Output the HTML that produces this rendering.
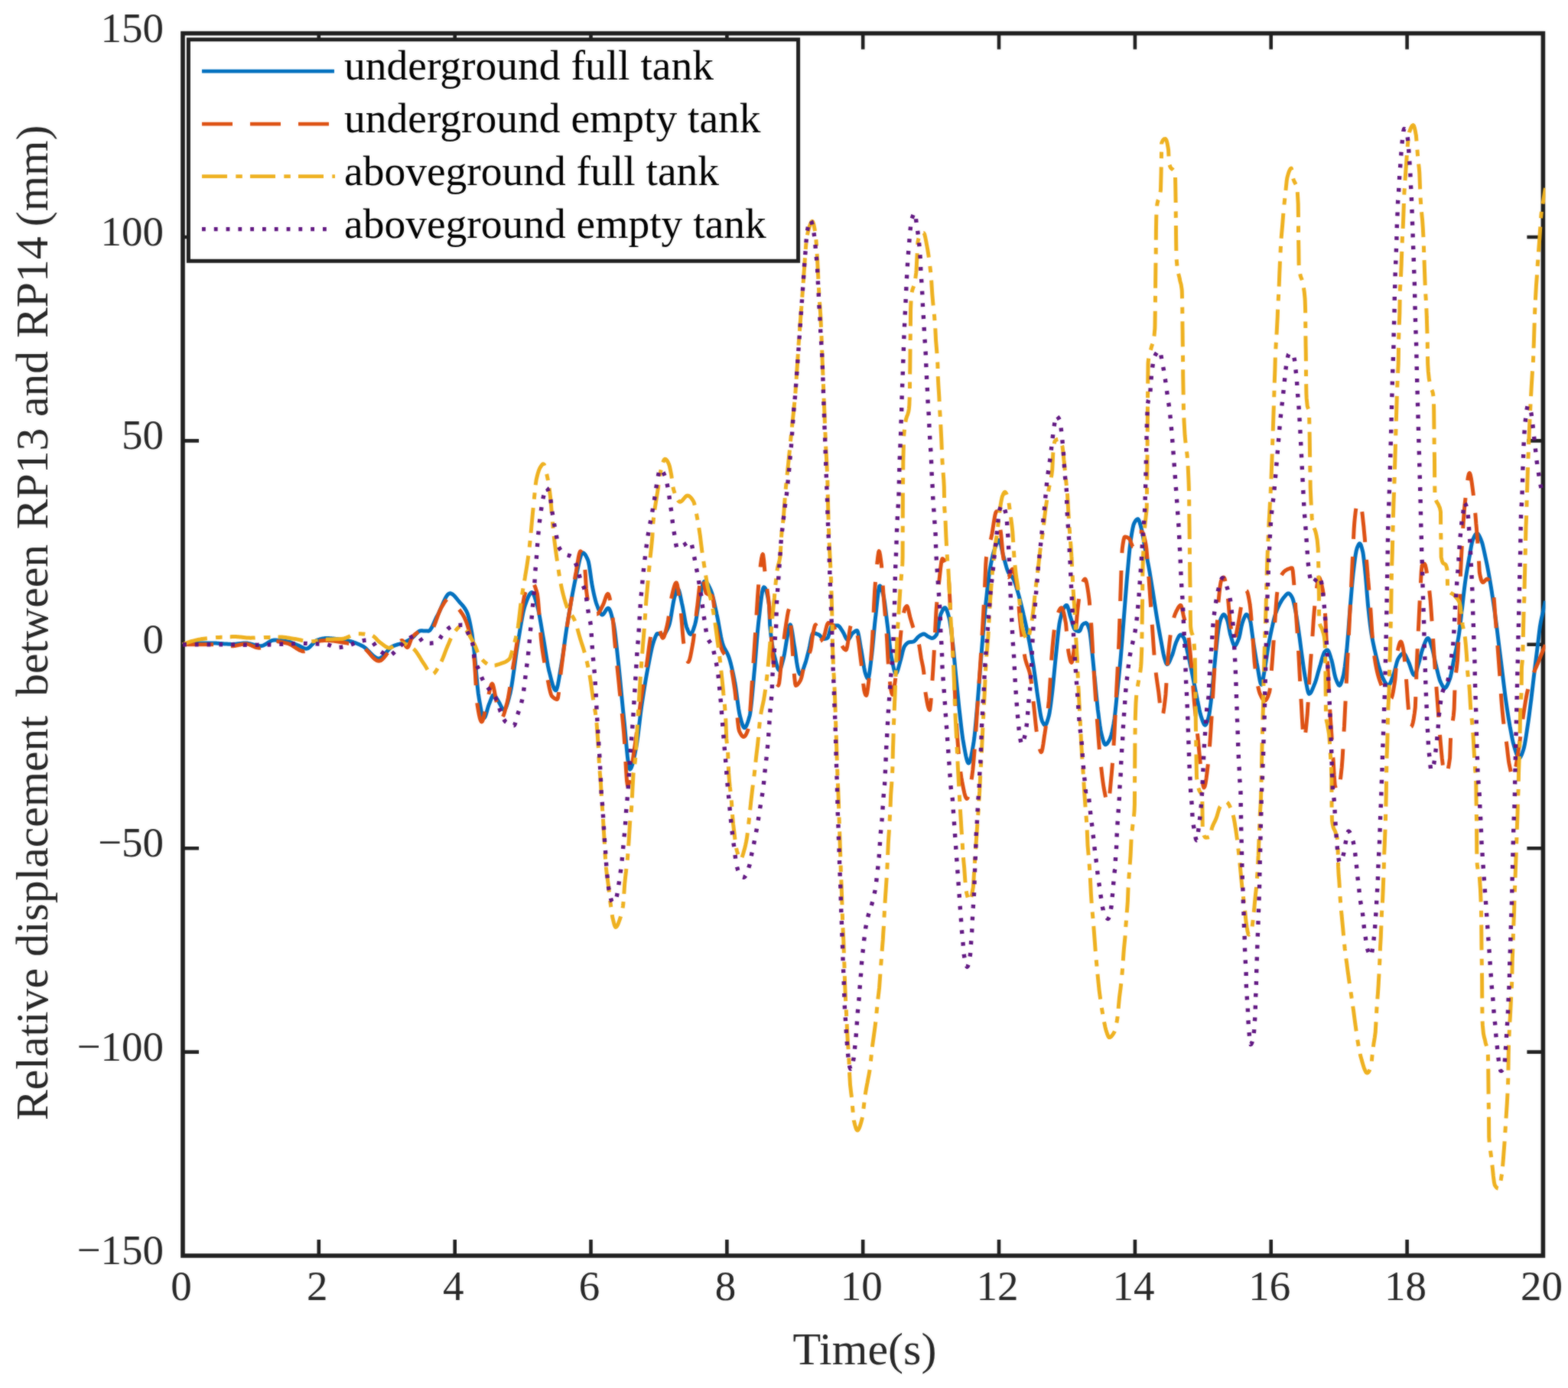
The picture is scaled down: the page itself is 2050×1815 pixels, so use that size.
<!DOCTYPE html>
<html lang="en"><head><meta charset="utf-8"><title>Relative displacement between RP13 and RP14</title>
<style>html,body{margin:0;padding:0;background:#fff}body{width:2050px;height:1815px;overflow:hidden}svg{display:block}text{font-family:"Liberation Serif","DejaVu Serif",serif;fill:#262626}.lg text{fill:#000}</style>
</head><body>
<svg width="2050" height="1815" viewBox="0 0 2050 1815">
<defs><filter id="soft" x="0" y="0" width="2050" height="1815" filterUnits="userSpaceOnUse" color-interpolation-filters="sRGB"><feGaussianBlur in="SourceGraphic" stdDeviation="1" result="b"/><feComposite in="SourceGraphic" in2="b" operator="arithmetic" k1="0" k2="0.5" k3="0.5" k4="0"/></filter></defs>
<rect width="2050" height="1815" fill="#fff"/>
<g filter="url(#soft)">
<rect width="2050" height="1815" fill="#fff"/>
<g stroke="#1f1f1f" stroke-width="5.6" fill="none">
<rect x="239.0" y="43.6" width="1778.4" height="1598.4"/>
<path d="M416.8,1642.0 v-21 M416.8,43.6 v21 M594.7,1642.0 v-21 M594.7,43.6 v21 M772.5,1642.0 v-21 M772.5,43.6 v21 M950.4,1642.0 v-21 M950.4,43.6 v21 M1128.2,1642.0 v-21 M1128.2,43.6 v21 M1306.0,1642.0 v-21 M1306.0,43.6 v21 M1483.9,1642.0 v-21 M1483.9,43.6 v21 M1661.7,1642.0 v-21 M1661.7,43.6 v21 M1839.6,1642.0 v-21 M1839.6,43.6 v21 M239.0,1375.6 h21 M2017.4,1375.6 h-21 M239.0,1109.2 h21 M2017.4,1109.2 h-21 M239.0,842.8 h21 M2017.4,842.8 h-21 M239.0,576.4 h21 M2017.4,576.4 h-21 M239.0,310.0 h21 M2017.4,310.0 h-21" stroke-width="4.6"/>
</g>
<clipPath id="c"><rect x="236.0" y="40.6" width="1784.4" height="1604.4"/></clipPath>
<g clip-path="url(#c)" fill="none" stroke-width="5.0" stroke-linejoin="round">
<path d="M239.0,842.8 L240.0,842.6 L241.0,842.4 L242.0,842.3 L243.0,842.1 L244.0,842.0 L245.0,841.8 L246.0,841.7 L247.0,841.6 L248.0,841.4 L249.0,841.3 L250.0,841.2 L251.0,841.1 L252.0,841.1 L253.0,841.0 L254.0,841.0 L254.7,841.0 L255.0,841.0 L256.0,841.0 L257.0,841.0 L258.0,841.0 L259.0,841.0 L260.0,841.0 L261.0,841.0 L262.0,841.0 L263.0,841.0 L264.0,841.0 L265.0,841.0 L266.0,841.0 L267.0,841.0 L268.0,841.0 L269.0,841.0 L270.0,841.0 L271.0,841.0 L272.0,841.0 L273.0,841.0 L274.0,841.0 L275.0,841.0 L276.0,841.0 L277.0,841.0 L278.0,841.0 L278.1,841.0 L279.0,841.0 L280.0,841.0 L281.0,841.1 L282.0,841.1 L283.0,841.1 L284.0,841.2 L285.0,841.3 L286.0,841.3 L287.0,841.4 L288.0,841.5 L289.0,841.5 L290.0,841.6 L291.0,841.7 L292.0,841.8 L293.0,841.9 L294.0,841.9 L295.0,842.0 L296.0,842.1 L297.0,842.1 L298.0,842.2 L299.0,842.3 L300.0,842.3 L301.1,842.3 L302.1,842.4 L303.1,842.4 L303.6,842.4 L304.1,842.4 L305.1,842.3 L306.1,842.3 L307.1,842.2 L308.1,842.2 L309.1,842.1 L310.1,842.0 L311.1,841.8 L312.1,841.7 L313.1,841.6 L314.1,841.5 L315.1,841.4 L316.1,841.3 L317.1,841.2 L318.1,841.1 L319.1,841.1 L320.1,841.0 L321.1,841.0 L321.2,841.0 L322.1,841.0 L323.1,841.1 L324.1,841.2 L325.1,841.4 L326.1,841.6 L327.1,841.8 L328.1,842.1 L329.1,842.3 L330.1,842.6 L331.1,842.9 L332.1,843.2 L333.1,843.5 L334.1,843.7 L335.1,844.0 L336.1,844.2 L337.1,844.4 L338.1,844.5 L339.1,844.6 L340.1,844.7 L340.8,844.7 L341.1,844.7 L342.1,844.6 L343.1,844.4 L344.1,844.0 L345.1,843.6 L346.1,843.1 L347.1,842.5 L348.1,841.9 L349.1,841.2 L350.1,840.6 L351.1,839.9 L352.1,839.3 L353.1,838.7 L354.1,838.2 L355.1,837.8 L356.1,837.4 L357.1,837.2 L358.1,837.1 L358.4,837.1 L359.1,837.1 L360.1,837.1 L361.1,837.1 L362.1,837.2 L363.1,837.3 L364.1,837.3 L365.1,837.4 L366.1,837.5 L367.1,837.6 L368.1,837.7 L369.1,837.8 L370.1,838.0 L371.1,838.1 L372.1,838.3 L373.1,838.4 L374.1,838.6 L375.1,838.7 L376.0,838.9 L376.1,838.9 L377.1,839.1 L378.1,839.3 L379.1,839.6 L380.1,839.9 L381.1,840.3 L382.1,840.7 L383.1,841.1 L384.1,841.6 L385.1,842.0 L386.1,842.4 L387.1,842.9 L388.1,843.3 L389.1,843.7 L389.7,843.9 L390.1,844.1 L391.1,844.6 L392.1,845.1 L393.1,845.6 L394.1,846.1 L395.1,846.6 L396.1,847.1 L397.1,847.5 L398.1,847.9 L399.1,848.1 L400.1,848.2 L400.4,848.2 L401.1,848.2 L402.1,847.9 L403.1,847.4 L404.1,846.7 L405.1,845.8 L406.1,844.9 L407.1,843.8 L408.1,842.8 L409.1,841.7 L410.1,840.6 L411.1,839.6 L412.1,838.7 L413.1,837.9 L414.1,837.3 L415.1,836.9 L415.1,836.9 L416.1,836.6 L417.1,836.3 L418.1,836.0 L419.1,835.7 L420.1,835.5 L421.1,835.2 L422.1,835.0 L423.1,834.9 L424.1,834.7 L425.2,834.6 L426.2,834.6 L426.9,834.5 L427.2,834.5 L428.2,834.6 L429.2,834.6 L430.2,834.6 L431.2,834.7 L432.2,834.7 L433.2,834.8 L434.2,834.9 L435.2,835.0 L436.2,835.1 L437.2,835.2 L438.2,835.3 L439.2,835.4 L440.2,835.5 L441.2,835.6 L442.2,835.7 L442.5,835.7 L443.2,835.8 L444.2,835.9 L445.2,836.0 L446.2,836.2 L447.2,836.3 L448.2,836.5 L449.2,836.6 L450.2,836.8 L451.2,837.0 L452.2,837.2 L453.2,837.4 L454.2,837.6 L455.2,837.8 L456.2,838.1 L456.2,838.1 L457.2,838.3 L458.2,838.6 L459.2,838.8 L460.2,839.1 L461.2,839.4 L462.2,839.8 L463.2,840.1 L464.2,840.5 L465.2,840.9 L466.2,841.3 L467.2,841.7 L468.2,842.1 L469.2,842.5 L470.2,843.0 L471.2,843.4 L472.2,843.9 L473.2,844.4 L473.8,844.7 L474.2,844.9 L475.2,845.5 L476.2,846.2 L477.2,847.0 L478.2,847.8 L479.2,848.7 L480.2,849.7 L481.2,850.7 L482.2,851.7 L483.2,852.8 L484.2,853.8 L485.2,854.8 L486.2,855.8 L487.2,856.7 L488.2,857.6 L489.2,858.4 L490.2,859.1 L491.2,859.7 L492.2,860.2 L493.2,860.6 L494.2,860.9 L495.2,861.0 L495.4,861.0 L496.2,860.9 L497.2,860.6 L498.2,860.1 L499.2,859.4 L500.2,858.5 L501.2,857.6 L502.2,856.5 L503.2,855.3 L504.2,854.1 L505.2,852.9 L506.2,851.7 L507.2,850.5 L508.2,849.3 L509.2,848.3 L510.2,847.3 L511.2,846.4 L512.2,845.7 L513.0,845.3 L513.2,845.2 L514.2,844.7 L515.2,844.3 L516.2,844.0 L517.2,843.6 L518.2,843.3 L519.2,843.0 L520.2,842.7 L521.2,842.4 L522.2,842.2 L523.2,841.9 L524.2,841.6 L525.2,841.3 L526.2,840.9 L527.2,840.6 L528.2,840.2 L528.6,840.0 L529.2,839.8 L530.2,839.3 L531.2,838.8 L532.2,838.3 L533.2,837.7 L534.2,837.2 L535.2,836.6 L536.2,836.0 L537.2,835.3 L538.2,834.7 L538.4,834.5 L539.2,833.9 L540.2,833.0 L541.2,832.0 L542.2,830.9 L543.2,829.8 L544.2,828.7 L545.2,827.7 L546.2,826.7 L547.2,825.9 L548.3,825.3 L549.3,824.9 L550.2,824.8 L550.3,824.8 L551.3,824.8 L552.3,824.8 L553.3,824.9 L554.3,824.9 L555.3,825.0 L556.3,825.0 L557.3,825.1 L558.3,825.1 L559.3,825.1 L559.9,825.2 L560.3,825.1 L561.3,824.7 L562.3,823.8 L563.3,822.4 L564.3,820.8 L565.3,818.8 L566.3,816.7 L567.3,814.5 L568.3,812.2 L569.3,810.0 L570.3,807.9 L571.3,805.9 L571.7,805.2 L572.3,804.1 L573.3,802.2 L574.3,800.1 L575.3,797.9 L576.3,795.6 L577.3,793.2 L578.3,790.9 L579.3,788.5 L580.3,786.3 L581.3,784.2 L582.3,782.2 L583.3,780.4 L584.3,778.9 L585.3,777.6 L586.3,776.7 L587.3,776.1 L588.3,775.8 L588.3,775.8 L589.3,776.0 L590.3,776.3 L591.3,776.9 L592.3,777.6 L593.3,778.5 L594.3,779.5 L595.3,780.6 L596.3,781.8 L597.3,783.0 L598.3,784.3 L599.3,785.5 L600.3,786.7 L601.0,787.6 L601.3,787.9 L602.3,789.0 L603.3,790.0 L604.3,791.2 L605.3,792.3 L606.3,793.6 L607.3,795.0 L608.3,796.5 L609.3,798.2 L610.3,800.2 L610.8,801.3 L611.3,802.5 L612.3,805.6 L613.3,809.5 L614.3,814.0 L615.3,819.1 L616.3,824.5 L616.7,826.7 L617.3,830.5 L618.3,837.8 L619.3,846.0 L620.0,851.9 L620.3,854.7 L621.3,864.8 L622.3,876.0 L623.3,887.4 L624.3,898.0 L625.3,906.8 L625.9,910.6 L626.3,913.3 L627.3,919.2 L628.3,924.9 L629.3,930.0 L630.3,934.2 L631.3,937.3 L632.3,938.8 L632.7,939.0 L633.3,938.7 L634.3,937.1 L635.3,934.4 L636.3,931.0 L637.3,927.4 L638.3,923.9 L639.3,921.0 L639.6,920.4 L640.3,918.6 L641.3,915.9 L642.3,913.3 L643.3,911.0 L644.3,909.4 L645.3,908.7 L645.4,908.7 L646.3,909.0 L647.3,910.0 L648.3,911.5 L649.3,913.2 L650.3,915.0 L651.3,916.5 L651.3,916.5 L652.3,918.1 L653.3,920.0 L654.3,922.0 L655.3,923.9 L656.3,925.7 L657.3,927.1 L658.3,928.0 L659.1,928.2 L659.3,928.2 L660.3,927.5 L661.3,925.8 L662.3,923.3 L663.3,920.3 L664.3,916.8 L665.3,913.0 L666.3,909.1 L667.0,906.7 L667.3,905.2 L668.3,900.3 L669.3,894.4 L670.3,887.8 L671.3,880.6 L672.4,873.1 L673.4,865.6 L674.4,858.1 L675.4,851.0 L676.4,844.5 L676.8,842.1 L677.4,838.6 L678.4,832.6 L679.4,826.5 L680.4,820.4 L681.4,814.6 L682.4,809.0 L683.4,803.8 L684.4,799.1 L685.4,795.0 L686.4,791.7 L686.5,791.2 L687.4,789.0 L688.4,786.2 L689.4,783.6 L690.4,781.2 L691.4,779.0 L692.4,777.2 L693.4,775.8 L694.4,774.9 L695.3,774.6 L695.4,774.6 L696.4,775.2 L697.4,776.7 L698.4,779.0 L699.4,781.9 L700.4,785.1 L701.4,788.5 L702.2,791.2 L702.4,791.9 L703.4,795.8 L704.4,800.4 L705.4,805.6 L706.4,811.2 L707.4,817.0 L708.4,823.0 L709.4,828.8 L710.0,832.3 L710.4,834.4 L711.4,840.3 L712.4,846.6 L713.4,852.9 L714.4,859.2 L715.4,865.2 L716.4,870.7 L717.4,875.5 L717.8,877.4 L718.4,879.5 L719.4,883.5 L720.4,887.5 L721.4,891.3 L722.4,894.8 L723.4,897.9 L724.4,900.3 L725.4,902.0 L726.4,902.8 L726.7,902.8 L727.4,902.2 L728.4,899.5 L729.4,895.3 L730.4,890.0 L731.4,884.0 L732.4,877.9 L733.4,872.0 L733.5,871.5 L734.4,866.3 L735.4,859.9 L736.4,853.0 L737.4,845.8 L738.4,838.6 L739.4,831.4 L740.4,824.5 L741.3,818.6 L741.4,818.2 L742.4,812.1 L743.4,806.0 L744.4,800.0 L745.4,794.0 L746.4,788.2 L747.4,782.5 L748.4,776.9 L749.4,771.6 L750.4,766.5 L751.4,761.6 L752.4,756.9 L753.1,754.1 L753.4,752.6 L754.4,748.0 L755.4,743.2 L756.4,738.4 L757.4,733.9 L758.4,729.9 L759.4,726.6 L760.4,724.2 L761.4,722.9 L761.9,722.8 L762.4,722.8 L763.4,723.4 L764.4,724.4 L765.4,725.8 L766.4,727.6 L767.4,729.6 L768.4,731.8 L768.7,732.5 L769.4,734.8 L770.4,740.0 L771.4,746.7 L772.4,753.9 L773.4,761.0 L774.4,766.9 L774.6,767.8 L775.4,771.7 L776.4,776.4 L777.4,780.7 L778.4,784.7 L779.4,788.2 L780.4,791.2 L780.5,791.2 L781.4,793.8 L782.4,796.4 L783.4,798.8 L784.4,800.9 L785.4,802.6 L786.4,803.6 L787.3,804.0 L787.4,804.0 L788.4,803.5 L789.4,802.4 L790.4,800.9 L791.4,799.2 L792.4,797.6 L793.4,796.2 L794.4,795.4 L795.1,795.2 L795.5,795.2 L796.5,796.2 L797.5,798.1 L798.5,800.9 L799.5,804.4 L800.5,808.3 L801.5,812.4 L802.0,814.7 L802.5,816.9 L803.5,823.1 L804.5,830.8 L805.5,839.5 L806.5,848.8 L807.5,858.0 L807.9,861.7 L808.5,867.1 L809.5,876.7 L810.5,886.8 L811.5,897.2 L812.5,907.7 L813.5,918.1 L814.5,928.2 L815.5,937.9 L815.7,940.0 L816.5,947.5 L817.5,958.3 L818.5,969.6 L819.5,980.5 L820.5,990.4 L821.5,998.4 L822.5,1003.9 L823.5,1006.0 L823.5,1006.0 L824.5,1005.4 L825.5,1003.5 L826.5,1000.7 L827.5,997.0 L828.5,992.7 L829.5,988.1 L830.5,983.3 L831.4,979.1 L831.5,978.5 L832.5,972.8 L833.5,965.9 L834.5,958.1 L835.5,949.8 L836.5,941.3 L837.5,933.0 L838.5,925.3 L839.2,920.4 L839.5,918.4 L840.5,911.8 L841.5,905.4 L842.5,899.1 L843.5,893.0 L844.5,887.2 L845.5,881.5 L846.5,876.1 L847.0,873.4 L847.5,870.9 L848.5,865.7 L849.5,860.5 L850.5,855.5 L851.5,850.7 L852.5,846.3 L853.5,842.4 L854.5,839.2 L854.8,838.2 L855.5,836.4 L856.5,833.6 L857.5,831.2 L858.5,829.3 L859.5,828.5 L859.7,828.4 L860.5,828.5 L861.5,828.8 L862.5,829.1 L863.5,829.6 L864.5,830.0 L865.5,830.3 L866.5,830.4 L866.6,830.4 L867.5,830.1 L868.5,829.4 L869.5,828.3 L870.5,826.7 L871.5,824.9 L872.5,822.9 L873.5,820.7 L874.4,818.6 L874.5,818.4 L875.5,815.0 L876.5,810.4 L877.5,804.8 L878.5,798.7 L879.5,792.7 L880.5,787.0 L881.5,782.2 L882.2,779.5 L882.5,778.6 L883.5,775.1 L884.5,772.1 L885.5,770.1 L886.1,769.7 L886.5,769.9 L887.5,771.7 L888.5,775.0 L889.5,779.4 L890.5,784.3 L891.5,789.1 L892.0,791.2 L892.5,793.6 L893.5,798.9 L894.5,804.7 L895.5,810.4 L896.5,815.6 L897.5,819.6 L897.9,820.6 L898.5,822.3 L899.5,824.8 L900.5,827.0 L901.5,828.6 L902.5,829.4 L902.8,829.4 L903.5,829.1 L904.5,827.8 L905.5,825.7 L906.5,823.1 L907.5,820.1 L908.5,817.0 L908.6,816.7 L909.5,813.2 L910.5,807.8 L911.5,801.4 L912.5,794.6 L913.5,787.9 L914.5,782.0 L915.5,777.5 L915.5,777.4 L916.5,773.3 L917.5,769.2 L918.6,765.5 L919.6,762.4 L920.6,760.5 L921.4,759.9 L921.6,759.9 L922.6,760.3 L923.6,761.2 L924.6,762.5 L925.6,764.1 L926.6,766.0 L927.6,768.1 L928.6,770.3 L929.2,771.7 L929.6,772.5 L930.6,775.3 L931.6,778.8 L932.6,782.8 L933.6,787.1 L934.6,791.7 L935.6,796.3 L936.6,800.9 L937.0,803.0 L937.6,805.5 L938.6,810.6 L939.6,816.2 L940.6,821.9 L941.6,827.5 L942.6,832.8 L943.6,837.4 L944.6,841.2 L944.9,842.1 L945.6,844.1 L946.6,846.5 L947.6,848.5 L948.6,850.3 L949.6,852.0 L950.6,853.9 L951.6,856.0 L952.6,858.5 L952.7,858.8 L953.6,861.4 L954.6,864.8 L955.6,868.5 L956.6,872.6 L957.6,877.0 L958.6,881.6 L959.6,886.4 L960.5,891.0 L960.6,891.4 L961.6,897.4 L962.6,904.4 L963.6,912.0 L964.6,919.6 L965.6,926.7 L966.6,932.6 L967.4,936.1 L967.6,936.9 L968.6,940.7 L969.6,944.3 L970.6,947.5 L971.6,950.0 L972.6,951.4 L973.2,951.7 L973.6,951.7 L974.6,950.9 L975.6,949.4 L976.6,947.2 L977.6,944.5 L978.6,941.3 L979.6,937.8 L980.1,936.1 L980.6,933.7 L981.6,926.8 L982.6,917.7 L983.6,907.2 L984.6,896.0 L985.6,884.9 L985.9,881.3 L986.6,874.1 L987.6,862.0 L988.6,849.2 L989.6,836.5 L990.6,824.7 L991.6,814.6 L991.8,812.8 L992.6,805.9 L993.6,796.9 L994.6,788.1 L995.6,780.3 L996.6,773.8 L997.6,769.5 L998.6,767.8 L998.7,767.8 L999.6,768.2 L1000.6,769.5 L1001.6,771.8 L1002.6,775.2 L1003.6,779.6 L1004.6,785.2 L1005.5,791.2 L1005.6,792.4 L1006.6,816.7 L1006.6,816.8 L1007.6,827.5 L1008.6,836.3 L1009.6,843.5 L1010.6,849.4 L1011.6,854.3 L1012.6,858.5 L1013.3,861.0 L1013.6,862.4 L1014.6,866.4 L1015.6,870.1 L1016.6,873.2 L1017.6,875.5 L1018.6,876.4 L1018.8,876.5 L1019.6,875.9 L1020.6,874.0 L1021.6,871.0 L1022.6,867.4 L1023.6,863.6 L1024.3,861.0 L1024.6,859.7 L1025.6,854.7 L1026.6,848.8 L1027.6,842.5 L1028.6,836.4 L1029.6,831.0 L1029.8,830.1 L1030.6,826.0 L1031.6,820.8 L1032.6,817.3 L1033.1,816.8 L1033.6,817.2 L1034.6,820.3 L1035.6,825.6 L1036.6,832.2 L1037.6,839.1 L1038.6,845.4 L1038.7,845.5 L1039.6,851.6 L1040.6,858.7 L1041.6,865.9 L1042.7,872.3 L1043.7,877.1 L1044.2,878.7 L1044.7,879.7 L1045.7,881.5 L1046.4,882.0 L1046.7,881.9 L1047.7,881.0 L1048.7,879.1 L1049.7,876.5 L1050.7,873.5 L1051.7,870.6 L1051.9,869.8 L1052.7,867.7 L1053.7,864.4 L1054.7,860.8 L1055.7,856.9 L1056.7,853.0 L1057.5,849.9 L1057.7,849.1 L1058.7,844.5 L1059.7,839.2 L1060.7,834.1 L1061.7,830.1 L1062.7,828.0 L1063.0,827.8 L1063.7,827.9 L1064.7,828.0 L1065.7,828.2 L1066.7,828.5 L1067.7,828.8 L1068.7,829.2 L1069.7,829.6 L1070.7,830.0 L1070.7,830.1 L1071.7,830.8 L1072.7,832.0 L1073.7,833.4 L1074.7,834.6 L1075.7,835.4 L1076.2,835.6 L1076.7,835.6 L1077.7,835.5 L1078.7,835.3 L1079.7,835.1 L1080.7,834.8 L1081.7,834.5 L1081.8,834.5 L1082.7,833.1 L1083.7,830.0 L1084.7,826.1 L1085.7,822.3 L1086.7,819.6 L1087.3,819.0 L1087.7,818.9 L1088.7,818.6 L1089.7,818.4 L1090.7,818.2 L1091.7,818.1 L1092.7,818.0 L1093.7,817.9 L1094.7,817.9 L1095.0,817.9 L1095.7,818.0 L1096.7,818.7 L1097.7,819.8 L1098.7,821.1 L1099.7,822.7 L1100.7,824.2 L1101.7,825.6 L1101.7,825.7 L1102.7,827.4 L1103.7,829.5 L1104.7,831.7 L1105.7,833.8 L1106.7,835.5 L1107.7,836.5 L1108.3,836.7 L1108.7,836.6 L1109.7,835.8 L1110.7,834.5 L1111.7,832.8 L1112.7,830.9 L1113.7,829.3 L1114.7,828.0 L1114.9,827.8 L1115.7,827.2 L1116.7,826.4 L1117.7,825.6 L1118.7,825.0 L1119.7,824.6 L1120.4,824.5 L1120.7,824.6 L1121.7,826.8 L1122.7,831.1 L1123.7,836.7 L1124.7,842.9 L1125.7,848.6 L1126.0,849.9 L1126.7,854.1 L1127.7,860.4 L1128.7,866.9 L1129.7,873.0 L1130.7,878.1 L1131.5,880.9 L1131.7,881.5 L1132.7,884.3 L1133.7,886.5 L1134.7,887.5 L1134.8,887.5 L1135.7,885.7 L1136.7,880.4 L1137.7,872.9 L1138.7,864.8 L1139.2,861.0 L1139.7,857.0 L1140.7,847.5 L1141.7,836.9 L1142.7,825.8 L1143.7,815.2 L1144.7,805.9 L1144.8,805.7 L1145.7,796.9 L1146.7,787.2 L1147.7,778.2 L1148.7,770.9 L1149.7,766.6 L1150.3,766.0 L1150.7,766.1 L1151.7,767.6 L1152.7,770.2 L1153.7,773.5 L1154.7,777.0 L1154.7,777.2 L1155.7,782.0 L1156.7,788.7 L1157.7,796.5 L1158.7,804.8 L1159.7,813.1 L1160.2,816.8 L1160.7,821.0 L1161.7,829.6 L1162.7,838.6 L1163.7,847.3 L1164.7,855.0 L1165.7,861.0 L1165.8,861.0 L1166.8,866.1 L1167.8,871.0 L1168.8,875.4 L1169.8,878.7 L1170.8,880.6 L1171.3,880.9 L1171.8,880.7 L1172.8,879.1 L1173.8,876.2 L1174.8,872.7 L1175.8,869.0 L1176.8,865.5 L1176.8,865.4 L1177.8,862.0 L1178.8,857.8 L1179.8,853.5 L1180.8,849.6 L1181.8,846.6 L1182.3,845.5 L1182.8,844.8 L1183.8,843.4 L1184.8,842.2 L1185.8,841.2 L1186.8,840.5 L1187.8,840.0 L1187.8,840.0 L1188.8,839.8 L1189.8,839.6 L1190.8,839.5 L1191.8,839.4 L1192.8,839.3 L1193.8,839.1 L1194.5,838.9 L1194.8,838.8 L1195.8,838.1 L1196.8,837.1 L1197.8,835.9 L1198.8,834.6 L1199.8,833.5 L1200.8,832.5 L1201.1,832.3 L1201.8,831.8 L1202.8,831.1 L1203.8,830.4 L1204.8,829.9 L1205.8,829.4 L1206.8,829.1 L1207.7,829.0 L1207.8,829.0 L1208.8,829.2 L1209.8,829.8 L1210.8,830.5 L1211.8,831.3 L1212.8,832.0 L1213.3,832.3 L1213.8,832.5 L1214.8,833.1 L1215.8,833.6 L1216.8,834.0 L1217.8,834.4 L1218.8,834.5 L1218.8,834.5 L1219.8,834.3 L1220.8,833.8 L1221.8,833.0 L1222.8,832.0 L1223.8,830.7 L1224.3,830.1 L1224.8,829.0 L1225.8,824.9 L1226.8,819.2 L1227.8,813.0 L1228.8,807.4 L1229.8,803.6 L1229.8,803.5 L1230.8,801.2 L1231.8,799.0 L1232.8,797.1 L1233.8,795.6 L1234.8,794.8 L1235.4,794.7 L1235.8,794.8 L1236.8,795.9 L1237.8,798.0 L1238.8,800.8 L1239.8,804.1 L1240.8,807.7 L1240.9,808.0 L1241.8,812.3 L1242.8,818.8 L1243.8,826.5 L1244.8,834.8 L1245.3,838.9 L1245.8,843.3 L1246.8,852.9 L1247.8,863.2 L1248.8,873.8 L1249.7,883.1 L1249.8,884.0 L1250.8,894.3 L1251.8,904.6 L1252.8,914.8 L1253.8,924.4 L1254.1,927.3 L1254.8,933.4 L1255.8,942.4 L1256.8,951.1 L1257.8,959.3 L1258.8,966.4 L1259.7,971.5 L1259.8,972.3 L1260.8,977.9 L1261.8,983.4 L1262.8,988.5 L1263.8,992.8 L1264.8,996.0 L1265.8,997.8 L1266.3,998.0 L1266.8,997.8 L1267.8,996.0 L1268.8,992.9 L1269.8,988.6 L1270.8,983.5 L1271.8,977.9 L1272.8,972.0 L1272.9,971.5 L1273.8,964.9 L1274.8,955.4 L1275.8,944.5 L1276.8,933.0 L1277.3,927.3 L1277.8,921.7 L1278.8,909.4 L1279.8,896.6 L1280.8,883.7 L1281.8,872.0 L1281.8,871.1 L1282.8,858.7 L1283.8,846.1 L1284.8,833.7 L1285.8,821.7 L1286.8,810.4 L1287.3,805.7 L1287.8,800.0 L1288.8,789.6 L1289.9,779.5 L1290.9,769.9 L1291.9,761.0 L1292.9,753.1 L1293.9,746.5 L1293.9,746.1 L1294.9,740.8 L1295.9,735.6 L1296.9,730.8 L1297.9,726.5 L1298.9,722.7 L1299.9,719.4 L1300.6,717.3 L1300.9,716.5 L1301.9,713.7 L1302.9,711.1 L1303.9,708.8 L1304.9,707.1 L1305.9,706.3 L1306.1,706.3 L1306.9,707.1 L1307.9,709.8 L1308.9,714.0 L1309.9,718.7 L1310.9,723.3 L1311.6,726.2 L1311.9,727.1 L1312.9,730.8 L1313.9,734.6 L1314.9,738.4 L1315.9,741.9 L1316.9,745.0 L1317.9,747.6 L1318.2,748.3 L1318.9,749.4 L1319.9,750.9 L1320.9,752.0 L1321.9,753.1 L1322.9,754.2 L1323.9,755.5 L1324.9,757.1 L1324.9,757.2 L1325.9,759.3 L1326.9,761.9 L1327.9,764.8 L1328.9,768.1 L1329.9,771.5 L1330.9,774.9 L1331.5,777.0 L1331.9,778.4 L1332.9,782.0 L1333.9,785.9 L1334.9,789.9 L1335.9,794.0 L1336.9,798.2 L1337.9,802.5 L1338.1,803.5 L1338.9,806.9 L1339.9,811.3 L1340.9,815.8 L1341.9,820.5 L1342.9,825.2 L1343.9,830.1 L1344.8,834.5 L1344.9,835.2 L1345.9,840.4 L1346.9,845.8 L1347.9,851.3 L1348.9,857.0 L1349.9,862.9 L1350.9,869.0 L1351.4,872.0 L1351.9,875.5 L1352.9,882.6 L1353.9,890.1 L1354.9,897.7 L1355.9,905.1 L1356.9,911.8 L1356.9,911.8 L1357.9,918.4 L1358.9,925.2 L1359.9,931.6 L1360.9,937.2 L1361.9,941.3 L1362.4,942.8 L1362.9,943.8 L1363.9,945.7 L1364.9,947.3 L1365.9,948.2 L1366.4,948.3 L1366.9,948.1 L1367.9,946.7 L1368.9,944.3 L1369.9,941.1 L1370.9,937.4 L1371.3,936.1 L1371.9,933.3 L1372.9,927.2 L1373.9,919.8 L1374.9,911.6 L1375.7,905.2 L1375.9,903.3 L1376.9,893.9 L1377.9,883.5 L1378.9,872.9 L1379.9,862.8 L1380.1,861.0 L1380.9,853.1 L1381.9,842.9 L1382.9,832.9 L1383.9,823.9 L1384.9,816.3 L1385.6,812.4 L1385.9,811.0 L1386.9,806.7 L1387.9,802.9 L1388.9,799.6 L1389.9,797.0 L1390.9,795.0 L1391.2,794.7 L1391.9,793.6 L1392.9,792.3 L1393.9,791.5 L1394.5,791.4 L1394.9,791.6 L1395.9,793.5 L1396.9,796.8 L1397.9,800.7 L1398.9,804.7 L1399.9,808.0 L1399.9,808.1 L1400.9,811.3 L1401.9,814.8 L1402.9,818.2 L1403.9,821.0 L1404.9,822.9 L1405.4,823.4 L1405.9,823.8 L1406.9,824.4 L1407.9,824.9 L1408.9,825.3 L1409.9,825.5 L1410.9,825.6 L1410.9,825.6 L1411.9,824.6 L1413.0,822.2 L1414.0,819.4 L1415.0,817.3 L1415.4,816.8 L1416.0,816.3 L1417.0,815.6 L1418.0,815.1 L1419.0,814.7 L1419.8,814.6 L1420.0,814.6 L1421.0,815.4 L1422.0,817.1 L1423.0,819.6 L1424.0,822.6 L1424.2,823.4 L1425.0,827.3 L1426.0,835.3 L1427.0,844.8 L1427.5,849.9 L1428.0,854.1 L1429.0,863.9 L1430.0,874.3 L1430.8,883.1 L1431.0,884.5 L1432.0,894.8 L1433.0,905.4 L1434.0,915.6 L1435.0,924.9 L1435.2,927.3 L1436.0,933.2 L1437.0,941.3 L1438.0,948.7 L1439.0,954.9 L1439.7,958.2 L1440.0,959.5 L1441.0,963.5 L1442.0,967.2 L1443.0,970.4 L1444.0,972.6 L1445.0,973.7 L1445.2,973.7 L1446.0,973.5 L1447.0,972.8 L1448.0,971.6 L1449.0,970.1 L1450.0,968.4 L1450.7,967.1 L1451.0,966.6 L1452.0,964.0 L1453.0,960.6 L1454.0,956.5 L1455.0,951.7 L1456.0,946.4 L1456.2,945.0 L1457.0,940.1 L1458.0,931.6 L1459.0,921.9 L1460.0,911.8 L1460.7,905.2 L1461.0,902.1 L1462.0,892.6 L1463.0,882.8 L1464.0,872.7 L1465.0,862.0 L1465.1,861.0 L1466.0,850.4 L1467.0,838.0 L1468.0,825.1 L1469.0,812.2 L1469.5,805.7 L1470.0,799.5 L1471.0,786.6 L1472.0,773.7 L1473.0,761.2 L1473.9,750.5 L1474.0,749.6 L1475.0,738.4 L1476.0,727.3 L1477.0,717.2 L1478.0,708.7 L1478.3,706.3 L1479.0,701.9 L1480.0,695.7 L1481.0,690.3 L1482.0,686.2 L1482.8,684.2 L1483.0,683.7 L1484.0,682.0 L1485.0,680.5 L1486.0,679.4 L1487.0,678.8 L1487.6,678.7 L1488.0,678.8 L1489.0,680.3 L1490.0,683.0 L1491.0,686.5 L1492.0,690.4 L1492.7,693.0 L1493.0,694.3 L1494.0,699.2 L1495.0,705.0 L1496.0,711.0 L1497.0,716.8 L1497.1,717.3 L1498.0,721.9 L1499.0,726.8 L1500.0,731.6 L1501.0,736.7 L1501.5,739.4 L1502.0,742.1 L1503.0,747.8 L1504.0,753.8 L1505.0,759.9 L1506.0,766.1 L1507.0,772.3 L1507.1,772.6 L1508.0,778.6 L1509.0,785.1 L1510.0,791.7 L1511.0,798.2 L1512.0,804.5 L1512.6,808.0 L1513.0,810.5 L1514.0,816.4 L1515.0,822.1 L1516.0,827.7 L1517.0,833.1 L1518.0,838.4 L1518.1,838.9 L1519.0,843.9 L1520.0,849.5 L1521.0,854.8 L1522.0,859.2 L1522.5,861.0 L1523.0,862.6 L1524.0,865.7 L1525.0,868.0 L1525.9,868.7 L1526.0,868.7 L1527.0,868.1 L1528.0,866.8 L1529.0,864.9 L1530.0,862.6 L1531.0,860.1 L1532.0,857.6 L1532.5,856.6 L1533.0,855.1 L1534.0,851.9 L1535.0,848.3 L1536.0,844.7 L1537.1,841.4 L1538.0,838.9 L1538.1,838.8 L1539.1,836.6 L1540.1,834.4 L1541.1,832.5 L1542.1,831.0 L1543.1,830.2 L1543.5,830.1 L1544.1,830.1 L1545.1,830.7 L1546.1,831.7 L1547.1,833.1 L1548.0,834.5 L1548.1,834.7 L1549.1,837.4 L1550.1,841.4 L1551.1,846.1 L1552.1,850.8 L1552.4,852.2 L1553.1,855.1 L1554.1,859.5 L1555.1,864.0 L1556.1,868.6 L1556.8,872.0 L1557.1,873.3 L1558.1,878.2 L1559.1,883.3 L1560.1,888.4 L1561.1,893.4 L1561.2,894.1 L1562.1,898.5 L1563.1,903.5 L1564.1,908.6 L1565.1,913.5 L1565.6,916.2 L1566.1,918.4 L1567.1,923.4 L1568.1,928.3 L1569.1,932.7 L1570.1,936.1 L1570.1,936.2 L1571.1,939.3 L1572.1,942.3 L1573.1,944.9 L1574.1,947.0 L1575.1,948.1 L1575.6,948.3 L1576.1,948.1 L1577.1,946.8 L1578.1,944.4 L1579.1,941.4 L1580.0,938.3 L1580.1,938.0 L1581.1,933.0 L1582.1,926.0 L1583.1,918.1 L1583.3,916.2 L1584.1,909.4 L1585.1,899.3 L1586.1,888.6 L1586.6,883.1 L1587.1,878.4 L1588.1,868.2 L1589.1,858.1 L1589.9,849.9 L1590.1,848.5 L1591.1,838.8 L1592.1,829.6 L1593.1,822.2 L1593.3,821.2 L1594.1,816.9 L1595.1,812.4 L1596.1,809.1 L1596.6,808.0 L1597.1,806.9 L1598.1,805.1 L1599.1,803.9 L1599.9,803.5 L1600.1,803.6 L1601.1,804.2 L1602.1,805.6 L1603.1,807.5 L1604.1,809.7 L1604.3,810.2 L1605.1,812.7 L1606.1,817.3 L1607.1,822.7 L1608.1,827.6 L1608.7,830.1 L1609.1,831.3 L1610.1,834.9 L1611.1,838.3 L1612.1,841.3 L1613.1,843.5 L1614.1,844.4 L1614.3,844.4 L1615.1,844.1 L1616.1,842.9 L1617.1,841.0 L1618.1,838.8 L1619.1,836.2 L1619.8,834.5 L1620.1,833.5 L1621.1,829.2 L1622.1,823.9 L1623.1,818.8 L1624.1,814.8 L1624.2,814.6 L1625.1,812.0 L1626.1,809.2 L1627.1,806.8 L1628.1,804.9 L1629.1,803.7 L1629.7,803.5 L1630.1,803.6 L1631.1,804.4 L1632.1,805.8 L1633.1,807.8 L1634.1,810.1 L1634.1,810.2 L1635.1,814.2 L1636.1,820.8 L1637.1,828.5 L1638.1,836.0 L1638.6,838.9 L1639.1,842.5 L1640.1,848.8 L1641.1,855.0 L1642.1,861.1 L1643.1,866.9 L1644.1,872.0 L1644.1,872.3 L1645.1,878.0 L1646.1,884.1 L1647.1,889.6 L1648.1,893.6 L1649.1,895.2 L1649.2,895.2 L1650.1,893.7 L1651.1,889.5 L1652.1,883.7 L1653.1,877.4 L1654.0,872.0 L1654.1,871.4 L1655.1,865.2 L1656.1,858.4 L1657.1,851.5 L1658.1,845.1 L1658.5,843.3 L1659.1,839.5 L1660.2,834.2 L1661.2,829.2 L1662.2,824.5 L1662.9,821.2 L1663.2,820.0 L1664.2,815.5 L1665.2,811.3 L1666.2,807.4 L1667.2,804.0 L1667.3,803.5 L1668.2,801.0 L1669.2,798.3 L1670.2,795.9 L1671.2,793.6 L1672.2,791.6 L1672.8,790.3 L1673.2,789.6 L1674.2,787.8 L1675.2,786.0 L1676.2,784.4 L1677.2,782.9 L1678.2,781.6 L1678.3,781.4 L1679.2,780.5 L1680.2,779.2 L1681.2,778.1 L1682.2,777.1 L1683.2,776.3 L1684.2,775.9 L1684.5,775.9 L1685.2,776.0 L1686.2,776.7 L1687.2,777.9 L1688.2,779.3 L1689.2,781.0 L1689.4,781.4 L1690.2,783.3 L1691.2,786.8 L1692.2,791.1 L1693.2,796.0 L1693.8,799.1 L1694.2,801.0 L1695.2,806.9 L1696.2,813.4 L1697.2,820.4 L1698.2,827.5 L1698.2,827.8 L1699.2,834.7 L1700.2,842.4 L1701.2,850.2 L1702.2,857.7 L1702.7,861.0 L1703.2,864.7 L1704.2,871.8 L1705.2,878.6 L1706.2,884.9 L1707.1,889.7 L1707.2,890.3 L1708.2,895.6 L1709.2,900.9 L1710.2,905.0 L1711.2,907.3 L1711.5,907.4 L1712.2,907.2 L1713.2,906.3 L1714.2,904.8 L1715.2,902.8 L1716.2,900.5 L1717.2,898.1 L1718.2,895.6 L1718.8,894.1 L1719.2,893.1 L1720.2,890.2 L1721.2,886.9 L1722.2,883.4 L1723.2,879.7 L1724.2,876.1 L1725.2,872.7 L1725.4,872.0 L1726.2,869.4 L1727.2,865.8 L1728.2,862.2 L1729.2,858.7 L1730.2,855.7 L1731.2,853.4 L1732.0,852.2 L1732.2,852.0 L1733.2,851.0 L1734.2,850.3 L1735.2,850.0 L1735.4,849.9 L1736.2,850.4 L1737.2,852.1 L1738.2,854.7 L1739.2,857.8 L1740.2,861.1 L1740.9,863.2 L1741.2,864.3 L1742.2,868.5 L1743.2,873.5 L1744.2,878.7 L1745.2,883.4 L1746.2,887.0 L1746.4,887.5 L1747.2,889.6 L1748.2,892.1 L1749.2,894.2 L1750.2,895.8 L1751.2,896.4 L1751.3,896.4 L1752.2,895.7 L1753.2,893.8 L1754.2,890.9 L1755.2,887.4 L1756.2,883.6 L1756.4,883.1 L1757.2,878.8 L1758.2,872.1 L1759.2,864.0 L1760.2,855.0 L1760.8,849.9 L1761.2,845.3 L1762.2,833.5 L1763.2,820.2 L1764.2,806.7 L1765.2,794.7 L1765.2,794.2 L1766.2,782.3 L1767.2,770.4 L1768.2,759.2 L1769.2,749.3 L1769.6,746.1 L1770.2,740.9 L1771.2,733.0 L1772.2,725.9 L1773.2,720.3 L1774.0,717.3 L1774.2,716.8 L1775.2,714.2 L1776.2,712.1 L1777.2,710.9 L1777.8,710.7 L1778.2,710.9 L1779.2,712.6 L1780.2,715.7 L1781.2,719.6 L1781.8,721.8 L1782.2,724.3 L1783.2,732.1 L1784.3,741.9 L1785.1,750.5 L1785.3,752.2 L1786.3,764.1 L1787.3,777.0 L1788.3,788.8 L1788.4,790.3 L1789.3,798.7 L1790.3,808.0 L1791.3,816.6 L1792.3,824.1 L1792.8,827.8 L1793.3,830.5 L1794.3,836.1 L1795.3,841.0 L1796.3,845.6 L1797.2,849.9 L1797.3,850.1 L1798.3,854.5 L1799.3,858.8 L1800.3,862.9 L1801.3,866.8 L1802.3,870.4 L1802.8,872.0 L1803.3,873.7 L1804.3,876.9 L1805.3,880.0 L1806.3,882.9 L1807.3,885.4 L1808.3,887.5 L1808.3,887.5 L1809.3,889.3 L1810.3,891.2 L1811.3,892.9 L1812.3,894.4 L1813.3,895.6 L1814.3,896.2 L1814.9,896.4 L1815.3,896.3 L1816.3,895.5 L1817.3,893.9 L1818.3,891.7 L1819.3,889.1 L1820.3,886.4 L1821.3,883.8 L1821.5,883.1 L1822.3,881.0 L1823.3,877.5 L1824.3,873.6 L1825.3,869.6 L1826.3,865.9 L1827.3,862.9 L1828.2,861.0 L1828.3,860.8 L1829.3,859.3 L1830.3,857.9 L1831.3,856.6 L1832.3,855.6 L1833.3,854.8 L1834.3,854.4 L1834.8,854.4 L1835.3,854.5 L1836.3,855.3 L1837.3,856.7 L1838.3,858.7 L1839.3,860.8 L1840.3,863.0 L1841.3,865.1 L1841.4,865.4 L1842.3,867.3 L1843.3,870.1 L1844.3,873.1 L1845.3,876.1 L1846.3,878.9 L1847.3,881.2 L1848.3,882.6 L1849.2,883.1 L1849.3,883.1 L1850.3,882.0 L1851.3,879.5 L1852.3,876.2 L1853.3,872.5 L1854.3,868.9 L1854.7,867.6 L1855.3,865.6 L1856.3,861.8 L1857.3,857.9 L1858.3,854.0 L1859.3,850.4 L1860.2,847.7 L1860.3,847.5 L1861.3,844.8 L1862.3,842.1 L1863.3,839.5 L1864.3,837.3 L1865.3,835.6 L1866.3,834.6 L1866.9,834.5 L1867.3,834.6 L1868.3,835.9 L1869.3,838.2 L1870.3,841.1 L1871.3,844.3 L1872.3,847.6 L1872.4,847.7 L1873.3,851.1 L1874.3,855.4 L1875.3,860.2 L1876.3,865.1 L1877.3,869.7 L1877.9,872.0 L1878.3,873.8 L1879.3,877.9 L1880.3,882.0 L1881.3,885.8 L1882.3,889.2 L1883.3,891.7 L1883.4,891.9 L1884.3,893.8 L1885.3,895.7 L1886.3,897.4 L1887.3,898.7 L1888.3,899.5 L1889.0,899.7 L1889.3,899.6 L1890.3,898.9 L1891.3,897.6 L1892.3,895.7 L1893.3,893.4 L1894.3,890.8 L1895.3,888.2 L1895.6,887.5 L1896.3,885.1 L1897.3,880.8 L1898.3,875.7 L1899.3,870.3 L1900.3,864.8 L1901.1,861.0 L1901.3,859.9 L1902.3,855.3 L1903.3,850.9 L1904.3,846.4 L1905.3,841.6 L1906.3,836.1 L1906.6,834.5 L1907.4,829.7 L1908.4,822.1 L1909.4,813.6 L1910.4,805.0 L1911.0,799.1 L1911.4,796.6 L1912.4,787.8 L1913.4,778.8 L1914.4,770.2 L1915.4,762.4 L1915.5,761.5 L1916.4,755.5 L1917.4,749.1 L1918.4,743.1 L1919.4,737.4 L1920.4,731.8 L1921.0,728.4 L1921.4,726.4 L1922.4,720.5 L1923.4,714.8 L1924.4,709.9 L1925.4,706.4 L1925.4,706.3 L1926.4,704.0 L1927.4,701.7 L1928.4,699.8 L1929.4,698.4 L1930.4,697.6 L1930.9,697.5 L1931.4,697.5 L1932.4,698.3 L1933.4,699.7 L1934.4,701.6 L1935.4,703.8 L1936.4,706.1 L1936.5,706.3 L1937.4,708.8 L1938.4,712.3 L1939.4,716.5 L1940.4,721.0 L1941.4,725.6 L1942.0,728.4 L1942.4,730.2 L1943.4,734.9 L1944.4,739.8 L1945.4,745.0 L1946.4,750.4 L1946.4,750.5 L1947.4,755.9 L1948.4,761.8 L1949.4,767.9 L1950.4,774.2 L1950.8,777.0 L1951.4,780.7 L1952.4,787.4 L1953.4,794.4 L1954.4,801.6 L1955.2,808.0 L1955.4,809.0 L1956.4,816.8 L1957.4,824.8 L1958.4,833.0 L1959.4,841.1 L1959.7,843.3 L1960.4,849.1 L1961.4,857.1 L1962.4,865.1 L1963.4,873.1 L1964.1,878.7 L1964.4,881.2 L1965.4,889.4 L1966.4,897.6 L1967.4,905.7 L1968.4,913.3 L1968.5,914.0 L1969.4,920.3 L1970.4,927.1 L1971.4,933.7 L1972.4,940.0 L1973.4,945.9 L1974.0,949.4 L1974.4,951.4 L1975.4,956.9 L1976.4,962.3 L1977.4,967.2 L1978.4,971.7 L1979.4,975.4 L1979.6,975.9 L1980.4,978.7 L1981.4,981.9 L1982.4,985.0 L1983.4,987.7 L1984.4,989.8 L1985.4,991.1 L1986.2,991.4 L1986.4,991.4 L1987.4,990.6 L1988.4,989.0 L1989.4,986.8 L1990.4,984.1 L1991.4,981.2 L1991.7,980.3 L1992.4,977.9 L1993.4,973.2 L1994.4,967.6 L1995.4,961.3 L1996.4,954.7 L1997.2,949.4 L1997.4,948.2 L1998.4,941.3 L1999.4,933.8 L2000.4,926.0 L2001.4,918.1 L2001.7,916.2 L2002.4,909.9 L2003.4,901.4 L2004.4,892.7 L2005.4,884.1 L2006.1,878.7 L2006.4,875.8 L2007.4,867.7 L2008.4,859.7 L2009.4,851.8 L2010.4,843.8 L2010.5,843.3 L2011.4,835.4 L2012.4,826.8 L2013.4,819.2 L2013.8,816.8 L2014.4,813.3 L2015.4,808.5 L2016.4,804.1 L2017.4,799.7 L2017.6,799.1 L2018.4,795.1 L2019.4,790.4 L2020.4,785.9" stroke="#006fbe"/>
<path d="M239.0,842.8 L240.0,842.8 L241.0,842.8 L242.0,842.8 L243.0,842.8 L244.0,842.8 L245.0,842.8 L246.0,842.8 L247.0,842.8 L248.0,842.8 L249.0,842.8 L250.0,842.8 L251.0,842.8 L252.0,842.8 L253.0,842.8 L254.0,842.8 L255.0,842.8 L256.0,842.8 L257.0,842.8 L258.0,842.8 L258.6,842.8 L259.0,842.8 L260.0,842.8 L261.0,842.8 L262.0,842.8 L263.0,842.8 L264.0,842.8 L265.0,842.8 L266.0,842.8 L267.0,842.8 L268.0,842.8 L269.0,842.8 L270.0,842.8 L271.0,842.8 L272.0,842.8 L273.0,842.8 L274.0,842.8 L275.0,842.8 L276.0,842.8 L277.0,842.8 L278.0,842.8 L278.1,842.8 L279.0,842.8 L280.0,842.8 L281.0,842.8 L282.0,842.9 L283.0,843.0 L284.0,843.0 L285.0,843.1 L286.0,843.2 L287.0,843.3 L288.0,843.4 L289.0,843.5 L290.0,843.6 L291.0,843.8 L292.0,843.9 L293.0,844.0 L294.0,844.1 L295.0,844.2 L296.0,844.3 L297.0,844.4 L298.0,844.5 L299.0,844.6 L300.0,844.6 L301.1,844.7 L302.1,844.7 L303.1,844.7 L303.6,844.7 L304.1,844.7 L305.1,844.7 L306.1,844.6 L307.1,844.4 L308.1,844.3 L309.1,844.1 L310.1,843.9 L311.1,843.7 L312.1,843.4 L313.1,843.2 L314.1,843.0 L315.1,842.7 L316.1,842.5 L317.1,842.4 L318.1,842.2 L319.1,842.1 L320.1,842.0 L321.1,842.0 L321.2,842.0 L322.1,842.0 L323.1,842.1 L324.1,842.4 L325.1,842.6 L326.1,843.0 L327.1,843.4 L328.1,843.8 L329.1,844.2 L330.1,844.7 L331.1,845.1 L332.1,845.5 L333.1,846.0 L334.1,846.3 L335.1,846.7 L336.1,846.9 L337.1,847.1 L338.1,847.2 L338.8,847.3 L339.1,847.3 L340.1,847.2 L341.1,846.9 L342.1,846.6 L343.1,846.2 L344.1,845.7 L345.1,845.1 L346.1,844.5 L347.1,843.9 L348.1,843.2 L349.1,842.5 L350.1,841.9 L351.1,841.2 L352.1,840.6 L353.1,840.0 L354.1,839.5 L355.1,839.1 L356.1,838.8 L357.1,838.6 L358.1,838.5 L358.4,838.5 L359.1,838.5 L360.1,838.5 L361.1,838.6 L362.1,838.6 L363.1,838.8 L364.1,838.9 L365.1,839.0 L366.1,839.2 L367.1,839.4 L368.1,839.6 L369.1,839.8 L370.1,840.0 L371.1,840.2 L372.1,840.5 L373.1,840.7 L374.1,840.9 L375.1,841.2 L376.0,841.4 L376.1,841.4 L377.1,841.7 L378.1,842.1 L379.1,842.5 L380.1,843.1 L381.1,843.6 L382.1,844.2 L383.1,844.8 L384.1,845.5 L385.1,846.1 L386.1,846.8 L387.1,847.5 L388.1,848.1 L389.1,848.8 L390.1,849.3 L391.1,849.9 L392.1,850.4 L393.1,850.8 L394.1,851.2 L395.1,851.5 L396.1,851.7 L397.1,851.8 L397.5,851.8 L398.1,851.7 L399.1,851.5 L400.1,851.0 L401.1,850.4 L402.1,849.6 L403.1,848.7 L404.1,847.8 L405.1,846.7 L406.1,845.6 L407.1,844.5 L408.1,843.4 L409.1,842.4 L410.1,841.4 L411.1,840.5 L412.1,839.8 L413.1,839.2 L414.1,838.7 L415.1,838.5 L415.1,838.5 L416.1,838.3 L417.1,838.2 L418.1,838.1 L419.1,837.9 L420.1,837.8 L421.1,837.7 L422.1,837.7 L423.1,837.6 L424.1,837.5 L425.2,837.5 L426.2,837.5 L426.9,837.5 L427.2,837.5 L428.2,837.5 L429.2,837.5 L430.2,837.6 L431.2,837.6 L432.2,837.7 L433.2,837.8 L434.2,837.9 L435.2,838.0 L436.2,838.1 L437.2,838.3 L438.2,838.4 L439.2,838.5 L440.2,838.7 L441.2,838.9 L442.2,839.0 L443.2,839.2 L444.2,839.4 L445.2,839.5 L446.2,839.7 L447.2,839.9 L448.2,840.0 L449.2,840.2 L450.2,840.4 L450.4,840.4 L451.2,840.6 L452.2,840.7 L453.2,840.9 L454.2,841.1 L455.2,841.3 L456.2,841.4 L457.2,841.6 L458.2,841.8 L459.2,842.1 L460.2,842.3 L461.2,842.5 L462.2,842.7 L463.2,843.0 L464.2,843.2 L465.2,843.5 L466.2,843.8 L467.2,844.0 L468.2,844.3 L469.2,844.7 L470.2,845.0 L471.2,845.3 L472.2,845.7 L473.2,846.0 L473.8,846.3 L474.2,846.4 L475.2,847.0 L476.2,847.6 L477.2,848.4 L478.2,849.3 L479.2,850.3 L480.2,851.3 L481.2,852.4 L482.2,853.5 L483.2,854.7 L484.2,855.9 L485.2,857.0 L486.2,858.2 L487.2,859.2 L488.2,860.3 L489.2,861.2 L490.2,862.1 L491.2,862.8 L492.2,863.4 L493.2,863.9 L494.2,864.2 L495.2,864.3 L495.4,864.3 L496.2,864.2 L497.2,863.9 L498.2,863.4 L499.2,862.7 L500.2,861.8 L501.2,860.8 L502.2,859.7 L503.2,858.5 L504.2,857.2 L505.2,855.8 L506.2,854.5 L507.2,853.1 L508.2,851.8 L509.2,850.4 L510.2,849.2 L511.2,848.0 L512.2,847.0 L513.0,846.3 L513.2,846.1 L514.2,845.2 L515.2,844.3 L516.2,843.5 L517.2,842.6 L518.2,841.8 L519.2,841.1 L520.2,840.4 L520.8,840.0 L521.2,839.7 L522.2,839.1 L523.2,838.4 L524.2,837.8 L525.2,837.5 L525.7,837.5 L526.2,837.6 L527.2,838.7 L528.2,840.3 L529.2,842.3 L530.2,844.3 L531.2,845.8 L532.2,846.6 L532.5,846.7 L533.2,846.3 L534.2,844.8 L535.2,842.5 L536.2,839.7 L537.2,836.9 L538.2,834.5 L539.2,832.8 L539.4,832.6 L540.2,831.7 L541.2,830.8 L542.2,829.8 L543.2,829.0 L544.2,828.2 L545.2,827.5 L546.2,826.9 L547.2,826.4 L548.3,826.0 L549.3,825.8 L550.2,825.7 L550.3,825.7 L551.3,825.7 L552.3,825.7 L553.3,825.7 L554.3,825.7 L555.3,825.7 L556.3,825.7 L557.3,825.7 L558.3,825.7 L559.3,825.7 L560.3,825.7 L561.3,825.7 L561.9,825.7 L562.3,825.7 L563.3,825.2 L564.3,824.2 L565.3,822.8 L566.3,820.9 L567.3,818.8 L568.3,816.4 L569.3,813.8 L570.3,811.0 L571.3,808.3 L572.3,805.5 L573.3,802.8 L574.3,800.2 L575.3,797.8 L576.3,795.7 L577.3,793.9 L577.6,793.5 L578.3,792.3 L579.3,790.7 L580.3,789.0 L581.3,787.4 L582.3,786.0 L583.3,784.7 L584.3,783.6 L585.3,783.0 L586.3,782.7 L586.4,782.7 L587.3,782.8 L588.3,783.3 L589.3,784.0 L590.3,784.9 L591.3,786.0 L592.3,787.2 L593.3,788.5 L594.3,789.8 L595.3,791.1 L596.3,792.4 L597.1,793.5 L597.3,793.6 L598.3,794.8 L599.3,796.0 L600.3,797.2 L601.3,798.4 L602.3,799.8 L603.3,801.2 L604.3,802.6 L605.3,804.3 L606.3,806.0 L606.9,807.1 L607.3,807.9 L608.3,810.1 L609.3,812.5 L610.3,815.2 L611.3,818.2 L612.3,821.5 L613.3,825.0 L613.8,826.7 L614.3,828.8 L615.3,833.0 L616.3,837.6 L617.3,842.9 L618.3,849.0 L619.3,856.1 L620.0,861.7 L620.3,864.8 L621.3,880.0 L622.3,898.5 L623.3,914.5 L623.9,920.4 L624.3,923.0 L625.3,929.1 L626.3,934.5 L627.3,938.9 L628.3,942.0 L629.3,943.7 L629.8,943.9 L630.3,943.6 L631.3,941.6 L632.3,938.2 L633.3,933.8 L634.3,928.9 L635.3,924.0 L636.3,919.6 L636.6,918.4 L637.3,915.7 L638.3,911.2 L639.3,906.5 L640.3,901.9 L641.3,898.0 L642.3,895.3 L643.3,894.0 L643.5,894.0 L644.3,895.0 L645.3,898.4 L646.3,903.2 L647.3,908.8 L648.3,914.1 L649.3,918.4 L649.4,918.4 L650.3,922.0 L651.3,925.8 L652.3,929.6 L653.3,933.0 L654.3,935.7 L655.3,937.5 L656.2,938.0 L656.3,938.0 L657.3,937.2 L658.3,935.3 L659.3,932.5 L660.3,929.0 L661.3,925.2 L662.3,921.2 L663.1,918.4 L663.3,917.3 L664.3,912.7 L665.3,907.2 L666.3,901.2 L667.3,894.7 L668.3,888.0 L669.3,881.3 L670.3,874.8 L670.9,871.5 L671.3,868.6 L672.4,862.4 L673.4,856.1 L674.4,849.8 L675.4,843.5 L676.4,837.2 L677.4,830.9 L678.4,824.7 L678.7,822.6 L679.4,818.5 L680.4,811.7 L681.4,804.7 L682.4,797.8 L683.4,791.2 L684.4,785.2 L685.4,780.1 L686.4,776.1 L686.5,775.6 L687.4,773.1 L688.4,770.2 L689.4,767.5 L690.4,765.0 L691.4,762.9 L692.4,761.3 L693.4,760.3 L694.4,759.9 L694.4,759.9 L695.4,760.2 L696.4,761.1 L697.4,762.6 L698.4,764.5 L699.4,766.9 L700.4,769.7 L701.4,772.8 L702.2,775.6 L702.4,776.3 L703.4,783.8 L704.4,795.4 L705.4,809.2 L706.4,823.3 L707.4,835.7 L708.1,842.1 L708.4,844.6 L709.4,851.7 L710.4,858.2 L711.4,864.0 L712.4,869.4 L713.4,874.6 L713.9,877.4 L714.4,879.7 L715.4,885.0 L716.4,890.4 L717.4,895.6 L718.4,900.5 L719.4,904.7 L720.4,908.0 L721.4,910.2 L721.8,910.6 L722.4,911.2 L723.4,912.1 L724.4,912.9 L725.4,913.5 L726.4,914.0 L727.4,914.4 L728.4,914.5 L728.6,914.5 L729.4,912.8 L730.4,906.4 L731.4,897.3 L732.4,887.2 L733.4,878.2 L733.5,877.4 L734.4,870.4 L735.4,862.5 L736.4,854.6 L737.4,846.8 L738.4,839.3 L739.4,832.3 L739.4,832.1 L740.4,825.4 L741.4,818.8 L742.4,812.5 L743.4,806.4 L744.4,800.3 L745.4,794.3 L746.4,788.2 L747.2,783.4 L747.4,782.1 L748.4,775.9 L749.4,769.7 L750.4,763.5 L751.4,757.5 L752.4,751.7 L753.1,748.2 L753.4,746.3 L754.4,740.3 L755.4,734.1 L756.4,728.4 L757.4,723.8 L758.4,721.2 L758.9,720.8 L759.4,721.0 L760.4,722.6 L761.4,725.6 L762.4,729.9 L763.4,735.3 L764.4,741.6 L764.8,744.3 L765.4,752.1 L766.4,769.7 L766.8,773.6 L767.4,778.5 L768.4,784.8 L769.4,789.6 L770.4,792.7 L770.7,793.2 L771.4,794.5 L772.4,796.2 L773.4,797.7 L774.4,799.0 L775.4,800.2 L776.4,801.2 L777.4,801.9 L778.4,802.5 L779.4,802.9 L780.4,803.0 L780.5,803.0 L781.4,802.7 L782.4,801.8 L783.4,800.5 L784.4,798.8 L785.4,796.9 L786.4,794.9 L787.4,792.9 L788.3,791.2 L788.4,791.0 L789.4,788.6 L790.4,785.7 L791.4,782.7 L792.4,779.9 L793.4,777.7 L794.4,776.6 L794.8,776.6 L795.5,777.1 L796.5,779.7 L797.5,783.9 L798.5,789.3 L799.5,795.4 L800.0,799.1 L800.5,802.1 L801.5,812.1 L802.5,824.3 L803.5,836.6 L804.0,842.1 L804.5,847.4 L805.5,857.6 L806.5,867.6 L807.5,877.5 L808.5,887.3 L809.5,897.2 L809.8,900.8 L810.5,907.1 L811.5,916.7 L812.5,926.1 L813.5,935.8 L814.5,946.0 L815.5,956.9 L815.7,959.5 L816.5,970.5 L817.5,988.3 L818.5,1006.4 L819.5,1020.8 L820.5,1027.4 L820.6,1027.5 L821.5,1026.7 L822.5,1023.8 L823.5,1019.4 L824.5,1013.6 L825.5,1007.0 L826.5,999.8 L827.5,992.5 L828.5,985.3 L829.4,979.1 L829.5,978.6 L830.5,971.8 L831.5,964.5 L832.5,956.7 L833.5,948.8 L834.5,940.9 L835.5,933.1 L836.5,925.6 L837.2,920.4 L837.5,918.6 L838.5,912.0 L839.5,905.5 L840.5,899.3 L841.5,893.1 L842.5,887.0 L843.5,881.0 L844.5,874.9 L845.0,871.5 L845.5,868.7 L846.5,861.6 L847.5,854.0 L848.5,846.4 L849.5,839.2 L850.5,832.9 L851.5,828.0 L852.5,825.0 L852.9,824.5 L853.5,824.0 L854.5,823.1 L855.5,822.4 L856.5,821.8 L857.5,821.3 L858.5,820.9 L859.5,820.7 L860.5,820.6 L860.7,820.6 L861.5,821.3 L862.5,823.7 L863.5,827.0 L864.5,830.4 L865.5,833.1 L866.5,834.3 L866.6,834.3 L867.5,833.6 L868.5,831.6 L869.5,828.5 L870.5,824.7 L871.5,820.6 L872.4,816.7 L872.5,816.4 L873.5,811.2 L874.5,804.5 L875.5,797.1 L876.5,789.8 L877.5,783.4 L878.3,779.5 L878.5,778.7 L879.5,774.5 L880.5,770.4 L881.5,766.8 L882.5,764.0 L883.5,762.2 L884.2,761.9 L884.5,762.1 L885.5,764.9 L886.5,770.3 L887.5,777.6 L888.5,785.9 L889.5,794.6 L890.1,799.1 L890.5,803.4 L891.5,815.3 L892.5,828.1 L893.5,838.9 L894.0,842.1 L894.5,845.5 L895.5,851.3 L896.5,856.6 L897.5,860.9 L898.5,864.0 L899.5,865.5 L899.8,865.6 L900.5,865.1 L901.5,862.8 L902.5,858.9 L903.5,854.1 L904.5,848.6 L905.5,843.1 L905.7,842.1 L906.5,837.0 L907.5,829.2 L908.5,820.3 L909.5,810.9 L910.5,801.8 L911.5,793.5 L911.6,793.2 L912.5,785.2 L913.5,775.9 L914.5,766.8 L915.5,759.1 L916.5,753.8 L917.5,752.1 L917.5,752.1 L918.6,754.1 L919.6,758.5 L920.6,764.1 L921.6,769.7 L922.6,773.9 L923.3,775.6 L923.6,775.8 L924.6,776.5 L925.6,777.0 L926.6,777.3 L927.6,777.6 L928.6,777.9 L929.6,778.3 L930.6,779.0 L931.2,779.5 L931.6,780.3 L932.6,785.2 L933.6,793.2 L934.6,802.6 L935.6,812.0 L936.6,819.9 L937.0,822.6 L937.6,825.2 L938.6,830.1 L939.6,834.6 L940.6,838.9 L941.6,842.7 L942.6,846.1 L943.6,849.0 L944.6,851.4 L944.9,851.9 L945.6,853.1 L946.6,854.5 L947.6,855.6 L948.6,856.5 L949.6,857.4 L950.6,858.5 L951.6,859.8 L952.6,861.5 L952.7,861.7 L953.6,863.9 L954.6,867.4 L955.6,871.7 L956.6,876.7 L957.6,882.3 L958.6,888.4 L959.6,894.8 L960.5,900.8 L960.6,901.3 L961.6,910.0 L962.6,921.2 L963.6,933.0 L964.6,943.9 L965.6,952.1 L966.4,955.6 L966.6,956.1 L967.6,958.3 L968.6,960.1 L969.6,961.6 L970.6,962.7 L971.6,963.3 L972.3,963.5 L972.6,963.4 L973.6,962.8 L974.6,961.7 L975.6,960.0 L976.6,957.8 L977.6,955.2 L978.1,953.7 L978.6,951.6 L979.6,943.6 L980.6,931.7 L981.6,917.3 L982.6,901.8 L983.6,886.7 L984.0,881.3 L984.6,872.7 L985.6,857.8 L986.6,842.5 L987.6,827.1 L987.9,822.6 L988.6,811.5 L989.6,794.9 L990.6,779.1 L991.6,766.0 L991.8,763.8 L992.6,755.9 L993.6,746.0 L994.6,737.1 L995.6,730.0 L996.6,725.7 L997.3,724.7 L997.6,725.2 L998.6,732.3 L999.6,743.6 L1000.6,754.0 L1000.6,754.1 L1001.6,761.6 L1002.6,768.4 L1003.6,775.3 L1004.6,783.0 L1005.5,791.2 L1005.6,792.3 L1006.6,805.6 L1007.6,821.4 L1008.6,836.2 L1008.8,838.9 L1009.6,848.4 L1010.6,860.3 L1011.6,871.0 L1012.6,879.4 L1013.3,883.1 L1013.6,884.8 L1014.6,889.1 L1015.6,892.8 L1016.6,895.3 L1017.6,896.4 L1017.7,896.4 L1018.6,893.4 L1019.6,885.6 L1020.6,875.3 L1021.6,865.1 L1022.1,861.0 L1022.6,856.6 L1023.6,848.1 L1024.6,839.4 L1025.6,831.0 L1026.6,823.3 L1027.6,816.8 L1027.6,816.7 L1028.6,810.4 L1029.6,804.2 L1030.6,799.0 L1031.6,796.1 L1032.0,795.8 L1032.6,798.4 L1033.6,811.4 L1034.6,828.4 L1035.4,838.9 L1035.6,842.5 L1036.6,856.8 L1037.6,871.7 L1038.6,884.9 L1039.6,893.9 L1040.4,896.4 L1040.6,896.3 L1041.6,896.0 L1042.7,895.2 L1043.7,894.0 L1044.7,892.6 L1045.7,891.0 L1046.4,889.7 L1046.7,889.2 L1047.7,886.4 L1048.7,882.3 L1049.7,877.6 L1050.7,872.7 L1051.7,868.1 L1052.7,864.3 L1053.0,863.2 L1053.7,861.7 L1054.7,859.7 L1055.7,858.1 L1056.7,856.6 L1057.7,854.9 L1058.7,852.8 L1059.7,850.0 L1059.7,849.9 L1060.7,844.5 L1061.7,836.6 L1062.7,829.5 L1063.0,827.8 L1063.7,824.7 L1064.7,820.4 L1065.7,817.4 L1066.3,816.8 L1066.7,817.2 L1067.7,821.9 L1068.7,829.1 L1069.7,835.8 L1070.7,838.9 L1070.7,838.9 L1071.7,838.7 L1072.7,838.2 L1073.7,837.4 L1074.7,836.3 L1075.7,835.2 L1076.2,834.5 L1076.7,833.8 L1077.7,831.0 L1078.7,827.2 L1079.7,823.0 L1080.7,819.1 L1081.7,816.1 L1082.7,814.6 L1082.9,814.6 L1083.7,814.6 L1084.7,814.9 L1085.7,815.3 L1086.7,815.7 L1087.7,816.3 L1088.4,816.8 L1088.7,817.0 L1089.7,818.5 L1090.7,820.7 L1091.7,823.4 L1092.7,826.3 L1093.7,829.1 L1094.7,831.6 L1095.0,832.3 L1095.7,833.6 L1096.7,835.7 L1097.7,837.8 L1098.7,840.0 L1099.7,842.1 L1100.7,844.0 L1101.7,845.8 L1102.7,847.4 L1103.7,848.6 L1104.7,849.5 L1105.7,849.9 L1106.1,849.9 L1106.7,849.2 L1107.7,845.4 L1108.7,839.4 L1109.7,832.4 L1110.7,825.5 L1111.7,819.9 L1112.7,816.8 L1112.7,816.8 L1113.7,815.4 L1114.7,814.6 L1114.9,814.6 L1115.7,815.0 L1116.7,816.5 L1117.7,818.8 L1118.7,821.8 L1119.7,825.2 L1120.4,827.8 L1120.7,828.9 L1121.7,834.2 L1122.7,841.0 L1123.7,849.0 L1124.7,857.4 L1125.7,865.7 L1126.0,867.6 L1126.7,874.2 L1127.7,884.4 L1128.7,894.3 L1129.7,902.1 L1130.4,905.2 L1130.7,906.2 L1131.7,908.7 L1132.6,909.6 L1132.7,909.6 L1133.7,906.2 L1134.7,899.3 L1135.7,891.2 L1135.9,889.7 L1136.7,882.8 L1137.7,872.6 L1138.7,860.9 L1139.7,847.6 L1140.3,838.9 L1140.7,832.3 L1141.7,811.5 L1142.7,789.2 L1143.6,772.6 L1143.7,771.4 L1144.7,758.0 L1145.7,746.5 L1146.7,736.9 L1147.0,735.0 L1147.7,728.3 L1148.7,721.6 L1149.2,720.7 L1149.7,721.4 L1150.7,726.0 L1151.7,733.2 L1152.5,739.4 L1152.7,742.0 L1153.7,757.1 L1154.7,772.6 L1154.7,773.2 L1155.7,786.1 L1156.7,798.0 L1157.7,809.8 L1158.7,822.7 L1159.1,827.8 L1159.7,838.2 L1160.7,857.3 L1161.7,874.8 L1162.4,883.1 L1162.7,885.9 L1163.7,894.2 L1164.7,901.3 L1165.8,906.4 L1166.8,908.5 L1166.9,908.5 L1167.8,906.7 L1168.8,901.3 L1169.8,894.1 L1170.8,886.6 L1171.3,883.1 L1171.8,880.1 L1172.8,873.9 L1173.8,867.2 L1174.6,861.0 L1174.8,859.6 L1175.8,849.8 L1176.8,838.6 L1177.8,827.6 L1178.8,818.5 L1179.0,816.8 L1179.8,811.8 L1180.8,805.5 L1181.8,800.1 L1182.8,796.2 L1183.4,794.7 L1183.8,794.2 L1184.8,792.9 L1185.6,792.5 L1185.8,792.5 L1186.8,794.3 L1187.8,798.0 L1188.8,802.6 L1189.8,806.9 L1190.1,808.0 L1190.8,810.4 L1191.8,813.8 L1192.8,817.1 L1193.4,819.0 L1193.8,820.2 L1194.8,823.0 L1195.8,825.5 L1196.8,828.0 L1197.8,830.5 L1198.8,833.2 L1199.8,836.3 L1200.8,839.8 L1201.1,841.1 L1201.8,844.4 L1202.8,850.5 L1203.8,857.1 L1204.4,861.0 L1204.8,862.9 L1205.8,867.7 L1206.8,872.6 L1207.7,878.7 L1207.8,879.1 L1208.8,891.4 L1209.8,904.0 L1209.9,905.2 L1210.8,910.7 L1211.8,916.7 L1212.8,921.8 L1213.8,925.6 L1214.8,927.9 L1215.5,928.4 L1215.8,927.8 L1216.8,919.8 L1217.8,906.2 L1218.8,891.9 L1218.8,891.8 L1219.8,876.9 L1220.8,860.0 L1221.0,856.6 L1221.8,841.5 L1222.8,821.0 L1223.8,802.3 L1224.3,794.7 L1224.8,788.6 L1225.8,777.8 L1226.8,768.5 L1227.6,761.5 L1227.8,760.1 L1228.8,750.9 L1229.8,741.8 L1230.8,734.5 L1231.8,730.8 L1232.0,730.6 L1232.8,730.9 L1233.8,732.0 L1234.8,733.7 L1235.8,735.8 L1236.5,737.2 L1236.8,738.0 L1237.8,741.0 L1238.8,745.0 L1239.8,750.5 L1239.8,750.7 L1240.8,763.2 L1241.8,782.8 L1242.8,803.0 L1243.1,808.0 L1243.8,819.4 L1244.8,834.6 L1245.8,850.5 L1246.4,861.0 L1246.8,869.1 L1247.8,892.1 L1248.8,915.8 L1249.7,933.9 L1249.8,935.5 L1250.8,951.6 L1251.8,966.1 L1252.8,979.0 L1253.8,990.3 L1254.1,993.6 L1254.8,1000.2 L1255.8,1009.0 L1256.8,1016.4 L1257.5,1020.1 L1257.8,1022.0 L1258.8,1027.3 L1259.8,1032.3 L1260.8,1036.8 L1261.8,1040.5 L1262.8,1043.1 L1263.8,1044.4 L1264.1,1044.4 L1264.8,1043.9 L1265.8,1041.6 L1266.8,1037.9 L1267.8,1033.1 L1268.8,1027.4 L1269.8,1021.3 L1270.7,1015.7 L1270.8,1014.9 L1271.8,1006.8 L1272.8,996.4 L1273.8,984.9 L1274.0,982.5 L1274.8,972.1 L1275.8,957.4 L1276.8,941.6 L1277.8,925.7 L1278.5,916.2 L1278.8,910.4 L1279.8,895.7 L1280.8,881.1 L1281.8,866.1 L1282.8,850.4 L1282.9,849.9 L1283.8,833.9 L1284.8,816.9 L1285.8,799.2 L1286.8,780.9 L1287.3,772.6 L1287.8,760.5 L1288.8,737.6 L1289.5,728.4 L1289.9,725.9 L1290.9,720.1 L1291.9,715.8 L1292.9,712.5 L1293.9,709.6 L1294.9,706.7 L1295.9,703.1 L1296.1,701.9 L1296.9,698.2 L1297.9,692.1 L1298.9,685.5 L1299.9,679.1 L1300.9,673.6 L1301.9,669.9 L1302.8,668.7 L1302.9,668.7 L1303.9,670.3 L1304.9,674.0 L1305.9,679.3 L1306.9,685.6 L1307.9,692.4 L1308.3,695.2 L1308.9,700.1 L1309.9,711.2 L1310.9,722.4 L1311.6,728.4 L1311.9,730.0 L1312.9,735.9 L1313.9,741.5 L1314.9,746.4 L1315.9,750.5 L1316.9,753.4 L1317.9,754.8 L1318.2,754.9 L1318.9,754.5 L1319.9,752.6 L1320.9,749.7 L1321.9,746.8 L1322.9,744.6 L1323.8,743.9 L1323.9,743.9 L1324.9,745.0 L1325.9,747.6 L1326.9,751.5 L1327.9,756.3 L1328.9,761.6 L1329.3,763.8 L1329.9,768.1 L1330.9,778.6 L1331.9,791.3 L1332.9,803.9 L1333.7,812.4 L1333.9,814.0 L1334.9,822.8 L1335.9,831.3 L1336.9,839.3 L1337.9,846.7 L1338.9,853.2 L1339.9,858.9 L1340.3,861.0 L1340.9,863.4 L1341.9,866.9 L1342.9,869.8 L1343.9,872.4 L1344.9,875.2 L1345.9,878.5 L1346.9,882.8 L1347.0,883.1 L1347.9,888.9 L1348.9,897.3 L1349.9,906.7 L1350.9,916.3 L1351.4,920.7 L1351.9,925.4 L1352.9,935.3 L1353.9,945.2 L1354.9,954.1 L1355.8,960.4 L1355.9,961.0 L1356.9,967.0 L1357.9,972.7 L1358.9,977.7 L1359.9,981.4 L1360.9,983.4 L1361.3,983.6 L1361.9,983.0 L1362.9,979.1 L1363.9,973.1 L1364.9,966.1 L1365.7,960.4 L1365.9,959.4 L1366.9,952.8 L1367.9,945.8 L1368.9,938.1 L1369.9,929.5 L1370.9,919.9 L1371.3,916.2 L1371.9,908.3 L1372.9,892.8 L1373.9,875.8 L1374.9,859.8 L1375.7,849.9 L1375.9,847.5 L1376.9,836.8 L1377.9,827.1 L1378.9,818.9 L1379.9,813.1 L1380.1,812.4 L1380.9,809.4 L1381.9,805.9 L1382.9,802.7 L1383.9,800.0 L1384.9,797.7 L1385.9,796.1 L1386.9,795.0 L1387.8,794.7 L1387.9,794.7 L1388.9,795.7 L1389.9,798.3 L1390.9,802.1 L1391.9,806.8 L1392.9,812.1 L1393.4,814.6 L1393.9,819.2 L1394.9,831.7 L1395.9,844.5 L1396.6,849.9 L1396.9,852.0 L1397.9,857.5 L1398.9,862.0 L1399.9,865.2 L1400.9,866.5 L1401.0,866.5 L1401.9,864.6 L1402.9,859.2 L1403.9,851.5 L1404.9,842.9 L1405.4,838.9 L1405.9,833.7 L1406.9,821.0 L1407.9,807.6 L1408.7,799.1 L1408.9,797.2 L1409.9,788.4 L1410.9,780.4 L1411.9,773.7 L1413.0,768.9 L1413.1,768.2 L1414.0,765.7 L1415.0,762.8 L1416.0,760.4 L1417.0,758.5 L1418.0,757.4 L1418.7,757.1 L1419.0,757.3 L1420.0,759.5 L1421.0,763.9 L1422.0,769.7 L1423.0,776.1 L1423.1,777.0 L1424.0,783.8 L1425.0,794.2 L1426.0,806.5 L1426.4,812.4 L1427.0,820.7 L1428.0,838.9 L1429.0,858.4 L1429.7,872.0 L1430.0,876.0 L1431.0,891.9 L1432.0,907.2 L1433.0,921.9 L1434.0,935.9 L1434.1,938.3 L1435.0,949.6 L1436.0,963.2 L1437.0,976.0 L1438.0,987.6 L1438.6,993.6 L1439.0,997.4 L1440.0,1006.6 L1441.0,1015.1 L1442.0,1022.8 L1443.0,1029.5 L1444.0,1035.0 L1444.1,1035.6 L1445.0,1039.9 L1446.0,1044.6 L1447.0,1048.4 L1448.0,1050.7 L1448.5,1051.0 L1449.0,1050.4 L1450.0,1045.2 L1451.0,1036.4 L1452.0,1025.8 L1452.9,1015.7 L1453.0,1015.1 L1454.0,1003.8 L1455.0,990.5 L1456.0,975.6 L1456.2,971.5 L1457.0,958.4 L1458.0,938.2 L1459.0,916.9 L1459.6,905.2 L1460.0,896.8 L1461.0,878.1 L1462.0,858.6 L1462.9,838.9 L1463.0,835.9 L1464.0,806.1 L1465.0,775.1 L1465.1,772.6 L1466.0,745.4 L1467.0,721.0 L1467.3,717.3 L1468.0,712.0 L1469.0,706.0 L1470.0,702.5 L1470.6,701.9 L1471.0,701.9 L1472.0,702.1 L1473.0,702.4 L1474.0,702.8 L1475.0,703.4 L1476.0,704.0 L1476.1,704.1 L1477.0,705.2 L1478.0,707.6 L1479.0,710.4 L1480.0,713.0 L1481.0,714.8 L1481.7,715.1 L1482.0,715.0 L1483.0,713.0 L1484.0,709.4 L1485.0,705.0 L1486.0,700.7 L1487.0,697.2 L1488.0,695.3 L1488.3,695.2 L1489.0,695.2 L1490.0,695.2 L1491.0,695.2 L1492.0,695.2 L1492.7,695.2 L1493.0,695.3 L1494.0,696.5 L1495.0,699.0 L1496.0,702.5 L1497.0,706.9 L1498.0,711.8 L1498.2,712.9 L1499.0,718.9 L1500.0,730.4 L1501.0,743.7 L1501.5,750.5 L1502.0,756.6 L1503.0,770.2 L1504.0,784.6 L1505.0,799.1 L1506.0,812.4 L1506.0,813.2 L1507.0,827.6 L1508.0,842.3 L1509.0,856.3 L1510.0,868.4 L1510.4,872.0 L1511.0,877.9 L1512.0,885.8 L1513.0,892.9 L1514.0,899.7 L1514.8,905.2 L1515.0,906.9 L1516.0,916.0 L1517.0,925.5 L1518.0,933.2 L1519.0,937.1 L1519.2,937.2 L1520.0,936.0 L1521.0,931.7 L1522.0,925.0 L1523.0,917.0 L1523.6,911.8 L1524.0,907.7 L1525.0,892.1 L1526.0,874.2 L1527.0,861.0 L1527.0,860.1 L1528.0,849.8 L1529.0,840.4 L1530.0,832.0 L1531.0,824.8 L1532.0,818.9 L1532.5,816.8 L1533.0,814.3 L1534.0,810.3 L1535.0,806.8 L1536.0,803.8 L1537.1,801.2 L1538.0,799.1 L1538.1,799.0 L1539.1,797.1 L1540.1,795.1 L1541.1,793.5 L1542.1,792.2 L1543.1,791.5 L1543.5,791.4 L1544.1,791.8 L1545.1,794.7 L1546.1,799.2 L1547.1,804.1 L1548.0,808.0 L1548.1,808.3 L1549.1,811.6 L1550.1,814.6 L1551.1,817.9 L1552.1,821.9 L1552.4,823.4 L1553.1,827.4 L1554.1,834.9 L1555.1,843.8 L1556.1,853.6 L1556.8,861.0 L1557.1,863.8 L1558.1,875.7 L1559.1,888.9 L1560.1,902.3 L1561.1,914.6 L1561.2,916.2 L1562.1,925.4 L1563.1,935.5 L1564.1,945.2 L1565.1,954.9 L1565.6,960.4 L1566.1,964.9 L1567.1,975.5 L1568.1,986.2 L1569.1,996.2 L1570.1,1004.6 L1570.1,1004.8 L1571.1,1013.2 L1572.1,1021.5 L1573.1,1027.7 L1574.0,1030.1 L1574.1,1030.1 L1575.1,1028.4 L1576.1,1024.1 L1577.1,1017.8 L1578.1,1010.1 L1579.1,1001.6 L1580.0,993.6 L1580.1,992.8 L1581.1,981.7 L1582.1,967.8 L1583.1,952.8 L1583.3,949.4 L1584.1,937.3 L1585.1,920.5 L1586.1,903.3 L1586.6,894.1 L1587.1,886.5 L1588.1,869.8 L1589.1,853.1 L1589.9,838.9 L1590.1,836.4 L1591.1,818.0 L1592.1,799.9 L1593.1,785.4 L1593.3,783.6 L1594.1,775.4 L1595.1,766.8 L1596.1,760.9 L1596.6,759.3 L1597.1,758.2 L1598.1,756.4 L1599.1,755.2 L1599.9,754.9 L1600.1,755.0 L1601.1,756.8 L1602.1,760.6 L1603.1,765.7 L1604.1,771.4 L1604.3,772.6 L1605.1,778.7 L1606.1,789.3 L1607.1,801.1 L1608.1,811.8 L1608.7,816.8 L1609.1,819.4 L1610.1,826.3 L1611.1,832.5 L1612.1,837.1 L1613.1,838.9 L1613.1,838.9 L1614.1,837.8 L1615.1,834.6 L1616.1,830.1 L1617.1,824.8 L1618.1,819.5 L1618.7,816.8 L1619.1,814.6 L1620.1,808.8 L1621.1,802.5 L1622.1,796.1 L1623.1,790.5 L1624.1,786.1 L1624.2,785.9 L1625.1,782.7 L1626.1,779.4 L1627.1,776.5 L1628.1,774.2 L1629.1,772.8 L1629.7,772.6 L1630.1,772.8 L1631.1,775.0 L1632.1,779.0 L1633.1,784.3 L1634.1,790.2 L1634.1,790.3 L1635.1,798.7 L1636.1,810.7 L1637.1,823.7 L1637.5,827.8 L1638.1,837.0 L1639.1,852.0 L1640.1,865.6 L1640.8,872.0 L1641.1,874.9 L1642.1,882.3 L1643.1,888.9 L1644.1,894.8 L1645.1,899.7 L1646.1,903.7 L1647.1,906.8 L1647.4,907.4 L1648.1,909.0 L1649.1,911.1 L1650.1,913.0 L1651.1,914.5 L1652.1,915.6 L1653.1,916.2 L1653.6,916.2 L1654.1,916.1 L1655.1,915.4 L1656.1,914.0 L1657.1,912.0 L1658.1,909.5 L1659.1,906.5 L1659.6,905.2 L1660.2,901.9 L1661.2,891.9 L1662.2,879.1 L1662.9,869.8 L1663.2,866.3 L1664.2,852.5 L1665.1,838.9 L1665.2,837.9 L1666.2,822.7 L1667.2,807.7 L1667.3,805.7 L1668.2,793.1 L1669.2,780.1 L1669.5,777.0 L1670.2,772.3 L1671.2,766.0 L1672.2,760.8 L1673.2,757.0 L1673.9,754.9 L1674.2,754.4 L1675.2,752.4 L1676.2,750.7 L1677.2,749.3 L1678.2,748.1 L1679.2,747.1 L1680.2,746.3 L1680.6,746.1 L1681.2,745.7 L1682.2,745.1 L1683.2,744.6 L1684.2,744.1 L1685.2,743.7 L1686.2,743.3 L1687.2,743.0 L1688.2,742.8 L1689.2,742.8 L1689.4,742.8 L1690.2,746.2 L1691.2,756.7 L1691.6,761.5 L1692.2,768.9 L1693.2,784.7 L1693.8,794.7 L1694.2,800.0 L1695.2,814.2 L1696.2,828.6 L1697.1,843.3 L1697.2,844.2 L1698.2,862.5 L1699.2,882.2 L1700.2,900.9 L1700.4,905.2 L1701.2,918.1 L1702.2,936.8 L1703.2,953.5 L1704.2,964.6 L1704.9,967.1 L1705.2,966.8 L1706.2,962.6 L1707.2,954.8 L1708.2,945.0 L1708.8,938.3 L1709.2,934.3 L1710.2,918.3 L1711.2,899.5 L1712.2,883.1 L1712.2,882.5 L1713.2,868.7 L1714.2,855.9 L1715.2,842.7 L1715.5,838.9 L1716.2,827.8 L1717.2,812.2 L1717.7,805.7 L1718.2,799.6 L1719.2,788.4 L1720.2,778.8 L1721.0,772.6 L1721.2,771.1 L1722.2,763.9 L1723.2,757.8 L1724.2,754.9 L1724.3,754.9 L1725.2,755.7 L1726.2,758.1 L1727.2,761.6 L1728.2,765.8 L1728.7,768.2 L1729.2,770.5 L1730.2,777.0 L1731.2,785.7 L1732.0,794.7 L1732.2,796.8 L1733.2,815.9 L1734.2,838.0 L1734.3,838.9 L1735.2,858.0 L1736.2,878.1 L1736.5,883.1 L1737.2,898.5 L1738.2,918.9 L1738.7,927.3 L1739.2,936.1 L1740.2,950.7 L1740.9,960.4 L1741.2,965.4 L1742.2,980.4 L1743.1,993.6 L1743.2,995.5 L1744.2,1013.5 L1745.2,1026.3 L1745.3,1026.7 L1746.2,1030.3 L1747.2,1033.3 L1748.2,1035.1 L1749.1,1035.6 L1749.2,1035.5 L1750.2,1033.4 L1751.2,1028.4 L1752.2,1021.4 L1753.2,1013.0 L1754.1,1004.6 L1754.2,1003.8 L1755.2,990.6 L1756.2,972.8 L1757.2,953.6 L1757.5,949.4 L1758.2,934.8 L1759.2,914.7 L1760.2,894.1 L1760.8,883.1 L1761.2,873.9 L1762.2,853.9 L1763.2,833.9 L1764.1,816.8 L1764.2,813.9 L1765.2,793.9 L1766.2,773.8 L1766.3,772.6 L1767.2,753.8 L1768.2,733.8 L1768.5,728.4 L1769.2,712.3 L1770.2,691.2 L1770.7,684.2 L1771.2,678.6 L1772.2,669.5 L1773.2,662.9 L1774.0,659.9 L1774.2,659.4 L1775.2,657.4 L1776.2,656.6 L1776.2,656.6 L1777.2,657.2 L1778.2,658.9 L1779.2,661.3 L1779.6,662.1 L1780.2,665.2 L1781.2,672.8 L1782.2,682.5 L1782.9,688.6 L1783.2,692.4 L1784.3,704.0 L1785.3,716.7 L1786.2,728.4 L1786.3,729.2 L1787.3,741.2 L1788.3,753.2 L1788.4,754.9 L1789.3,765.0 L1790.3,776.6 L1791.3,788.7 L1791.7,794.7 L1792.3,802.7 L1793.3,818.6 L1793.9,827.8 L1794.3,831.9 L1795.3,843.3 L1796.3,853.2 L1797.2,861.0 L1797.3,861.2 L1798.3,867.5 L1799.3,872.9 L1800.3,877.6 L1801.3,881.7 L1801.7,883.1 L1802.3,885.2 L1803.3,888.5 L1804.3,891.5 L1805.3,894.2 L1806.3,896.6 L1807.3,898.8 L1808.3,900.7 L1808.3,900.8 L1809.3,902.4 L1810.3,903.9 L1811.3,905.2 L1812.3,906.4 L1813.3,907.6 L1814.3,908.8 L1814.9,909.6 L1815.3,910.1 L1816.3,911.9 L1817.3,913.4 L1818.2,914.0 L1818.3,914.0 L1819.3,912.8 L1820.3,909.6 L1821.3,905.0 L1822.3,899.2 L1823.3,892.8 L1823.8,889.7 L1824.3,885.1 L1825.3,872.1 L1826.3,858.8 L1827.1,852.2 L1827.3,851.1 L1828.3,846.6 L1829.3,842.8 L1830.3,840.1 L1831.3,838.9 L1831.5,838.9 L1832.3,839.8 L1833.3,842.9 L1834.3,847.4 L1834.8,849.9 L1835.3,852.9 L1836.3,862.0 L1837.3,873.4 L1838.1,883.1 L1838.3,885.1 L1839.3,898.9 L1840.3,913.6 L1841.3,926.0 L1841.4,927.3 L1842.3,935.5 L1843.3,944.3 L1844.3,949.8 L1844.8,950.5 L1845.3,950.2 L1846.3,948.4 L1847.3,944.8 L1848.3,939.7 L1849.3,933.0 L1850.3,925.1 L1850.3,924.8 L1851.3,900.9 L1852.3,867.9 L1852.5,863.2 L1853.3,844.9 L1854.3,824.7 L1854.7,816.8 L1855.3,804.0 L1856.3,783.6 L1856.9,772.6 L1857.3,765.1 L1858.3,746.7 L1859.1,739.4 L1859.3,739.2 L1860.3,738.1 L1861.3,737.5 L1862.3,737.2 L1862.4,737.2 L1863.3,738.7 L1864.3,742.8 L1865.3,748.2 L1865.7,750.5 L1866.3,753.7 L1867.3,760.4 L1868.3,768.3 L1869.3,777.3 L1870.2,785.9 L1870.3,787.5 L1871.3,801.0 L1872.3,816.0 L1872.4,816.8 L1873.3,830.8 L1874.3,846.0 L1874.6,849.9 L1875.3,861.2 L1876.3,876.3 L1876.8,883.1 L1877.3,890.5 L1878.3,903.9 L1879.3,917.0 L1880.1,927.3 L1880.3,930.2 L1881.3,944.2 L1882.3,958.0 L1883.3,970.4 L1883.4,971.5 L1884.3,981.4 L1885.3,991.7 L1886.3,999.9 L1886.7,1002.4 L1887.3,1005.7 L1888.3,1010.6 L1889.3,1013.3 L1889.6,1013.5 L1890.3,1013.2 L1891.3,1011.8 L1892.3,1009.2 L1893.3,1005.2 L1894.3,999.9 L1895.3,993.2 L1895.6,991.4 L1896.3,970.9 L1896.7,962.7 L1897.3,955.2 L1898.3,948.2 L1899.3,943.0 L1900.3,936.0 L1901.1,927.3 L1901.3,921.8 L1902.2,894.1 L1902.3,892.1 L1903.3,881.5 L1904.3,874.4 L1905.3,865.4 L1905.5,863.2 L1906.3,849.6 L1907.4,826.9 L1907.7,816.8 L1908.4,794.8 L1909.4,754.9 L1909.5,750.5 L1910.4,730.8 L1911.4,712.4 L1911.7,706.3 L1912.4,695.6 L1913.4,680.0 L1914.4,666.9 L1914.8,662.1 L1915.4,656.7 L1916.4,647.0 L1917.4,637.9 L1918.4,629.8 L1919.4,623.6 L1920.4,619.6 L1921.2,618.6 L1921.4,618.6 L1922.4,620.9 L1923.4,625.7 L1924.4,632.3 L1925.4,639.8 L1926.4,647.7 L1926.5,648.8 L1927.4,656.2 L1928.4,666.9 L1929.4,678.6 L1929.8,684.2 L1930.4,690.6 L1931.4,703.1 L1932.4,716.7 L1933.1,728.4 L1933.4,732.5 L1934.3,748.3 L1934.4,749.0 L1935.4,754.2 L1936.4,758.0 L1937.4,760.4 L1938.4,761.5 L1938.7,761.5 L1939.4,761.4 L1940.4,760.5 L1941.4,759.4 L1942.4,758.3 L1943.4,757.4 L1944.2,757.1 L1944.4,757.1 L1945.4,757.5 L1946.4,758.5 L1947.4,759.9 L1948.4,761.9 L1949.4,764.4 L1950.4,767.3 L1951.4,770.6 L1951.9,772.6 L1952.4,775.1 L1953.4,785.3 L1954.4,798.8 L1955.2,810.2 L1955.4,811.9 L1956.4,824.7 L1957.4,838.0 L1957.5,838.9 L1958.4,851.1 L1959.4,864.2 L1960.4,877.8 L1960.8,883.1 L1961.4,892.5 L1962.4,908.2 L1963.0,916.2 L1963.4,921.1 L1964.4,932.1 L1965.4,941.7 L1966.3,949.4 L1966.4,950.2 L1967.4,957.2 L1968.4,963.5 L1969.4,970.0 L1969.6,971.5 L1970.4,977.9 L1971.4,986.9 L1972.4,994.9 L1972.9,998.0 L1973.4,1000.4 L1974.4,1005.2 L1975.4,1009.7 L1976.4,1013.3 L1977.4,1015.8 L1978.4,1016.8 L1978.5,1016.8 L1979.4,1014.9 L1980.4,1010.1 L1981.4,1004.3 L1981.8,1002.4 L1982.4,999.0 L1983.4,993.1 L1984.4,986.7 L1985.4,980.0 L1986.4,973.1 L1987.3,967.1 L1987.4,966.2 L1988.4,959.1 L1989.4,951.6 L1990.4,944.1 L1991.4,936.7 L1992.4,929.8 L1992.8,927.3 L1993.4,923.6 L1994.4,917.4 L1995.4,911.7 L1996.4,906.5 L1997.2,903.0 L1997.4,902.3 L1998.4,898.6 L1999.4,895.3 L2000.4,892.3 L2001.4,889.5 L2002.4,886.8 L2003.4,884.2 L2003.9,883.1 L2004.4,881.6 L2005.4,879.2 L2006.4,876.9 L2007.4,874.6 L2008.4,872.4 L2009.4,870.1 L2010.4,867.8 L2010.5,867.6 L2011.4,865.3 L2012.4,862.8 L2013.4,860.3 L2014.4,857.7 L2015.4,855.2 L2016.4,852.7 L2017.4,850.3 L2017.6,849.9 L2018.4,847.9 L2019.4,845.6 L2020.4,843.3" stroke="#dd5012" stroke-dasharray="40 23"/>
<path d="M239.0,842.8 L240.0,842.3 L241.0,841.9 L242.0,841.5 L243.0,841.1 L244.0,840.7 L245.0,840.3 L246.0,840.0 L247.0,839.6 L248.0,839.3 L249.0,839.0 L250.0,838.7 L250.7,838.5 L251.0,838.4 L252.0,838.1 L253.0,837.9 L254.0,837.6 L255.0,837.4 L256.0,837.1 L257.0,836.9 L258.0,836.7 L259.0,836.5 L260.0,836.3 L261.0,836.1 L262.0,835.9 L263.0,835.7 L264.0,835.6 L264.4,835.5 L265.0,835.4 L266.0,835.3 L267.0,835.2 L268.0,835.1 L269.0,834.9 L270.0,834.8 L271.0,834.7 L272.0,834.6 L273.0,834.5 L274.0,834.4 L275.0,834.3 L276.0,834.2 L277.0,834.1 L278.0,834.0 L279.0,833.9 L280.0,833.8 L281.0,833.8 L282.0,833.7 L283.0,833.6 L284.0,833.6 L284.0,833.6 L285.0,833.5 L286.0,833.4 L287.0,833.4 L288.0,833.3 L289.0,833.3 L290.0,833.2 L291.0,833.2 L292.0,833.1 L293.0,833.0 L294.0,833.0 L295.0,832.9 L296.0,832.9 L297.0,832.8 L298.0,832.8 L299.0,832.8 L300.0,832.7 L301.1,832.7 L302.1,832.7 L303.1,832.6 L304.1,832.6 L305.1,832.6 L306.1,832.6 L307.1,832.6 L307.5,832.6 L308.1,832.6 L309.1,832.6 L310.1,832.7 L311.1,832.7 L312.1,832.8 L313.1,832.9 L314.1,833.0 L315.1,833.1 L316.1,833.2 L317.1,833.3 L318.1,833.5 L319.1,833.6 L320.1,833.7 L321.1,833.8 L322.1,833.9 L323.1,834.0 L324.1,834.1 L325.1,834.1 L326.1,834.1 L327.1,834.2 L327.1,834.2 L328.1,834.2 L329.1,834.1 L330.1,834.1 L331.1,834.1 L332.1,834.1 L333.1,834.1 L334.1,834.0 L335.1,834.0 L336.1,834.0 L337.1,833.9 L338.1,833.9 L339.1,833.8 L340.1,833.8 L341.1,833.8 L342.1,833.7 L343.1,833.7 L344.1,833.7 L345.1,833.6 L346.1,833.6 L346.6,833.6 L347.1,833.6 L348.1,833.5 L349.1,833.5 L350.1,833.4 L351.1,833.4 L352.1,833.4 L353.1,833.3 L354.1,833.3 L355.1,833.3 L356.1,833.2 L357.1,833.2 L358.1,833.1 L359.1,833.1 L360.1,833.1 L361.1,833.0 L362.1,833.0 L363.1,833.0 L364.1,833.0 L365.1,833.0 L366.1,833.0 L366.2,833.0 L367.1,833.0 L368.1,833.0 L369.1,833.1 L370.1,833.2 L371.1,833.2 L372.1,833.4 L373.1,833.5 L374.1,833.6 L375.1,833.8 L376.1,833.9 L377.1,834.1 L378.1,834.2 L379.1,834.4 L380.1,834.6 L381.1,834.8 L382.1,834.9 L383.1,835.1 L384.1,835.3 L385.1,835.4 L385.8,835.5 L386.1,835.6 L387.1,835.7 L388.1,835.9 L389.1,836.1 L390.1,836.3 L391.1,836.6 L392.1,836.8 L393.1,837.0 L394.1,837.2 L395.1,837.5 L396.1,837.7 L397.1,837.9 L398.1,838.1 L399.1,838.3 L400.1,838.4 L401.1,838.6 L402.1,838.7 L403.1,838.8 L404.1,838.8 L405.1,838.9 L405.3,838.9 L406.1,838.8 L407.1,838.8 L408.1,838.7 L409.1,838.7 L410.1,838.5 L411.1,838.4 L412.1,838.3 L413.1,838.1 L414.1,838.0 L415.1,837.8 L416.1,837.6 L417.1,837.4 L418.1,837.2 L419.1,837.1 L420.1,836.9 L421.1,836.7 L422.1,836.6 L423.1,836.5 L424.1,836.3 L425.2,836.2 L426.2,836.2 L426.9,836.1 L427.2,836.1 L428.2,836.1 L429.2,836.0 L430.2,836.0 L431.2,836.0 L432.2,835.9 L433.2,835.9 L434.2,835.9 L435.2,835.9 L436.2,835.8 L437.2,835.8 L438.2,835.8 L439.2,835.8 L440.2,835.8 L441.2,835.7 L442.2,835.7 L443.2,835.7 L444.2,835.6 L445.2,835.6 L446.2,835.5 L446.4,835.5 L447.2,835.5 L448.2,835.3 L449.2,835.1 L450.2,834.8 L451.2,834.5 L452.2,834.2 L453.2,833.8 L454.2,833.3 L455.2,832.9 L456.2,832.4 L457.2,832.0 L458.2,831.5 L459.2,831.1 L460.2,830.6 L461.2,830.2 L462.2,829.8 L463.2,829.5 L464.2,829.2 L465.2,829.0 L466.2,828.8 L467.2,828.7 L468.0,828.7 L468.2,828.7 L469.2,828.7 L470.2,828.7 L471.2,828.7 L472.2,828.8 L473.2,828.9 L474.2,828.9 L475.2,829.0 L476.2,829.1 L477.2,829.2 L478.2,829.4 L479.2,829.5 L480.2,829.7 L481.2,829.8 L482.2,830.0 L483.2,830.2 L484.2,830.4 L485.2,830.6 L485.6,830.6 L486.2,830.8 L487.2,831.3 L488.2,831.9 L489.2,832.7 L490.2,833.6 L491.2,834.6 L492.2,835.6 L493.2,836.7 L494.2,837.7 L495.2,838.7 L496.2,839.6 L497.2,840.3 L497.3,840.4 L498.2,841.1 L499.2,841.8 L500.2,842.6 L501.2,843.4 L502.2,844.1 L503.2,844.9 L504.2,845.5 L505.2,846.1 L506.2,846.6 L507.2,847.0 L508.2,847.2 L509.1,847.3 L509.2,847.3 L510.2,847.1 L511.2,846.8 L512.2,846.3 L513.2,845.8 L514.2,845.1 L515.2,844.4 L516.2,843.6 L517.2,842.9 L518.2,842.2 L519.2,841.5 L520.2,841.0 L521.2,840.7 L522.2,840.4 L522.8,840.4 L523.2,840.4 L524.2,840.5 L525.2,840.6 L526.2,840.8 L527.2,841.1 L528.2,841.4 L529.2,841.8 L530.2,842.2 L531.2,842.6 L532.2,843.1 L533.2,843.7 L534.2,844.3 L535.2,844.9 L536.2,845.5 L537.2,846.1 L538.2,846.8 L539.2,847.5 L540.2,848.2 L540.4,848.2 L541.2,848.9 L542.2,849.9 L543.2,851.1 L544.2,852.4 L545.2,853.8 L546.2,855.3 L547.2,856.9 L548.3,858.6 L549.3,860.3 L550.3,861.9 L551.3,863.6 L552.3,865.2 L553.3,866.7 L554.1,867.8 L554.3,868.1 L555.3,869.6 L556.3,871.2 L557.3,872.9 L558.3,874.7 L559.3,876.4 L560.3,878.0 L561.3,879.4 L562.3,880.5 L563.3,881.4 L564.3,881.8 L564.8,881.9 L565.3,881.9 L566.3,881.5 L567.3,880.8 L568.3,879.8 L569.3,878.5 L570.3,877.1 L571.3,875.4 L572.3,873.7 L573.3,871.9 L574.3,870.1 L575.3,868.4 L575.6,867.8 L576.3,866.6 L577.3,864.6 L578.3,862.3 L579.3,859.9 L580.3,857.3 L581.3,854.7 L582.3,852.0 L583.3,849.4 L584.3,846.9 L585.3,844.6 L585.4,844.3 L586.3,842.3 L587.3,839.9 L588.3,837.4 L589.3,835.1 L590.3,832.9 L591.3,830.8 L592.3,829.0 L593.2,827.7 L593.3,827.6 L594.3,826.3 L595.3,825.0 L596.3,823.8 L597.3,822.6 L598.3,821.5 L599.3,820.6 L600.3,819.8 L601.3,819.3 L602.3,819.0 L603.0,818.9 L603.3,818.9 L604.3,819.1 L605.3,819.6 L606.3,820.3 L607.3,821.2 L608.3,822.3 L609.3,823.5 L610.3,824.9 L611.3,826.5 L612.3,828.1 L613.3,829.8 L614.3,831.6 L615.3,833.5 L616.3,835.3 L617.3,837.2 L618.3,839.1 L619.3,840.9 L620.0,842.1 L620.3,842.7 L621.3,844.8 L622.3,847.3 L623.3,849.9 L624.3,852.6 L625.3,855.1 L626.3,857.3 L627.3,859.1 L627.8,859.7 L628.3,860.3 L629.3,861.4 L630.3,862.4 L631.3,863.5 L632.3,864.4 L633.3,865.4 L634.3,866.2 L635.3,867.1 L636.3,867.8 L637.3,868.5 L638.3,869.0 L639.3,869.5 L640.3,869.9 L641.3,870.2 L642.3,870.4 L643.3,870.5 L643.5,870.5 L644.3,870.5 L645.3,870.4 L646.3,870.2 L647.3,870.1 L648.3,869.8 L649.3,869.5 L650.3,869.2 L651.3,868.9 L652.3,868.6 L653.3,868.2 L654.3,867.9 L655.2,867.6 L655.3,867.5 L656.3,867.2 L657.3,866.8 L658.3,866.5 L659.3,866.1 L660.3,865.7 L661.3,865.2 L662.3,864.6 L663.3,863.9 L664.3,863.2 L665.3,862.3 L666.0,861.7 L666.3,861.2 L667.3,859.1 L668.3,856.1 L669.3,852.4 L670.3,848.5 L671.3,845.1 L671.3,844.8 L672.4,841.2 L673.4,837.6 L674.4,833.8 L675.4,829.5 L676.4,824.7 L676.8,822.6 L677.4,818.8 L678.4,811.2 L679.4,802.4 L680.4,793.5 L681.4,785.5 L681.6,783.4 L682.4,778.7 L683.4,772.6 L684.4,766.8 L685.4,761.1 L686.4,755.1 L686.5,754.1 L687.4,748.9 L688.4,742.8 L689.4,736.5 L690.4,729.7 L691.4,722.3 L691.4,721.8 L692.4,713.7 L693.4,703.9 L694.4,693.4 L695.4,682.5 L696.4,671.8 L697.4,661.6 L697.7,658.5 L698.4,651.8 L699.4,641.6 L700.4,632.6 L701.2,627.2 L701.4,626.4 L702.4,622.1 L703.4,618.4 L704.4,615.3 L705.4,612.9 L706.1,611.5 L706.4,611.1 L707.4,609.5 L708.4,608.1 L709.4,607.0 L710.4,606.7 L710.4,606.7 L711.4,607.5 L712.4,610.0 L713.4,613.7 L714.4,618.1 L715.4,622.9 L715.9,625.2 L716.4,627.7 L717.4,633.6 L718.4,640.7 L719.4,648.9 L719.8,652.6 L720.4,659.0 L721.4,671.8 L721.8,676.1 L722.4,683.0 L723.4,693.3 L724.4,702.8 L724.7,705.5 L725.4,711.2 L726.4,718.9 L727.4,726.1 L728.4,733.0 L728.6,734.5 L729.4,740.0 L730.4,746.9 L731.4,753.4 L732.4,759.3 L732.5,759.9 L733.4,764.4 L734.4,769.2 L735.4,773.6 L736.4,777.7 L737.4,781.4 L737.4,781.5 L738.4,784.9 L739.4,788.2 L740.4,791.3 L741.4,794.0 L742.3,796.1 L742.4,796.4 L743.4,798.4 L744.4,800.1 L745.4,801.6 L746.4,803.0 L747.4,804.4 L748.4,805.9 L749.4,807.5 L750.4,809.3 L751.1,810.8 L751.4,811.5 L752.4,814.1 L753.4,817.1 L754.4,820.4 L755.4,823.9 L756.4,827.5 L757.4,831.1 L758.4,834.5 L758.9,836.3 L759.4,837.8 L760.4,840.9 L761.4,843.9 L762.4,847.1 L763.4,850.3 L764.4,853.9 L764.4,853.9 L765.4,857.6 L766.4,861.6 L767.4,865.7 L768.4,870.1 L769.4,874.8 L770.4,879.9 L770.7,881.3 L771.4,885.6 L772.4,892.2 L773.4,899.3 L774.4,906.6 L775.4,913.6 L775.6,914.5 L776.4,919.8 L777.4,925.6 L778.4,931.8 L779.4,939.5 L779.5,940.0 L780.4,950.0 L781.4,963.5 L782.4,979.1 L782.4,979.3 L783.4,999.1 L783.4,999.7 L784.4,1011.7 L785.4,1022.6 L785.4,1023.9 L786.3,1040.2 L786.4,1041.8 L787.4,1055.7 L788.3,1067.6 L788.4,1069.9 L789.4,1087.0 L790.3,1100.9 L790.4,1104.1 L791.4,1121.5 L792.2,1132.2 L792.4,1134.7 L793.4,1143.2 L794.4,1150.4 L795.1,1155.7 L795.5,1158.3 L796.5,1167.2 L797.5,1176.1 L798.1,1181.1 L798.5,1184.0 L799.5,1191.5 L800.5,1197.9 L801.0,1200.7 L801.5,1202.6 L802.5,1206.7 L803.5,1210.2 L804.5,1212.2 L804.9,1212.4 L805.5,1212.3 L806.5,1211.3 L807.5,1209.6 L808.5,1207.2 L809.5,1204.5 L810.5,1201.7 L810.8,1200.7 L811.5,1198.7 L812.5,1195.2 L813.5,1190.8 L814.5,1184.8 L814.7,1183.1 L815.5,1174.0 L816.5,1158.2 L816.7,1155.7 L817.5,1148.0 L818.5,1139.5 L818.6,1138.1 L819.5,1130.9 L820.5,1121.7 L820.6,1120.5 L821.5,1109.2 L822.5,1094.2 L822.5,1093.1 L823.5,1077.1 L823.5,1076.4 L824.5,1067.3 L825.5,1057.9 L825.5,1057.8 L826.5,1041.1 L827.0,1030.5 L827.5,1022.0 L828.0,1012.8 L828.5,1008.5 L829.5,1002.0 L830.4,995.2 L830.5,994.1 L831.5,980.5 L832.5,963.6 L833.3,949.8 L833.5,947.0 L834.5,930.7 L835.5,914.2 L836.5,898.2 L837.2,887.1 L837.5,883.4 L838.5,869.6 L839.5,856.5 L840.2,848.0 L840.5,843.9 L841.5,832.2 L842.1,824.5 L842.5,819.5 L843.5,805.1 L844.5,790.7 L845.0,783.4 L845.5,778.2 L846.5,767.4 L847.0,761.9 L847.5,756.6 L848.5,745.8 L849.5,735.2 L849.9,730.6 L850.5,725.2 L851.5,716.2 L852.5,706.0 L852.9,701.2 L853.5,689.7 L853.9,684.0 L854.5,677.3 L855.5,669.1 L856.5,662.6 L857.5,656.4 L857.8,654.6 L858.5,650.0 L859.5,644.1 L860.3,638.9 L860.5,637.6 L861.5,629.4 L862.5,622.1 L862.7,621.3 L863.5,617.4 L864.5,612.9 L865.5,608.9 L866.5,605.4 L867.5,602.6 L868.5,600.8 L869.5,600.2 L869.5,600.2 L870.5,600.6 L871.5,601.5 L872.5,603.0 L873.5,604.8 L874.4,606.7 L874.5,606.9 L875.5,610.1 L876.5,614.7 L877.5,620.0 L877.9,622.3 L878.5,626.4 L879.5,634.6 L880.3,638.9 L880.5,639.8 L881.5,643.0 L882.5,646.0 L883.5,648.7 L884.5,651.0 L885.5,653.0 L886.5,654.5 L887.5,655.5 L888.5,656.1 L889.1,656.2 L889.5,656.1 L890.5,655.7 L891.5,654.9 L892.5,653.9 L893.5,652.7 L894.5,651.5 L895.5,650.3 L896.5,649.3 L897.5,648.5 L898.5,648.2 L898.9,648.1 L899.5,648.2 L900.5,648.5 L901.5,649.1 L902.5,650.0 L903.5,651.0 L904.5,652.3 L905.5,653.7 L906.5,655.3 L906.7,655.6 L907.5,657.7 L908.5,661.8 L909.5,666.8 L910.5,671.9 L910.6,672.2 L911.5,677.0 L912.5,682.6 L913.5,688.5 L914.5,695.0 L915.5,701.6 L915.5,701.9 L916.5,710.2 L917.5,717.9 L917.5,718.6 L918.6,725.8 L919.6,732.6 L920.6,739.1 L921.4,744.3 L921.6,745.4 L922.6,751.9 L923.6,758.2 L924.6,764.0 L925.3,767.8 L925.6,769.0 L926.6,773.1 L927.6,776.8 L928.2,779.5 L928.6,781.0 L929.6,785.3 L930.6,789.9 L931.6,794.7 L932.6,799.9 L933.1,803.0 L933.6,805.7 L934.6,812.4 L935.6,819.7 L936.6,827.4 L937.6,835.0 L938.0,838.2 L938.6,842.2 L939.6,849.3 L940.6,856.8 L940.9,859.7 L941.6,865.1 L942.6,874.5 L943.6,884.2 L943.9,887.1 L944.6,893.9 L945.6,904.0 L945.8,906.7 L946.6,914.0 L947.6,923.9 L948.6,936.8 L948.8,940.0 L949.6,962.0 L949.7,965.4 L950.6,974.3 L951.6,983.6 L951.7,985.4 L952.6,1008.9 L952.7,1010.9 L953.6,1022.1 L954.2,1028.5 L954.6,1031.6 L955.6,1040.1 L956.2,1046.1 L956.6,1050.8 L957.6,1066.0 L958.2,1073.5 L958.6,1077.7 L959.6,1085.9 L960.1,1090.1 L960.6,1094.2 L961.6,1103.1 L962.5,1108.7 L962.6,1109.2 L963.6,1113.1 L964.6,1116.6 L965.6,1119.6 L966.6,1121.8 L967.6,1123.1 L968.3,1123.4 L968.6,1123.3 L969.6,1122.1 L970.6,1119.7 L971.6,1116.5 L972.6,1112.9 L973.2,1110.7 L973.6,1109.4 L974.6,1105.3 L975.6,1100.5 L976.6,1095.0 L976.6,1094.8 L977.6,1087.2 L978.6,1078.4 L978.7,1077.4 L979.6,1069.3 L980.6,1059.8 L981.6,1050.4 L981.6,1050.0 L982.6,1041.2 L983.6,1032.4 L983.6,1032.4 L984.6,1024.8 L985.6,1017.5 L985.9,1014.8 L986.6,1009.0 L987.6,999.4 L988.6,989.9 L988.9,987.4 L989.6,981.5 L990.6,973.4 L990.8,971.3 L991.6,963.2 L992.6,951.4 L993.6,941.3 L993.8,940.0 L994.6,934.4 L995.6,928.9 L996.6,924.1 L997.6,919.6 L998.6,914.7 L999.6,908.9 L999.6,908.7 L1000.6,902.0 L1001.6,894.3 L1002.6,885.9 L1003.6,877.4 L1003.6,876.8 L1004.6,866.7 L1005.6,855.4 L1006.6,843.6 L1007.6,831.9 L1008.5,822.6 L1008.6,820.7 L1009.6,810.0 L1010.6,799.3 L1011.6,789.0 L1012.4,781.5 L1012.6,778.8 L1013.6,768.3 L1014.6,757.9 L1015.6,748.8 L1016.3,744.3 L1016.6,742.4 L1017.6,738.4 L1018.6,734.9 L1019.6,730.1 L1019.9,728.4 L1020.6,719.1 L1021.6,701.5 L1022.1,695.2 L1022.6,690.4 L1023.6,683.3 L1024.3,677.6 L1024.6,673.9 L1025.6,659.8 L1026.5,647.8 L1026.6,646.4 L1027.6,635.6 L1028.6,625.6 L1029.6,616.1 L1030.6,606.5 L1030.9,603.6 L1031.6,596.6 L1032.6,586.6 L1033.6,576.6 L1034.6,566.5 L1035.4,559.4 L1035.6,556.6 L1036.6,547.1 L1037.6,537.7 L1038.6,527.8 L1039.6,516.7 L1039.8,515.2 L1040.6,503.7 L1041.6,488.6 L1042.7,472.6 L1043.7,456.9 L1044.2,448.9 L1044.7,442.6 L1045.7,429.2 L1046.7,416.0 L1047.5,404.7 L1047.7,402.8 L1048.7,389.5 L1049.7,376.1 L1050.7,362.8 L1050.8,360.5 L1051.7,348.6 L1052.7,333.5 L1053.7,320.7 L1054.1,316.3 L1054.7,312.5 L1055.7,306.3 L1056.7,301.5 L1057.5,298.6 L1057.7,298.0 L1058.7,295.0 L1059.7,292.3 L1060.7,290.3 L1061.7,289.4 L1061.9,289.3 L1062.7,290.1 L1063.7,292.9 L1064.7,297.5 L1065.7,303.3 L1066.3,307.5 L1066.7,310.7 L1067.7,324.4 L1068.5,338.4 L1068.7,341.2 L1069.7,361.6 L1070.7,381.8 L1070.7,382.6 L1071.7,396.7 L1072.7,411.3 L1072.9,415.7 L1073.7,432.4 L1074.7,459.0 L1075.1,471.0 L1075.7,484.5 L1076.7,509.5 L1077.3,526.2 L1077.7,534.6 L1078.7,560.4 L1079.6,581.5 L1079.7,584.1 L1080.7,602.2 L1081.7,623.3 L1081.8,625.7 L1082.7,665.6 L1082.9,673.1 L1083.7,698.7 L1084.0,706.3 L1084.7,720.8 L1085.1,728.4 L1085.7,739.8 L1086.2,750.5 L1086.7,763.8 L1087.3,783.6 L1087.7,799.5 L1088.0,812.4 L1088.4,838.9 L1088.7,850.0 L1089.5,872.0 L1089.7,875.6 L1090.6,889.7 L1090.7,891.3 L1091.7,915.6 L1091.7,916.2 L1092.7,945.5 L1092.8,949.4 L1093.7,975.6 L1093.9,982.5 L1094.7,1006.3 L1095.0,1015.7 L1095.7,1030.8 L1096.1,1041.0 L1096.7,1057.4 L1097.2,1074.2 L1097.7,1087.9 L1098.3,1107.3 L1098.7,1118.0 L1099.4,1140.5 L1099.7,1147.5 L1100.6,1171.4 L1100.7,1176.0 L1101.7,1206.8 L1101.7,1207.8 L1102.7,1227.4 L1102.8,1228.9 L1103.7,1256.9 L1103.9,1262.0 L1104.7,1288.0 L1105.0,1295.2 L1105.7,1310.1 L1106.1,1317.3 L1106.7,1329.8 L1107.2,1339.4 L1107.7,1350.4 L1108.3,1361.5 L1108.7,1367.0 L1109.6,1378.3 L1109.7,1380.5 L1110.6,1401.8 L1110.7,1404.5 L1111.5,1418.4 L1111.7,1420.2 L1112.7,1428.7 L1113.5,1435.0 L1113.7,1437.0 L1114.7,1448.7 L1115.7,1460.0 L1116.4,1465.4 L1116.7,1466.6 L1117.7,1470.9 L1118.7,1474.4 L1119.7,1476.9 L1120.7,1478.0 L1120.9,1478.1 L1121.7,1477.8 L1122.7,1476.4 L1123.7,1474.3 L1124.7,1471.4 L1125.7,1468.0 L1126.7,1464.3 L1127.2,1462.4 L1127.7,1459.8 L1128.7,1452.4 L1129.7,1443.4 L1130.7,1434.9 L1131.1,1432.1 L1131.7,1428.3 L1132.7,1422.6 L1133.7,1417.2 L1134.1,1415.5 L1134.7,1412.0 L1135.7,1407.0 L1136.7,1401.5 L1137.0,1399.8 L1137.7,1394.1 L1138.7,1384.9 L1139.7,1375.3 L1140.5,1368.5 L1140.7,1366.8 L1141.7,1359.5 L1142.5,1353.8 L1142.7,1352.4 L1143.7,1345.2 L1144.7,1337.3 L1144.8,1337.2 L1145.7,1327.8 L1146.7,1317.3 L1147.6,1308.5 L1147.7,1307.4 L1148.7,1299.3 L1149.6,1291.2 L1149.7,1289.8 L1150.7,1275.9 L1150.9,1273.1 L1151.7,1262.4 L1152.7,1249.1 L1152.9,1246.6 L1153.7,1236.0 L1154.3,1228.9 L1154.7,1221.5 L1155.4,1211.2 L1155.7,1204.3 L1156.7,1185.3 L1156.9,1182.5 L1157.7,1169.8 L1158.0,1165.9 L1158.7,1155.2 L1159.1,1149.3 L1159.7,1138.2 L1160.7,1119.5 L1160.7,1117.6 L1161.3,1102.9 L1161.7,1096.1 L1162.4,1086.4 L1162.7,1081.0 L1163.7,1062.5 L1164.0,1057.6 L1164.6,1041.0 L1164.7,1038.9 L1165.8,1024.1 L1166.8,1007.1 L1166.9,1004.6 L1167.5,978.1 L1167.8,969.8 L1168.4,949.4 L1168.8,939.9 L1169.7,916.2 L1169.8,915.5 L1170.6,894.1 L1170.8,890.5 L1171.8,865.8 L1171.9,861.0 L1172.8,835.8 L1172.8,834.5 L1173.8,819.3 L1174.6,808.0 L1174.8,805.3 L1175.8,788.7 L1176.8,773.1 L1176.8,772.6 L1177.8,761.0 L1178.8,749.3 L1179.0,746.1 L1179.8,737.7 L1180.1,728.4 L1180.4,647.8 L1180.8,604.3 L1180.8,603.6 L1181.7,570.4 L1181.8,569.0 L1182.8,558.4 L1183.8,552.1 L1184.5,548.3 L1184.8,547.3 L1185.8,544.1 L1186.8,541.7 L1187.8,538.1 L1188.3,535.1 L1188.8,530.1 L1189.4,515.2 L1189.6,493.1 L1189.8,481.8 L1189.9,471.0 L1190.1,448.9 L1190.4,426.8 L1190.6,404.7 L1190.8,399.8 L1191.4,387.0 L1191.8,384.2 L1192.8,379.3 L1193.8,376.4 L1194.8,373.7 L1195.6,370.4 L1195.8,369.5 L1196.8,364.1 L1197.8,356.3 L1198.0,353.9 L1198.8,338.6 L1198.9,336.2 L1199.8,318.5 L1200.0,316.3 L1200.8,312.3 L1201.8,308.8 L1202.8,306.9 L1203.3,306.4 L1203.8,306.1 L1204.8,305.5 L1205.8,305.1 L1206.8,304.9 L1207.7,304.8 L1207.8,304.8 L1208.8,306.5 L1209.8,310.6 L1210.8,315.8 L1211.7,320.7 L1211.8,321.1 L1212.8,326.5 L1213.8,332.8 L1214.8,339.8 L1215.8,347.7 L1216.1,350.6 L1216.8,356.8 L1217.7,367.1 L1217.8,368.7 L1218.8,384.8 L1218.8,384.9 L1219.8,396.1 L1220.8,405.6 L1221.7,414.6 L1221.8,416.3 L1222.8,429.0 L1222.8,429.5 L1223.6,445.6 L1223.8,447.9 L1224.8,459.8 L1225.8,475.2 L1225.9,476.5 L1226.3,493.1 L1226.8,502.8 L1227.6,515.2 L1227.8,518.5 L1228.7,537.3 L1228.8,538.5 L1229.8,554.4 L1229.8,555.0 L1230.8,574.1 L1230.9,577.1 L1231.8,598.8 L1232.0,603.6 L1232.8,613.5 L1233.1,618.0 L1233.8,627.1 L1234.3,636.7 L1234.7,662.1 L1234.8,664.5 L1235.8,676.6 L1236.0,679.8 L1236.8,699.7 L1236.9,701.9 L1237.8,719.6 L1238.7,732.8 L1238.8,734.4 L1239.8,743.9 L1239.8,744.3 L1240.8,762.4 L1240.9,763.8 L1241.8,781.9 L1242.0,785.9 L1242.7,803.5 L1242.8,806.6 L1243.8,821.7 L1244.2,827.8 L1244.8,840.2 L1245.3,849.9 L1245.8,858.0 L1246.4,867.6 L1246.8,876.4 L1247.5,894.1 L1247.8,903.1 L1248.6,927.3 L1248.8,931.8 L1249.7,949.4 L1249.8,951.3 L1250.8,971.3 L1250.8,971.5 L1251.8,991.3 L1251.9,993.6 L1252.8,1011.3 L1253.8,1030.7 L1254.1,1036.6 L1254.8,1048.3 L1255.2,1055.4 L1255.8,1065.3 L1256.4,1074.2 L1256.8,1081.5 L1257.8,1096.2 L1258.1,1100.7 L1258.8,1112.4 L1259.2,1118.4 L1259.8,1125.6 L1260.8,1136.1 L1260.8,1136.7 L1261.8,1151.0 L1262.8,1162.7 L1263.0,1163.7 L1263.8,1168.0 L1264.8,1172.3 L1265.8,1175.5 L1266.8,1177.3 L1267.4,1177.6 L1267.8,1177.5 L1268.8,1175.9 L1269.8,1172.9 L1270.8,1168.5 L1271.8,1163.0 L1272.3,1160.4 L1272.8,1154.1 L1273.8,1137.0 L1274.0,1133.9 L1274.8,1121.7 L1275.8,1107.3 L1275.8,1106.8 L1276.8,1092.5 L1277.3,1085.2 L1277.8,1078.3 L1278.8,1064.0 L1278.9,1063.1 L1279.8,1048.2 L1280.7,1034.4 L1280.8,1031.3 L1281.8,1013.1 L1282.8,994.1 L1282.9,993.6 L1283.8,974.4 L1284.8,954.1 L1285.1,949.4 L1285.8,934.1 L1286.8,914.1 L1287.3,905.2 L1287.8,893.5 L1288.8,872.4 L1289.5,861.0 L1289.9,856.2 L1290.9,845.0 L1291.7,834.5 L1291.9,832.4 L1292.9,814.2 L1293.9,795.8 L1293.9,794.7 L1294.9,780.9 L1295.9,767.3 L1296.9,754.9 L1297.2,750.5 L1297.9,743.5 L1298.9,732.9 L1299.9,723.3 L1300.6,717.3 L1300.9,715.0 L1301.9,708.3 L1302.9,702.1 L1303.9,695.3 L1303.9,695.2 L1304.9,686.7 L1305.9,677.3 L1306.9,668.8 L1307.2,666.5 L1307.9,662.0 L1308.9,655.8 L1309.9,650.9 L1310.5,648.8 L1310.9,647.9 L1311.9,645.6 L1312.9,643.9 L1313.8,643.3 L1313.9,643.3 L1314.9,644.1 L1315.9,645.9 L1316.9,648.7 L1317.9,652.0 L1318.2,653.3 L1318.9,656.6 L1319.9,664.3 L1320.4,668.7 L1320.9,671.9 L1321.9,679.0 L1322.9,686.9 L1323.8,695.2 L1323.9,696.6 L1324.9,711.7 L1325.9,727.3 L1326.0,728.4 L1326.9,738.6 L1327.9,748.0 L1328.2,750.5 L1328.9,755.7 L1329.9,761.8 L1330.9,768.1 L1331.5,772.6 L1331.9,776.0 L1332.9,786.2 L1333.7,794.7 L1333.9,796.6 L1334.9,807.9 L1335.9,816.7 L1335.9,816.8 L1336.9,821.7 L1337.9,825.7 L1338.9,828.9 L1339.9,831.4 L1340.3,832.3 L1340.9,833.3 L1341.9,835.1 L1342.9,836.4 L1343.6,836.7 L1343.9,836.6 L1344.9,833.9 L1345.9,829.1 L1346.9,823.7 L1347.0,823.4 L1347.9,818.5 L1348.9,812.6 L1349.9,805.9 L1350.9,798.5 L1351.4,794.7 L1351.9,790.0 L1352.9,779.4 L1353.6,772.6 L1353.9,769.9 L1354.9,761.7 L1355.9,754.0 L1356.9,746.1 L1356.9,746.1 L1357.9,737.3 L1358.9,728.3 L1359.9,719.8 L1360.2,717.3 L1360.9,712.5 L1361.9,706.1 L1362.9,699.7 L1363.5,695.2 L1363.9,692.3 L1364.9,683.4 L1365.9,674.2 L1366.9,666.5 L1366.9,666.1 L1367.9,659.2 L1368.9,652.8 L1369.9,646.8 L1370.9,641.0 L1371.3,639.0 L1371.9,635.6 L1372.9,631.3 L1373.9,626.9 L1374.9,621.1 L1375.7,614.6 L1375.9,611.2 L1376.8,592.5 L1376.9,591.2 L1377.9,582.0 L1378.9,577.2 L1379.0,577.1 L1379.9,576.1 L1380.9,575.3 L1381.9,574.7 L1382.9,574.5 L1383.4,574.4 L1383.9,574.5 L1384.9,575.2 L1385.9,576.5 L1386.9,578.3 L1387.9,580.7 L1388.9,583.6 L1389.0,583.7 L1389.9,590.6 L1390.9,601.3 L1391.2,603.6 L1391.9,611.1 L1392.9,621.3 L1393.4,625.7 L1393.9,631.0 L1394.9,640.5 L1395.6,647.8 L1395.9,653.0 L1396.9,671.4 L1397.7,684.2 L1397.9,687.8 L1398.9,699.9 L1399.4,706.3 L1399.9,712.8 L1400.9,727.5 L1401.0,728.4 L1401.9,747.3 L1402.1,750.5 L1402.9,767.8 L1403.2,772.6 L1403.9,783.5 L1404.8,794.7 L1404.9,797.6 L1405.9,814.2 L1406.1,816.8 L1406.9,838.6 L1407.0,838.9 L1407.9,854.9 L1408.3,861.0 L1408.9,877.6 L1409.2,883.1 L1409.9,898.8 L1410.3,905.2 L1410.9,918.6 L1411.4,927.3 L1411.9,938.7 L1412.5,949.4 L1413.0,958.9 L1413.6,971.5 L1414.0,977.9 L1414.9,993.6 L1415.0,994.1 L1416.0,1008.2 L1416.5,1015.7 L1417.0,1023.9 L1417.6,1034.4 L1418.0,1040.3 L1419.0,1054.7 L1419.3,1059.8 L1420.0,1066.9 L1420.9,1078.6 L1421.0,1079.9 L1422.0,1104.6 L1422.0,1105.1 L1423.0,1116.6 L1423.5,1122.8 L1424.0,1128.1 L1424.9,1140.5 L1425.0,1142.1 L1426.0,1161.1 L1426.4,1169.2 L1427.0,1178.1 L1427.5,1185.8 L1428.0,1190.9 L1429.0,1201.3 L1429.1,1202.4 L1430.0,1213.7 L1431.0,1227.0 L1431.3,1231.1 L1432.0,1240.6 L1432.6,1248.8 L1433.0,1253.0 L1434.0,1263.5 L1434.1,1265.4 L1435.0,1274.0 L1436.0,1284.3 L1437.0,1293.7 L1437.0,1294.1 L1438.0,1301.7 L1439.0,1308.9 L1439.2,1310.7 L1440.0,1315.7 L1441.0,1322.0 L1441.9,1327.2 L1442.0,1327.8 L1443.0,1333.3 L1444.0,1338.6 L1445.0,1343.3 L1446.0,1347.2 L1446.3,1348.2 L1447.0,1350.2 L1448.0,1353.1 L1449.0,1355.4 L1450.0,1356.6 L1450.3,1356.6 L1451.0,1356.5 L1452.0,1356.0 L1453.0,1355.2 L1454.0,1354.0 L1455.0,1352.6 L1456.0,1351.0 L1456.9,1349.3 L1457.0,1349.2 L1458.0,1346.4 L1459.0,1342.1 L1460.0,1336.8 L1460.7,1332.8 L1461.0,1330.4 L1462.0,1320.6 L1463.0,1309.4 L1463.5,1304.0 L1464.0,1300.2 L1465.0,1292.6 L1465.7,1286.4 L1466.0,1284.0 L1467.0,1273.3 L1467.3,1269.8 L1468.0,1260.5 L1469.0,1246.3 L1469.5,1239.9 L1470.0,1235.0 L1471.0,1225.1 L1471.0,1224.5 L1472.0,1209.2 L1472.2,1206.8 L1473.0,1196.4 L1474.0,1184.0 L1474.4,1178.1 L1475.0,1162.0 L1475.0,1161.5 L1476.0,1146.8 L1476.1,1144.9 L1477.0,1133.5 L1478.0,1119.8 L1478.3,1114.0 L1479.0,1098.5 L1479.0,1098.5 L1480.0,1087.2 L1480.6,1081.9 L1481.0,1078.1 L1482.0,1072.6 L1483.0,1061.3 L1483.4,1052.1 L1483.7,1004.6 L1483.9,971.5 L1484.0,962.7 L1484.3,938.3 L1485.0,919.4 L1485.6,910.7 L1486.0,906.9 L1487.0,899.5 L1488.0,893.7 L1488.3,891.9 L1489.0,887.9 L1490.0,883.2 L1491.0,877.2 L1491.6,872.0 L1492.0,866.8 L1492.7,849.9 L1493.0,828.4 L1493.1,816.8 L1493.4,794.7 L1493.6,783.6 L1493.9,750.5 L1494.0,744.1 L1494.9,717.3 L1495.0,715.3 L1496.0,698.2 L1497.0,685.5 L1497.1,684.2 L1498.0,676.8 L1499.0,667.6 L1499.3,662.1 L1500.0,596.2 L1500.4,537.8 L1500.7,504.6 L1501.0,476.3 L1501.1,473.7 L1502.0,465.8 L1503.0,461.6 L1504.0,459.1 L1504.9,456.0 L1505.0,455.3 L1506.0,451.8 L1507.0,449.1 L1508.0,445.5 L1509.0,439.2 L1509.9,429.5 L1510.0,425.7 L1510.2,411.8 L1510.4,394.1 L1510.7,365.4 L1510.9,348.8 L1511.0,343.6 L1511.2,332.3 L1511.4,303.5 L1511.7,286.3 L1512.0,277.2 L1512.6,269.3 L1513.0,266.2 L1514.0,261.9 L1515.0,259.6 L1516.0,257.0 L1517.0,251.8 L1517.5,248.3 L1518.0,229.4 L1518.1,225.1 L1518.4,206.3 L1518.6,187.5 L1519.0,186.2 L1520.0,183.9 L1521.0,182.6 L1522.0,181.8 L1523.0,181.6 L1523.6,181.5 L1524.0,181.7 L1525.0,183.4 L1526.0,187.0 L1527.0,192.4 L1527.6,196.4 L1528.0,204.3 L1528.5,212.9 L1529.0,215.3 L1530.0,218.3 L1531.0,219.9 L1532.0,220.7 L1533.0,221.4 L1534.0,222.5 L1535.0,224.6 L1536.0,228.4 L1536.5,230.6 L1536.7,239.4 L1537.0,256.7 L1537.1,261.9 L1537.2,272.6 L1537.5,303.5 L1537.7,320.1 L1538.0,336.7 L1538.1,338.0 L1539.1,349.5 L1540.1,355.8 L1541.1,359.6 L1542.1,363.5 L1542.4,365.4 L1543.1,368.3 L1544.1,371.9 L1545.1,378.3 L1545.3,380.9 L1545.7,396.4 L1546.0,428.4 L1546.1,433.2 L1546.2,444.5 L1546.5,460.4 L1546.7,491.4 L1547.0,508.0 L1547.1,512.2 L1547.2,524.5 L1547.5,537.8 L1548.1,552.0 L1549.1,569.3 L1550.1,579.6 L1551.1,586.9 L1552.1,595.1 L1553.1,608.3 L1554.1,630.3 L1554.6,646.6 L1554.8,673.1 L1555.1,692.6 L1555.1,694.1 L1555.3,710.7 L1555.6,739.4 L1555.8,756.0 L1556.1,771.0 L1556.1,772.6 L1556.3,803.5 L1556.6,819.0 L1557.1,823.3 L1558.1,827.9 L1559.1,830.1 L1560.1,834.2 L1560.1,834.5 L1561.1,840.9 L1562.1,855.0 L1562.3,861.0 L1562.6,883.1 L1563.0,916.2 L1563.1,923.0 L1563.4,949.4 L1563.9,982.5 L1564.1,995.5 L1564.5,1015.7 L1565.1,1021.2 L1566.1,1027.5 L1567.1,1031.0 L1567.8,1033.4 L1568.1,1034.1 L1569.1,1035.9 L1570.1,1037.0 L1571.1,1039.4 L1571.8,1043.3 L1572.1,1068.7 L1572.1,1069.1 L1572.3,1085.2 L1573.1,1089.2 L1574.1,1092.6 L1575.1,1094.4 L1576.1,1095.1 L1576.7,1095.2 L1577.1,1095.2 L1578.1,1095.1 L1579.1,1095.0 L1580.1,1094.8 L1581.1,1094.5 L1582.1,1094.1 L1582.2,1094.1 L1583.1,1090.8 L1584.1,1084.5 L1584.4,1083.0 L1585.1,1081.0 L1586.1,1078.5 L1587.1,1076.4 L1588.1,1074.5 L1589.1,1072.4 L1589.9,1070.4 L1590.1,1070.1 L1591.1,1067.0 L1592.1,1063.6 L1593.1,1060.1 L1594.1,1057.1 L1595.1,1054.8 L1595.5,1054.3 L1596.1,1053.6 L1597.1,1052.5 L1598.1,1051.5 L1599.1,1050.6 L1600.1,1049.9 L1601.1,1049.3 L1602.1,1048.9 L1603.1,1048.8 L1603.2,1048.8 L1604.1,1049.0 L1605.1,1049.8 L1606.1,1051.1 L1607.1,1052.7 L1608.1,1054.8 L1609.1,1057.2 L1610.1,1059.8 L1611.1,1062.6 L1612.0,1065.4 L1612.1,1065.6 L1613.1,1069.7 L1614.1,1075.3 L1615.1,1081.5 L1615.4,1083.0 L1616.1,1087.9 L1617.1,1095.0 L1617.6,1098.5 L1618.1,1102.9 L1619.1,1111.7 L1620.1,1121.0 L1620.9,1128.3 L1621.1,1130.6 L1622.1,1141.1 L1623.1,1151.9 L1624.1,1161.9 L1624.2,1162.6 L1625.1,1170.3 L1626.1,1177.9 L1627.1,1185.7 L1627.5,1189.1 L1628.1,1195.4 L1629.1,1205.7 L1629.3,1206.8 L1630.1,1212.4 L1631.1,1218.2 L1632.1,1221.8 L1632.6,1222.3 L1633.1,1222.1 L1634.1,1221.2 L1635.1,1219.5 L1635.9,1217.8 L1636.1,1217.2 L1637.1,1211.9 L1638.1,1203.7 L1639.1,1194.1 L1639.7,1189.1 L1640.1,1184.4 L1641.1,1173.4 L1641.2,1172.5 L1642.1,1164.4 L1643.0,1156.0 L1643.1,1154.1 L1644.1,1138.6 L1645.1,1119.5 L1645.2,1118.4 L1646.1,1095.9 L1646.3,1091.9 L1647.1,1069.1 L1647.4,1063.1 L1648.1,1052.4 L1648.5,1045.5 L1649.1,1017.1 L1649.2,1015.7 L1650.1,971.5 L1650.1,968.1 L1651.1,936.1 L1651.4,927.3 L1652.1,888.4 L1652.3,883.1 L1653.1,852.6 L1653.6,838.9 L1654.1,823.2 L1655.1,794.7 L1655.1,794.4 L1656.1,753.7 L1656.2,750.5 L1657.1,726.1 L1658.0,706.3 L1658.1,703.1 L1659.1,681.4 L1659.6,673.1 L1660.2,662.2 L1661.1,644.4 L1661.2,643.4 L1662.2,620.0 L1663.2,593.6 L1664.2,565.2 L1665.1,537.8 L1665.2,535.6 L1666.2,503.4 L1666.2,502.4 L1666.9,483.6 L1667.2,471.6 L1667.3,467.1 L1668.2,450.1 L1669.1,436.1 L1669.2,434.5 L1669.9,420.7 L1670.2,415.6 L1670.6,404.1 L1671.2,393.2 L1672.2,374.3 L1672.2,374.1 L1672.8,357.7 L1673.2,348.8 L1673.5,341.1 L1674.2,327.0 L1675.0,312.4 L1675.2,310.5 L1676.2,299.3 L1676.6,294.7 L1677.2,287.2 L1677.9,278.1 L1678.2,275.2 L1679.2,265.1 L1680.2,255.8 L1681.0,248.3 L1681.2,246.6 L1682.2,236.7 L1682.8,232.8 L1683.2,231.2 L1684.2,227.6 L1685.2,224.5 L1686.2,222.2 L1687.2,220.6 L1688.2,220.0 L1688.3,220.0 L1689.2,223.7 L1690.2,231.1 L1690.5,232.8 L1691.2,235.1 L1692.2,237.5 L1693.2,239.3 L1694.2,241.3 L1695.2,244.4 L1696.0,248.3 L1696.2,249.3 L1697.1,264.9 L1697.2,267.0 L1697.4,281.4 L1697.6,312.4 L1697.9,327.8 L1698.1,345.5 L1698.2,346.2 L1699.2,355.4 L1700.2,360.6 L1701.2,363.5 L1702.2,365.8 L1703.2,369.1 L1703.8,372.0 L1704.2,374.6 L1705.2,381.5 L1706.0,389.7 L1706.2,392.9 L1706.6,405.2 L1706.9,436.1 L1707.1,452.3 L1707.2,456.0 L1707.4,469.3 L1707.6,498.0 L1707.9,514.6 L1708.2,520.9 L1709.2,530.7 L1709.3,531.2 L1710.2,533.9 L1711.2,536.3 L1711.5,537.8 L1712.2,569.9 L1713.2,637.8 L1713.3,640.0 L1714.2,659.2 L1714.4,662.1 L1715.2,676.9 L1715.5,679.8 L1716.2,684.0 L1717.2,688.0 L1718.2,690.7 L1719.2,693.1 L1720.2,696.2 L1721.0,699.7 L1721.2,700.7 L1722.2,706.4 L1723.2,717.3 L1723.2,717.3 L1723.9,746.1 L1724.1,762.7 L1724.2,767.9 L1724.4,779.2 L1724.6,810.2 L1725.2,814.4 L1726.2,818.3 L1727.2,820.1 L1728.2,821.8 L1728.7,823.4 L1729.2,825.1 L1730.2,828.1 L1731.2,832.4 L1732.0,838.9 L1732.2,841.6 L1732.7,861.0 L1733.0,885.3 L1733.2,905.2 L1733.2,905.4 L1733.5,933.9 L1734.2,942.0 L1735.2,946.3 L1735.4,947.2 L1736.2,951.9 L1737.2,957.7 L1737.6,960.4 L1738.2,967.7 L1739.2,983.7 L1739.8,993.6 L1740.2,999.6 L1740.9,1015.7 L1741.1,1054.3 L1741.2,1060.0 L1741.5,1073.1 L1742.2,1077.8 L1743.2,1082.1 L1744.2,1084.4 L1745.2,1086.2 L1746.2,1088.9 L1746.4,1089.7 L1747.2,1092.2 L1748.2,1095.8 L1749.1,1102.9 L1749.2,1111.9 L1749.3,1118.4 L1749.6,1133.9 L1750.2,1144.8 L1750.8,1151.5 L1751.2,1157.9 L1752.2,1174.9 L1752.6,1180.3 L1753.2,1187.5 L1754.1,1196.9 L1754.2,1197.7 L1755.2,1208.5 L1755.7,1213.4 L1756.2,1219.2 L1757.2,1230.1 L1758.2,1240.3 L1758.6,1243.3 L1759.2,1248.6 L1760.2,1255.9 L1760.8,1259.8 L1761.2,1263.3 L1762.2,1270.9 L1763.0,1276.4 L1763.2,1278.2 L1764.2,1285.1 L1765.2,1291.7 L1766.2,1298.4 L1767.2,1305.1 L1767.4,1306.2 L1768.2,1312.0 L1769.2,1319.0 L1769.6,1321.7 L1770.2,1326.4 L1771.2,1334.0 L1771.8,1338.3 L1772.2,1341.3 L1773.2,1348.5 L1774.2,1355.6 L1775.2,1362.2 L1776.2,1368.1 L1776.2,1368.1 L1777.2,1373.5 L1778.2,1378.3 L1779.2,1382.5 L1779.6,1383.6 L1780.2,1386.0 L1781.2,1389.5 L1782.2,1392.9 L1783.2,1396.1 L1784.3,1398.9 L1785.3,1401.0 L1786.3,1402.5 L1787.3,1403.0 L1787.3,1403.0 L1788.3,1402.7 L1789.3,1401.7 L1790.3,1400.0 L1791.3,1397.5 L1792.3,1394.5 L1792.8,1392.4 L1793.3,1388.9 L1793.9,1381.4 L1794.3,1378.4 L1795.3,1370.3 L1796.1,1363.7 L1796.3,1362.8 L1797.3,1356.6 L1798.3,1349.1 L1798.3,1348.2 L1799.3,1331.7 L1799.9,1319.5 L1800.3,1314.2 L1801.2,1301.8 L1801.3,1301.1 L1802.3,1286.2 L1802.3,1285.2 L1803.3,1268.0 L1803.9,1255.4 L1804.3,1245.3 L1804.5,1238.8 L1805.3,1225.3 L1805.4,1222.3 L1806.3,1199.2 L1806.5,1193.5 L1807.3,1182.7 L1807.6,1177.0 L1808.3,1160.8 L1808.3,1160.4 L1809.3,1134.3 L1809.4,1130.6 L1809.8,1114.0 L1810.3,1103.7 L1810.5,1098.5 L1811.3,1077.8 L1811.6,1067.6 L1812.0,1051.0 L1812.3,1036.8 L1812.7,1006.9 L1813.1,988.1 L1813.3,984.5 L1813.8,971.5 L1814.3,947.8 L1814.5,938.3 L1814.9,925.1 L1815.3,918.5 L1816.0,905.2 L1816.3,893.6 L1816.7,872.0 L1817.1,861.0 L1817.3,856.6 L1817.8,838.9 L1818.2,816.8 L1818.3,814.8 L1818.7,799.1 L1818.9,783.6 L1819.3,758.2 L1819.3,754.9 L1819.8,737.2 L1820.3,722.5 L1820.4,717.3 L1821.1,690.8 L1821.3,684.2 L1821.5,674.3 L1822.0,657.7 L1822.3,649.6 L1822.7,640.0 L1823.3,620.8 L1824.3,586.6 L1825.3,551.4 L1826.3,519.0 L1827.1,497.8 L1827.3,493.5 L1828.2,475.7 L1828.3,469.7 L1828.6,444.8 L1829.3,424.9 L1829.3,424.7 L1829.9,409.4 L1830.3,383.4 L1830.4,378.5 L1831.3,365.1 L1831.5,361.9 L1832.2,345.3 L1832.3,341.6 L1833.3,314.4 L1833.3,313.7 L1834.1,298.9 L1834.3,295.8 L1834.8,283.4 L1835.3,269.2 L1835.9,252.5 L1836.3,246.0 L1837.0,235.9 L1837.3,231.9 L1838.1,220.4 L1838.3,218.0 L1839.3,203.5 L1840.3,191.0 L1840.3,190.6 L1841.3,181.1 L1842.3,173.9 L1842.5,172.9 L1843.3,170.6 L1844.3,167.9 L1845.3,165.8 L1846.3,164.4 L1847.3,163.7 L1847.6,163.6 L1848.3,164.2 L1849.3,166.8 L1850.3,171.2 L1851.3,176.9 L1851.4,177.3 L1852.3,188.3 L1852.5,190.6 L1853.3,200.5 L1854.0,208.7 L1854.3,211.4 L1855.3,220.0 L1855.8,226.0 L1856.3,238.4 L1856.9,254.7 L1857.3,261.6 L1858.0,271.3 L1858.3,274.7 L1859.3,284.9 L1859.6,287.8 L1860.3,298.1 L1861.3,317.4 L1861.3,317.7 L1861.8,334.3 L1862.3,347.9 L1862.4,350.8 L1863.3,375.7 L1863.5,380.7 L1864.3,392.0 L1864.6,397.2 L1865.3,413.8 L1865.3,414.2 L1866.2,443.6 L1866.3,451.7 L1866.4,460.2 L1866.7,475.7 L1867.3,485.7 L1868.3,495.2 L1869.3,500.6 L1870.1,504.3 L1870.3,505.3 L1871.3,508.6 L1872.3,510.6 L1873.3,513.7 L1874.3,520.3 L1874.4,520.7 L1874.7,537.1 L1875.0,567.5 L1875.2,583.9 L1875.3,589.6 L1875.5,600.3 L1875.7,630.7 L1876.0,646.5 L1876.3,648.9 L1877.3,653.7 L1878.3,656.3 L1879.3,657.7 L1880.3,659.3 L1881.1,661.1 L1881.3,661.9 L1882.3,663.7 L1883.3,668.3 L1883.5,669.6 L1883.7,693.9 L1884.0,707.4 L1884.2,728.4 L1884.3,729.0 L1885.3,733.5 L1886.3,735.9 L1887.3,736.9 L1888.3,737.3 L1889.3,737.7 L1890.3,738.9 L1891.3,741.6 L1892.3,746.1 L1892.3,750.6 L1892.5,767.1 L1893.3,769.7 L1894.3,772.1 L1895.3,773.8 L1896.3,774.9 L1897.3,775.7 L1898.3,776.3 L1899.3,776.7 L1900.3,777.3 L1901.3,778.2 L1902.2,779.2 L1902.3,779.4 L1903.3,780.7 L1904.3,781.8 L1905.3,783.0 L1906.3,784.4 L1907.4,786.3 L1908.4,788.8 L1908.8,790.3 L1909.4,793.7 L1909.9,799.1 L1910.4,802.5 L1911.4,810.9 L1912.2,816.8 L1912.4,818.0 L1913.4,823.1 L1914.4,827.7 L1915.4,833.6 L1915.5,834.5 L1916.4,843.2 L1917.4,856.4 L1917.7,861.0 L1918.4,873.1 L1918.8,879.8 L1919.4,885.4 L1920.4,892.7 L1921.0,898.6 L1921.4,903.7 L1922.4,921.5 L1922.8,927.3 L1923.4,933.2 L1924.3,941.7 L1924.4,942.2 L1925.4,953.8 L1925.9,960.4 L1926.4,968.7 L1927.4,987.2 L1927.6,991.4 L1928.4,1001.7 L1928.7,1006.9 L1929.4,1014.4 L1929.8,1024.5 L1930.1,1049.9 L1930.3,1065.4 L1930.4,1067.6 L1930.6,1083.0 L1930.8,1114.0 L1931.2,1129.4 L1931.4,1131.9 L1932.4,1138.7 L1933.4,1142.0 L1934.3,1147.1 L1934.4,1148.2 L1935.4,1162.2 L1936.0,1175.9 L1936.4,1187.4 L1936.5,1191.3 L1936.7,1206.8 L1937.0,1237.7 L1937.2,1254.3 L1937.4,1264.2 L1937.5,1270.9 L1937.7,1301.8 L1938.0,1334.0 L1938.4,1340.7 L1939.4,1351.2 L1940.4,1356.3 L1941.4,1359.8 L1941.9,1362.4 L1942.4,1364.5 L1943.4,1367.5 L1944.4,1371.2 L1945.3,1378.4 L1945.4,1379.4 L1945.7,1394.5 L1946.0,1424.7 L1946.2,1440.8 L1946.4,1451.8 L1946.5,1456.9 L1946.7,1487.1 L1947.4,1497.0 L1948.4,1502.9 L1948.5,1504.1 L1949.4,1511.1 L1950.4,1518.9 L1950.4,1519.2 L1951.4,1528.1 L1952.4,1538.0 L1953.4,1546.0 L1954.2,1549.5 L1954.4,1549.8 L1955.4,1551.4 L1956.4,1552.7 L1957.4,1553.6 L1958.4,1554.1 L1958.9,1554.2 L1959.4,1553.9 L1960.4,1551.7 L1961.4,1547.6 L1962.4,1542.2 L1963.4,1536.0 L1963.7,1534.4 L1964.4,1527.8 L1965.4,1515.4 L1966.1,1506.0 L1966.4,1502.4 L1967.4,1488.6 L1967.4,1488.1 L1968.4,1472.0 L1968.4,1471.7 L1969.4,1456.3 L1970.3,1442.7 L1970.4,1440.5 L1971.2,1425.7 L1971.4,1421.5 L1971.8,1409.6 L1972.2,1379.4 L1972.4,1370.4 L1973.4,1345.1 L1974.4,1328.8 L1975.1,1315.1 L1975.4,1308.7 L1975.8,1299.6 L1976.4,1290.0 L1976.7,1284.1 L1977.3,1253.2 L1977.4,1251.4 L1978.0,1236.6 L1978.4,1221.6 L1978.5,1220.1 L1979.4,1195.8 L1979.6,1191.3 L1980.0,1173.6 L1980.4,1163.9 L1980.7,1158.2 L1981.4,1137.2 L1981.8,1127.2 L1982.4,1111.2 L1982.4,1110.7 L1982.9,1096.3 L1983.4,1081.5 L1984.0,1065.4 L1984.4,1049.0 L1984.4,1048.8 L1985.1,1032.2 L1985.4,1016.3 L1985.5,1011.3 L1986.4,985.6 L1986.9,971.5 L1987.3,949.4 L1987.4,942.7 L1987.7,927.3 L1988.4,916.6 L1989.1,905.2 L1989.4,876.0 L1989.5,872.0 L1990.4,863.4 L1990.6,861.0 L1991.3,838.9 L1991.4,832.0 L1991.7,816.8 L1992.2,798.0 L1992.4,792.0 L1992.8,783.6 L1993.4,755.3 L1993.5,752.7 L1993.9,736.1 L1994.4,717.3 L1994.4,714.9 L1995.0,688.6 L1995.4,679.4 L1995.7,673.1 L1996.1,657.7 L1996.4,645.6 L1996.6,640.0 L1997.4,614.6 L1998.4,587.4 L1999.4,562.9 L2000.4,540.9 L2001.4,521.0 L2002.4,502.9 L2003.4,486.3 L2003.4,486.3 L2004.4,473.0 L2004.5,471.3 L2005.4,447.0 L2005.6,440.3 L2006.1,423.8 L2006.4,414.3 L2006.7,407.2 L2007.4,392.2 L2008.3,376.2 L2008.4,374.0 L2009.4,360.8 L2009.4,360.2 L2010.4,344.0 L2010.5,343.1 L2011.4,330.2 L2012.4,317.1 L2012.7,313.3 L2013.4,302.3 L2013.8,296.7 L2014.4,287.2 L2014.9,281.2 L2015.4,276.8 L2016.4,270.2 L2017.4,264.4 L2017.6,263.5 L2018.4,258.0 L2019.4,251.8 L2020.4,245.9" stroke="#eeb01e" stroke-dasharray="33 11.3 8.5 10.2"/>
<path d="M239.0,842.8 L240.0,842.8 L241.0,842.8 L242.0,842.8 L243.0,842.8 L244.0,842.8 L245.0,842.8 L246.0,842.8 L247.0,842.8 L248.0,842.8 L249.0,842.8 L250.0,842.8 L251.0,842.8 L252.0,842.8 L253.0,842.8 L254.0,842.8 L255.0,842.8 L256.0,842.8 L257.0,842.8 L258.0,842.8 L259.0,842.8 L260.0,842.8 L261.0,842.8 L262.0,842.8 L263.0,842.8 L264.0,842.8 L265.0,842.8 L266.0,842.8 L267.0,842.8 L268.0,842.8 L269.0,842.8 L270.0,842.8 L271.0,842.8 L272.0,842.8 L273.0,842.8 L274.0,842.8 L275.0,842.8 L276.0,842.8 L277.0,842.8 L278.0,842.8 L279.0,842.8 L280.0,842.8 L281.0,842.8 L282.0,842.8 L283.0,842.8 L284.1,842.8 L285.1,842.8 L286.1,842.8 L287.1,842.8 L287.9,842.8 L288.1,842.8 L289.1,842.8 L290.1,842.8 L291.1,842.8 L292.1,842.8 L293.1,842.8 L294.1,842.8 L295.1,842.8 L296.1,842.8 L297.1,842.8 L298.1,842.8 L299.1,842.8 L300.1,842.9 L301.1,842.9 L302.1,842.9 L303.1,842.9 L304.1,842.9 L305.1,842.9 L306.1,842.9 L307.1,843.0 L308.1,843.0 L309.1,843.0 L310.1,843.0 L311.1,843.0 L312.1,843.1 L313.1,843.1 L314.1,843.1 L315.1,843.1 L316.1,843.1 L317.1,843.1 L318.1,843.2 L319.1,843.2 L320.1,843.2 L321.1,843.2 L322.1,843.2 L323.1,843.2 L324.1,843.3 L325.1,843.3 L326.1,843.3 L327.1,843.3 L328.1,843.3 L329.1,843.3 L330.1,843.3 L331.1,843.3 L332.1,843.3 L333.1,843.3 L334.1,843.3 L335.1,843.4 L336.1,843.4 L336.8,843.4 L337.1,843.4 L338.1,843.3 L339.1,843.3 L340.1,843.3 L341.1,843.3 L342.1,843.3 L343.1,843.3 L344.1,843.3 L345.1,843.2 L346.1,843.2 L347.1,843.2 L348.1,843.2 L349.1,843.1 L350.1,843.1 L351.1,843.1 L352.1,843.0 L353.1,843.0 L354.1,842.9 L355.1,842.9 L356.1,842.9 L357.1,842.8 L358.1,842.8 L359.1,842.7 L360.1,842.7 L361.1,842.6 L362.1,842.6 L363.1,842.5 L364.1,842.5 L365.1,842.4 L366.1,842.4 L367.1,842.3 L368.1,842.3 L369.1,842.2 L370.1,842.2 L371.1,842.1 L372.1,842.1 L373.1,842.0 L374.2,842.0 L375.2,841.9 L376.2,841.9 L377.2,841.9 L378.2,841.8 L379.2,841.8 L380.2,841.7 L381.2,841.7 L382.2,841.7 L383.2,841.6 L384.2,841.6 L385.2,841.6 L386.2,841.5 L387.2,841.5 L388.2,841.5 L389.2,841.5 L390.2,841.4 L391.2,841.4 L392.2,841.4 L393.2,841.4 L394.2,841.4 L395.2,841.4 L395.6,841.4 L396.2,841.4 L397.2,841.4 L398.2,841.4 L399.2,841.4 L400.2,841.4 L401.2,841.4 L402.2,841.5 L403.2,841.5 L404.2,841.5 L405.2,841.5 L406.2,841.6 L407.2,841.6 L408.2,841.6 L409.2,841.7 L410.2,841.7 L411.2,841.8 L412.2,841.8 L413.2,841.9 L414.2,841.9 L415.2,842.0 L416.2,842.0 L417.2,842.1 L418.2,842.1 L419.2,842.2 L420.2,842.3 L421.2,842.3 L422.2,842.4 L423.2,842.5 L424.2,842.6 L425.2,842.6 L426.2,842.7 L426.9,842.8 L427.2,842.8 L428.2,842.9 L429.2,843.2 L430.2,843.4 L431.2,843.8 L432.2,844.1 L433.2,844.5 L434.2,844.9 L435.2,845.3 L436.2,845.6 L437.2,845.9 L438.2,846.2 L439.2,846.4 L440.2,846.6 L441.2,846.7 L441.5,846.7 L442.2,846.7 L443.2,846.6 L444.2,846.5 L445.2,846.4 L446.2,846.3 L447.2,846.1 L448.2,845.9 L449.2,845.7 L450.2,845.5 L451.2,845.2 L452.2,845.0 L453.2,844.7 L454.2,844.5 L455.2,844.2 L456.2,843.9 L456.2,843.9 L457.2,843.6 L458.2,843.3 L459.2,842.9 L460.2,842.4 L461.2,842.0 L462.2,841.5 L463.2,841.0 L464.3,840.5 L465.3,840.0 L466.3,839.6 L467.3,839.2 L468.3,838.9 L469.3,838.6 L469.9,838.5 L470.3,838.4 L471.3,838.2 L472.3,838.1 L473.3,837.9 L474.3,837.7 L475.3,837.6 L476.3,837.4 L477.3,837.3 L478.3,837.2 L479.3,837.1 L480.3,837.0 L481.3,837.0 L482.3,836.9 L483.3,836.9 L483.6,836.9 L484.3,837.0 L485.3,837.5 L486.3,838.3 L487.3,839.4 L488.3,840.7 L489.3,842.2 L490.3,843.7 L491.3,845.3 L492.3,846.8 L493.3,848.1 L494.3,849.3 L495.3,850.1 L495.4,850.2 L496.3,850.9 L497.3,851.6 L498.3,852.3 L499.3,853.0 L500.3,853.6 L501.3,854.3 L502.3,854.9 L503.3,855.4 L504.3,855.9 L505.3,856.3 L506.3,856.6 L507.3,856.9 L508.3,857.0 L509.1,857.1 L509.3,857.0 L510.3,856.8 L511.3,856.4 L512.3,855.8 L513.3,855.0 L514.3,854.1 L515.3,853.0 L516.3,852.0 L517.3,850.9 L518.3,849.7 L519.3,848.7 L520.3,847.7 L520.8,847.3 L521.3,846.8 L522.3,845.9 L523.3,844.9 L524.3,843.9 L525.3,842.9 L526.3,841.9 L527.3,840.9 L528.3,839.9 L529.3,839.0 L530.3,838.2 L531.3,837.4 L532.3,836.6 L532.5,836.5 L533.3,836.0 L534.3,835.3 L535.3,834.6 L536.3,833.9 L537.3,833.3 L538.3,832.7 L539.3,832.1 L540.3,831.6 L541.3,831.2 L542.3,830.9 L543.3,830.7 L544.3,830.6 L544.3,830.6 L545.3,830.9 L546.3,831.5 L547.3,832.4 L548.3,833.6 L549.3,834.9 L550.3,836.3 L551.3,837.6 L552.3,838.9 L553.3,840.0 L554.4,840.8 L555.4,841.3 L556.0,841.4 L556.4,841.4 L557.4,841.4 L558.4,841.4 L559.4,841.3 L560.4,841.3 L561.4,841.2 L562.4,841.2 L563.4,841.1 L564.4,841.0 L565.4,840.9 L566.4,840.8 L567.4,840.7 L568.4,840.6 L569.4,840.5 L569.7,840.4 L570.4,840.2 L571.4,839.6 L572.4,838.6 L573.4,837.4 L574.4,835.9 L575.4,834.4 L576.4,832.9 L577.4,831.3 L578.4,830.0 L579.4,828.8 L579.5,828.7 L580.4,827.8 L581.4,826.8 L582.4,825.7 L583.4,824.6 L584.4,823.6 L585.4,822.6 L586.4,821.7 L587.4,820.9 L588.4,820.2 L589.4,819.6 L590.4,819.1 L591.3,818.9 L591.4,818.9 L592.4,818.7 L593.4,818.5 L594.4,818.3 L595.4,818.1 L596.4,818.0 L597.4,817.8 L598.4,817.7 L599.4,817.6 L600.4,817.5 L601.4,817.4 L602.4,817.4 L603.4,817.3 L604.4,817.3 L604.9,817.3 L605.4,817.4 L606.4,818.0 L607.4,819.1 L608.4,820.7 L609.4,822.6 L610.4,824.6 L611.4,826.8 L612.4,828.9 L612.8,829.7 L613.4,830.9 L614.4,832.7 L615.4,834.7 L616.4,837.1 L617.4,840.2 L618.4,844.2 L618.6,845.3 L619.4,853.9 L620.0,859.7 L620.4,861.7 L621.4,865.4 L622.4,868.1 L623.4,870.3 L624.4,872.2 L625.4,874.3 L625.9,875.4 L626.4,876.9 L627.4,879.6 L628.4,882.3 L629.4,884.9 L630.4,887.3 L631.4,889.5 L631.7,890.1 L632.4,891.3 L633.4,893.0 L634.4,894.5 L635.4,895.9 L636.4,897.3 L637.4,898.6 L638.4,899.9 L639.4,901.2 L640.4,902.6 L640.5,902.8 L641.4,904.0 L642.4,905.4 L643.4,906.6 L644.5,907.9 L645.5,909.2 L646.5,910.6 L647.5,912.1 L648.5,913.8 L649.4,915.5 L649.5,915.7 L650.5,918.3 L651.5,921.4 L652.5,924.8 L653.5,928.0 L654.2,930.2 L654.5,930.7 L655.5,933.2 L656.5,935.6 L657.5,938.0 L658.5,940.1 L659.5,941.9 L660.5,943.3 L661.1,943.9 L661.5,944.2 L662.5,944.9 L663.5,945.6 L664.5,946.3 L665.5,946.9 L666.5,947.4 L667.5,947.8 L668.5,948.2 L669.5,948.5 L670.5,948.7 L671.5,948.8 L671.9,948.8 L672.5,948.3 L673.5,946.1 L674.5,942.6 L675.5,938.6 L676.5,934.9 L676.8,934.1 L677.5,932.0 L678.5,929.3 L679.5,926.5 L680.5,923.5 L681.5,920.0 L681.6,919.4 L682.5,915.7 L683.5,910.4 L684.5,904.3 L684.6,903.8 L685.5,896.8 L686.5,888.4 L686.5,888.1 L687.5,880.4 L688.5,872.5 L688.5,872.4 L689.5,864.6 L690.5,856.8 L690.5,856.3 L691.5,846.6 L692.0,841.1 L692.5,835.6 L693.4,825.5 L693.5,824.2 L694.5,814.4 L695.0,809.8 L695.5,803.5 L696.3,794.2 L696.5,792.3 L697.5,782.8 L697.9,778.5 L698.5,768.8 L698.9,762.9 L699.5,752.2 L699.8,747.2 L700.5,739.3 L701.2,731.6 L701.5,727.8 L702.5,714.0 L703.5,701.1 L703.6,700.6 L704.5,690.6 L705.1,684.9 L705.5,681.6 L706.5,673.9 L707.1,669.9 L707.5,666.7 L708.5,659.8 L709.4,654.6 L709.5,654.2 L710.5,649.4 L711.5,644.9 L712.5,641.1 L713.5,638.6 L714.3,638.0 L714.5,638.0 L715.5,638.9 L716.5,640.9 L717.5,643.8 L718.5,647.4 L719.5,651.5 L719.8,652.6 L720.5,657.5 L721.5,666.2 L721.8,667.9 L722.5,673.0 L723.5,679.0 L724.3,683.4 L724.5,684.7 L725.5,690.1 L726.5,695.4 L727.2,699.0 L727.5,700.7 L728.5,706.8 L729.5,712.1 L730.2,714.3 L730.5,715.1 L731.5,717.1 L732.5,718.7 L733.5,720.1 L734.6,721.3 L735.6,722.3 L736.6,723.1 L737.4,723.7 L737.6,723.8 L738.6,724.4 L739.6,724.9 L740.6,725.3 L741.6,725.7 L742.6,726.0 L743.6,726.3 L744.6,726.6 L745.6,727.0 L746.6,727.5 L747.6,728.2 L748.2,728.6 L748.6,729.0 L749.6,730.3 L750.6,732.0 L751.6,734.2 L752.6,736.6 L753.6,739.3 L754.6,742.0 L755.0,743.3 L755.6,745.0 L756.6,748.8 L757.6,753.0 L758.6,756.8 L758.9,758.0 L759.6,759.8 L760.6,762.2 L761.6,764.3 L762.6,766.4 L763.6,768.8 L764.6,771.8 L764.8,772.7 L765.6,776.1 L766.6,782.3 L767.6,789.4 L768.6,796.7 L769.6,803.3 L769.7,804.0 L770.6,808.2 L771.6,812.7 L772.6,819.2 L772.6,819.6 L773.6,834.8 L773.6,835.3 L774.6,850.9 L774.6,850.9 L775.6,862.6 L776.0,866.6 L776.6,872.6 L777.5,882.2 L777.6,883.1 L778.5,897.9 L778.6,899.3 L779.5,913.6 L779.6,916.1 L780.1,929.2 L780.6,938.1 L781.1,944.9 L781.6,953.6 L782.0,960.5 L782.6,969.7 L783.0,976.2 L783.6,985.1 L784.0,991.3 L784.6,1003.5 L784.8,1007.0 L785.6,1022.6 L785.6,1023.6 L786.3,1038.7 L786.6,1042.3 L787.6,1053.0 L787.7,1054.3 L788.6,1068.7 L788.7,1070.0 L789.6,1084.7 L789.7,1085.6 L790.6,1100.8 L790.6,1101.3 L791.6,1113.7 L791.8,1116.6 L792.6,1129.5 L792.8,1132.2 L793.6,1142.2 L794.2,1147.9 L794.6,1152.1 L795.6,1160.4 L796.1,1163.5 L796.6,1166.0 L797.6,1170.9 L798.6,1175.1 L799.6,1178.3 L800.6,1180.0 L801.0,1180.2 L801.6,1180.0 L802.6,1179.4 L803.6,1178.3 L804.6,1176.8 L805.5,1175.3 L805.6,1175.0 L806.6,1171.0 L807.6,1164.8 L808.5,1159.6 L808.6,1158.5 L809.6,1152.1 L810.6,1145.2 L810.8,1144.0 L811.6,1137.8 L812.6,1129.8 L812.8,1128.7 L813.6,1120.2 L814.3,1113.0 L814.6,1109.6 L815.6,1098.2 L815.7,1097.6 L816.6,1088.6 L817.3,1081.9 L817.6,1076.1 L818.2,1066.3 L818.6,1061.2 L819.6,1050.6 L819.6,1050.2 L820.6,1039.1 L821.0,1035.0 L821.6,1024.5 L822.0,1019.7 L822.6,1010.8 L823.1,1004.0 L823.6,993.5 L823.9,988.4 L824.7,978.2 L825.1,972.7 L825.7,965.4 L826.7,952.7 L827.4,941.9 L827.7,938.7 L828.7,922.8 L829.4,910.6 L829.7,906.3 L830.7,889.7 L831.4,878.3 L831.7,873.4 L832.7,857.3 L833.3,848.0 L833.7,843.8 L834.7,832.6 L834.7,832.3 L835.7,816.7 L835.7,816.6 L836.6,801.0 L836.7,800.5 L837.6,784.4 L837.7,783.7 L838.7,773.7 L839.2,768.7 L839.7,763.2 L840.5,753.1 L840.7,751.9 L841.7,742.3 L842.1,738.4 L842.7,733.8 L843.7,725.9 L844.1,722.8 L844.7,717.8 L845.7,709.7 L846.0,707.1 L846.7,702.7 L847.7,696.6 L848.6,691.4 L848.7,690.8 L849.7,685.5 L850.7,680.4 L851.5,676.1 L851.7,675.2 L852.7,669.7 L853.7,664.1 L854.2,660.9 L854.7,658.3 L855.7,652.2 L856.7,645.9 L856.8,645.2 L857.7,639.0 L858.7,632.1 L859.1,629.5 L859.7,626.6 L860.7,621.1 L861.7,616.4 L862.7,613.7 L863.1,613.5 L863.7,613.6 L864.7,614.3 L865.7,615.5 L866.7,617.0 L867.7,618.9 L868.7,621.1 L869.7,623.4 L869.9,623.9 L870.7,626.3 L871.7,630.5 L872.7,635.5 L873.4,639.3 L873.7,640.9 L874.7,647.4 L875.7,654.5 L875.8,655.0 L876.7,661.5 L877.7,668.9 L877.9,670.6 L878.7,677.5 L879.7,685.9 L879.7,686.1 L880.7,692.8 L881.7,698.6 L882.2,701.6 L882.7,704.6 L883.7,711.4 L884.7,716.2 L885.2,716.8 L885.7,716.8 L886.7,716.6 L887.7,716.3 L888.7,715.8 L889.7,715.2 L890.7,714.6 L891.7,714.0 L892.7,713.4 L893.7,712.8 L894.0,712.7 L894.7,712.3 L895.7,711.6 L896.7,710.9 L897.7,710.2 L898.7,709.5 L899.7,708.8 L900.7,708.3 L901.7,708.0 L902.7,707.8 L902.8,707.8 L903.7,709.4 L904.7,713.4 L905.7,718.6 L906.7,723.3 L906.7,723.6 L907.7,728.4 L908.7,733.7 L909.6,738.4 L909.7,739.0 L910.7,744.2 L911.7,749.5 L912.6,754.1 L912.7,755.1 L913.7,760.8 L914.8,766.7 L915.8,772.8 L916.8,779.4 L917.5,784.4 L917.8,786.7 L918.8,795.6 L919.4,801.0 L919.8,803.4 L920.8,809.5 L921.8,815.4 L922.0,816.7 L922.8,822.6 L923.8,829.8 L924.3,832.3 L924.8,833.7 L925.8,836.1 L926.8,837.8 L927.8,839.2 L928.8,840.6 L929.8,842.1 L930.8,844.1 L931.2,845.1 L931.8,846.9 L932.8,850.5 L933.8,854.8 L934.8,859.4 L935.1,860.7 L935.8,864.0 L936.8,869.1 L937.8,874.9 L938.0,876.4 L938.8,881.8 L939.8,890.3 L940.0,892.0 L940.8,901.3 L941.3,907.7 L941.8,911.9 L942.8,921.0 L942.9,922.4 L943.8,936.7 L943.9,938.0 L944.8,948.4 L945.2,953.7 L945.8,960.8 L946.4,969.3 L946.8,973.7 L947.8,985.0 L947.8,985.0 L948.8,996.3 L949.2,1000.7 L949.8,1009.3 L950.3,1016.8 L950.8,1022.3 L951.7,1032.4 L951.8,1033.3 L952.8,1043.2 L953.3,1048.1 L953.8,1053.9 L954.6,1063.3 L954.8,1065.0 L955.8,1075.1 L956.2,1079.0 L956.8,1084.5 L957.8,1093.3 L958.0,1094.6 L958.8,1100.9 L959.8,1107.9 L960.1,1110.3 L960.8,1116.1 L961.8,1124.3 L962.1,1125.9 L962.8,1129.8 L963.8,1134.4 L964.8,1138.1 L965.8,1140.7 L966.0,1141.0 L966.8,1142.3 L967.8,1143.8 L968.8,1145.1 L969.8,1146.1 L970.8,1146.9 L971.8,1147.2 L972.3,1147.3 L972.8,1147.2 L973.8,1146.4 L974.8,1144.9 L975.8,1143.0 L976.8,1140.6 L977.8,1137.8 L978.8,1134.8 L979.8,1131.7 L980.1,1130.8 L980.8,1127.8 L981.8,1122.2 L982.8,1116.5 L983.0,1115.6 L983.8,1111.7 L984.8,1107.1 L985.8,1102.4 L986.3,1099.9 L986.8,1097.4 L987.8,1092.2 L988.8,1086.8 L989.3,1084.3 L989.8,1081.1 L990.8,1075.1 L991.8,1069.0 L991.8,1068.9 L992.8,1062.3 L993.8,1055.7 L994.2,1053.5 L994.8,1049.5 L995.8,1043.8 L996.7,1038.3 L996.8,1037.4 L997.8,1029.7 L998.7,1022.6 L998.8,1021.0 L999.8,1010.8 L1000.2,1007.0 L1000.8,1001.5 L1001.8,992.7 L1002.0,991.3 L1002.8,983.1 L1003.6,975.7 L1003.8,972.5 L1004.9,960.6 L1004.9,959.5 L1005.9,944.8 L1005.9,943.9 L1006.9,929.7 L1006.9,929.2 L1007.9,919.8 L1008.5,913.6 L1008.9,908.1 L1009.4,897.9 L1009.9,886.0 L1010.0,882.2 L1010.9,872.4 L1011.4,866.6 L1011.9,859.5 L1012.4,850.9 L1012.9,842.2 L1013.3,834.3 L1013.9,828.9 L1014.6,820.1 L1014.9,811.2 L1015.0,804.6 L1015.5,788.1 L1015.9,781.3 L1016.6,772.6 L1016.9,768.5 L1017.7,757.1 L1017.9,754.5 L1018.8,741.7 L1018.9,740.5 L1019.9,726.5 L1019.9,726.2 L1020.9,711.2 L1021.0,709.6 L1021.9,700.4 L1022.5,694.1 L1022.9,691.1 L1023.9,682.5 L1024.3,678.7 L1024.9,673.6 L1025.9,664.8 L1026.1,663.2 L1026.9,657.6 L1027.9,650.9 L1028.3,647.7 L1028.9,642.2 L1029.8,632.3 L1029.9,631.9 L1030.9,622.1 L1031.4,616.9 L1031.9,611.1 L1032.7,601.4 L1032.9,599.5 L1033.9,589.1 L1034.3,584.8 L1034.9,576.2 L1035.4,569.3 L1035.9,562.0 L1036.5,553.9 L1036.9,547.7 L1037.6,538.4 L1037.9,534.9 L1038.9,525.3 L1039.1,522.9 L1039.9,513.6 L1040.4,506.4 L1040.9,500.2 L1041.5,490.9 L1041.9,486.1 L1042.7,475.4 L1042.9,472.0 L1043.8,459.9 L1043.9,458.0 L1044.9,444.5 L1044.9,444.0 L1045.9,430.0 L1046.0,429.0 L1046.9,415.6 L1047.1,413.1 L1047.9,401.0 L1048.2,397.0 L1048.9,386.8 L1049.3,381.5 L1049.9,373.1 L1050.4,366.0 L1050.9,356.8 L1051.3,350.6 L1051.9,342.9 L1052.6,335.1 L1052.9,330.9 L1053.7,319.6 L1053.9,317.1 L1054.9,305.6 L1055.2,303.0 L1055.9,299.5 L1056.9,294.6 L1057.9,290.9 L1058.9,288.6 L1059.7,288.0 L1059.9,288.1 L1060.9,289.9 L1061.9,293.5 L1062.9,298.2 L1063.6,301.9 L1063.9,303.4 L1064.9,310.9 L1065.6,317.4 L1065.9,320.3 L1066.9,332.4 L1067.0,332.9 L1067.9,342.1 L1068.5,349.4 L1068.9,358.9 L1069.2,364.9 L1069.9,377.9 L1070.1,380.4 L1070.7,395.9 L1070.9,399.3 L1071.8,412.4 L1071.9,414.5 L1072.5,427.9 L1072.9,436.1 L1073.4,443.4 L1073.9,450.8 L1074.5,458.8 L1074.9,469.2 L1075.1,474.3 L1075.8,489.8 L1075.9,493.8 L1076.2,505.2 L1076.7,520.7 L1076.9,527.0 L1077.3,537.3 L1077.8,552.8 L1077.9,556.4 L1078.5,568.2 L1078.9,583.7 L1078.9,584.8 L1079.6,600.3 L1079.9,613.7 L1080.0,615.7 L1080.7,631.2 L1080.9,637.2 L1081.3,646.7 L1081.8,662.1 L1081.9,668.2 L1082.2,677.6 L1082.9,693.0 L1082.9,694.5 L1083.5,708.5 L1083.9,723.8 L1084.0,725.1 L1084.6,740.6 L1084.9,751.1 L1085.1,756.0 L1085.7,772.6 L1085.9,779.4 L1086.2,788.1 L1086.9,803.5 L1086.9,805.6 L1087.5,819.0 L1087.9,834.0 L1088.0,834.5 L1088.4,849.9 L1088.8,865.4 L1088.9,868.4 L1089.5,882.0 L1089.9,891.8 L1090.2,897.5 L1090.6,912.9 L1090.9,921.2 L1091.3,928.4 L1091.9,943.9 L1091.9,944.3 L1092.4,959.8 L1092.8,975.9 L1092.9,980.5 L1093.3,991.4 L1093.7,1006.9 L1093.9,1012.8 L1094.4,1023.4 L1094.6,1037.7 L1095.0,1050.4 L1095.0,1053.2 L1095.5,1069.1 L1096.0,1080.2 L1096.1,1084.8 L1096.6,1100.7 L1097.0,1109.4 L1097.2,1116.2 L1097.7,1132.1 L1098.0,1139.1 L1098.3,1147.8 L1099.0,1162.3 L1099.0,1163.7 L1099.4,1179.2 L1099.9,1195.1 L1100.0,1196.9 L1100.6,1210.8 L1101.0,1224.9 L1101.0,1226.0 L1101.7,1241.7 L1102.0,1252.8 L1102.1,1257.6 L1102.8,1273.1 L1103.0,1277.5 L1103.4,1288.6 L1103.9,1304.7 L1104.0,1307.3 L1104.5,1320.2 L1105.0,1326.8 L1105.6,1336.1 L1106.0,1341.7 L1106.5,1351.5 L1107.0,1358.2 L1107.6,1367.0 L1108.0,1371.5 L1109.0,1382.5 L1109.0,1382.6 L1110.0,1389.9 L1111.0,1395.6 L1111.9,1397.8 L1112.0,1397.8 L1113.0,1396.7 L1114.0,1393.7 L1115.0,1389.5 L1116.0,1384.5 L1116.0,1384.3 L1117.0,1376.5 L1117.8,1368.1 L1118.0,1366.4 L1119.0,1356.7 L1119.3,1352.7 L1120.0,1343.9 L1120.4,1337.2 L1121.0,1329.4 L1121.5,1321.7 L1122.0,1317.0 L1123.0,1307.1 L1123.1,1305.8 L1124.0,1293.3 L1124.2,1290.3 L1125.0,1281.1 L1125.5,1274.6 L1126.0,1268.0 L1126.6,1258.7 L1127.0,1254.7 L1128.0,1245.0 L1128.2,1243.3 L1129.0,1235.7 L1129.9,1227.3 L1130.0,1227.0 L1131.0,1218.9 L1131.9,1212.3 L1132.0,1212.0 L1133.0,1206.6 L1134.0,1201.9 L1135.0,1197.8 L1135.2,1196.9 L1136.0,1194.2 L1137.0,1191.0 L1138.0,1188.1 L1139.0,1185.0 L1139.9,1182.0 L1140.0,1181.6 L1141.0,1178.0 L1142.0,1174.2 L1143.0,1169.8 L1143.6,1166.6 L1144.0,1164.5 L1145.0,1157.6 L1145.9,1151.1 L1146.0,1149.9 L1147.0,1141.6 L1147.6,1136.1 L1148.0,1132.4 L1149.0,1122.1 L1149.2,1120.2 L1150.0,1108.5 L1150.3,1104.7 L1151.0,1093.9 L1151.4,1089.0 L1152.0,1082.6 L1152.9,1073.5 L1153.0,1072.5 L1154.0,1057.9 L1154.0,1057.6 L1155.0,1043.3 L1155.1,1041.7 L1156.0,1032.2 L1156.5,1026.7 L1157.0,1017.6 L1157.3,1011.3 L1158.0,995.8 L1158.0,995.6 L1158.7,979.2 L1159.0,972.7 L1159.6,963.8 L1160.0,955.7 L1160.4,948.3 L1161.0,937.1 L1161.3,931.7 L1162.0,921.7 L1162.4,916.2 L1163.0,907.9 L1163.5,900.8 L1164.0,893.6 L1164.6,885.3 L1165.0,881.2 L1166.0,871.6 L1166.2,869.8 L1167.0,858.7 L1167.3,854.4 L1168.0,838.9 L1168.0,836.5 L1168.4,823.4 L1169.0,808.7 L1169.1,808.0 L1169.5,792.5 L1169.8,775.9 L1170.0,765.0 L1170.2,760.4 L1170.6,745.0 L1171.0,734.7 L1171.3,729.5 L1171.9,714.0 L1172.0,710.5 L1172.4,697.5 L1173.0,682.0 L1173.0,682.0 L1173.9,666.5 L1174.0,664.8 L1175.0,649.9 L1175.0,649.6 L1175.3,634.5 L1175.7,619.1 L1176.0,606.4 L1176.1,603.6 L1176.8,588.1 L1177.0,582.7 L1177.5,572.7 L1177.9,557.2 L1178.0,553.5 L1178.6,541.3 L1179.0,525.6 L1179.0,524.2 L1179.4,510.1 L1180.0,496.0 L1180.1,494.2 L1180.6,478.1 L1181.0,466.9 L1181.2,462.6 L1181.7,446.7 L1182.0,437.3 L1182.3,431.2 L1183.0,415.3 L1183.0,414.0 L1183.9,399.8 L1184.0,395.8 L1184.5,384.1 L1185.1,371.8 L1185.2,368.7 L1186.1,353.2 L1186.1,352.8 L1187.0,337.3 L1187.1,336.0 L1188.1,324.1 L1188.3,321.4 L1189.1,312.1 L1189.6,305.7 L1190.1,300.6 L1191.1,290.7 L1191.2,290.2 L1192.1,286.6 L1193.1,283.3 L1194.1,280.8 L1195.1,279.2 L1196.0,278.7 L1196.1,278.7 L1197.1,283.1 L1198.1,291.3 L1198.5,294.2 L1199.1,298.2 L1200.1,305.0 L1200.7,309.7 L1201.1,313.2 L1202.1,323.5 L1202.2,325.1 L1203.1,336.5 L1203.3,340.6 L1204.0,356.7 L1204.1,358.4 L1205.1,372.0 L1205.1,372.2 L1206.0,388.1 L1206.1,390.5 L1206.6,403.6 L1207.1,410.2 L1207.7,419.5 L1208.1,427.5 L1208.4,435.0 L1209.1,444.8 L1209.5,450.7 L1210.1,460.2 L1210.4,466.1 L1211.0,482.0 L1211.1,482.7 L1211.7,497.5 L1212.1,504.0 L1212.6,513.0 L1213.1,525.1 L1213.3,528.9 L1214.1,540.0 L1214.4,544.4 L1215.0,560.1 L1215.1,561.2 L1215.9,575.5 L1216.1,578.1 L1217.0,591.4 L1217.1,592.8 L1217.7,606.9 L1218.1,617.0 L1218.3,622.8 L1219.1,635.7 L1219.2,638.3 L1219.9,653.3 L1220.1,656.5 L1221.0,668.7 L1221.1,670.1 L1222.1,685.2 L1222.1,685.3 L1223.1,698.6 L1223.2,700.8 L1223.6,716.2 L1224.1,727.4 L1224.3,731.7 L1225.1,743.8 L1225.4,748.3 L1226.1,757.9 L1226.5,763.8 L1227.1,771.8 L1227.6,779.2 L1228.1,785.4 L1228.7,794.7 L1229.1,802.5 L1229.4,810.2 L1229.8,825.6 L1230.1,830.6 L1230.9,842.2 L1231.1,845.4 L1231.6,857.7 L1232.0,873.1 L1232.1,874.4 L1233.1,888.0 L1233.1,888.6 L1234.1,902.0 L1234.3,904.1 L1235.1,915.9 L1235.4,919.6 L1236.1,930.8 L1236.5,936.1 L1237.1,945.2 L1237.6,951.6 L1238.1,959.2 L1238.7,967.1 L1239.1,973.2 L1239.8,982.5 L1240.1,987.2 L1240.9,998.0 L1241.1,1001.2 L1242.0,1013.5 L1242.1,1015.3 L1243.1,1029.0 L1243.1,1029.2 L1244.1,1036.5 L1245.1,1043.3 L1245.3,1045.0 L1246.1,1056.5 L1246.4,1060.9 L1247.1,1070.9 L1247.5,1076.4 L1248.1,1085.1 L1248.6,1092.3 L1249.1,1099.4 L1249.7,1107.8 L1250.1,1113.4 L1250.8,1123.5 L1251.1,1127.6 L1251.9,1139.0 L1252.1,1141.6 L1253.0,1154.4 L1253.1,1155.6 L1254.1,1169.7 L1254.1,1169.9 L1255.1,1184.1 L1255.2,1185.8 L1256.1,1198.1 L1256.4,1201.3 L1257.1,1212.8 L1257.5,1217.2 L1258.1,1224.2 L1259.0,1232.7 L1259.1,1234.1 L1260.1,1246.8 L1260.3,1248.3 L1261.1,1253.2 L1262.1,1258.3 L1263.1,1262.1 L1264.1,1264.1 L1264.5,1264.3 L1265.1,1263.8 L1266.1,1261.2 L1267.1,1256.7 L1268.1,1250.6 L1268.5,1248.1 L1269.1,1239.7 L1269.6,1232.2 L1270.1,1225.5 L1270.7,1217.2 L1271.1,1206.9 L1271.4,1201.3 L1272.1,1187.7 L1272.3,1185.8 L1273.1,1173.6 L1273.4,1169.9 L1274.0,1154.4 L1274.1,1150.6 L1274.5,1139.0 L1275.1,1122.8 L1275.2,1122.5 L1275.8,1107.3 L1276.2,1094.4 L1276.2,1091.9 L1277.2,1079.4 L1277.3,1076.4 L1278.0,1060.9 L1278.2,1058.1 L1278.9,1045.0 L1279.2,1041.8 L1280.2,1030.2 L1280.2,1029.0 L1280.7,1013.5 L1281.2,1005.9 L1281.8,998.0 L1282.2,989.7 L1282.4,982.5 L1282.9,967.1 L1283.2,959.2 L1283.5,950.5 L1284.2,939.7 L1284.4,935.0 L1285.1,919.6 L1285.2,918.2 L1286.2,904.5 L1286.2,904.1 L1286.9,887.5 L1287.2,881.5 L1287.7,872.0 L1288.2,865.8 L1288.8,856.6 L1289.2,852.0 L1289.9,841.1 L1290.2,838.0 L1291.0,825.6 L1291.2,824.0 L1292.2,810.2 L1292.2,810.0 L1293.2,798.5 L1293.5,794.7 L1294.2,784.8 L1294.6,779.2 L1295.2,772.9 L1296.1,763.8 L1296.2,763.4 L1297.2,754.7 L1297.9,748.3 L1298.2,745.7 L1299.2,735.5 L1299.4,732.8 L1300.2,725.4 L1301.0,717.3 L1301.2,715.6 L1302.2,707.0 L1302.8,701.9 L1303.2,698.1 L1304.2,688.7 L1304.5,685.3 L1305.2,677.9 L1306.1,669.8 L1306.2,669.4 L1307.2,665.6 L1308.2,662.7 L1309.2,660.9 L1310.1,660.3 L1310.2,660.3 L1311.2,660.9 L1312.2,662.4 L1313.2,664.8 L1314.2,668.1 L1315.2,672.3 L1316.0,676.5 L1316.2,677.8 L1317.1,691.9 L1317.2,692.9 L1318.2,705.7 L1318.2,706.3 L1318.9,722.9 L1319.2,728.4 L1319.8,738.3 L1320.2,747.4 L1320.4,753.8 L1320.9,770.4 L1321.2,778.3 L1321.5,785.9 L1322.2,801.2 L1322.2,801.3 L1323.1,816.8 L1323.2,819.2 L1323.8,832.3 L1324.2,839.1 L1324.9,847.7 L1325.2,852.5 L1326.0,864.3 L1326.2,869.6 L1326.6,879.8 L1327.2,890.3 L1327.5,895.2 L1328.2,905.1 L1328.6,910.7 L1329.2,919.2 L1329.7,926.2 L1330.2,932.2 L1331.0,941.7 L1331.2,943.4 L1332.2,954.0 L1332.6,957.1 L1333.2,961.4 L1334.2,967.8 L1335.2,972.2 L1335.9,973.3 L1336.2,973.1 L1337.2,971.5 L1338.2,968.4 L1339.2,964.9 L1339.2,964.9 L1340.2,960.7 L1341.2,955.2 L1342.1,949.4 L1342.2,948.4 L1343.2,938.8 L1343.6,933.9 L1344.2,925.6 L1344.8,918.5 L1345.2,914.0 L1346.2,906.1 L1346.5,903.0 L1347.2,890.5 L1347.4,887.5 L1348.2,876.4 L1348.5,872.0 L1349.2,856.6 L1349.2,855.1 L1349.8,841.1 L1350.2,833.1 L1350.7,824.5 L1351.2,816.8 L1351.8,809.1 L1352.2,804.1 L1353.1,793.6 L1353.2,792.4 L1354.2,778.3 L1354.3,778.1 L1355.2,768.4 L1355.8,762.7 L1356.2,756.6 L1356.9,747.2 L1357.2,743.4 L1358.2,733.7 L1358.5,731.7 L1359.2,724.8 L1360.2,716.2 L1360.2,716.0 L1361.2,705.1 L1361.8,699.7 L1362.2,695.3 L1363.2,686.8 L1363.5,684.2 L1364.2,677.3 L1365.3,666.7 L1366.3,655.8 L1367.3,644.9 L1368.3,634.6 L1369.3,625.5 L1369.5,623.5 L1370.3,618.0 L1371.3,611.5 L1371.9,606.9 L1372.3,604.5 L1373.3,596.8 L1373.9,591.4 L1374.3,588.6 L1375.3,579.6 L1375.7,576.0 L1376.3,571.4 L1377.3,563.8 L1377.9,559.4 L1378.3,556.8 L1379.3,549.2 L1380.3,544.2 L1380.6,543.9 L1381.3,544.1 L1382.3,544.7 L1383.3,545.8 L1384.3,547.3 L1385.3,549.3 L1385.6,550.1 L1386.3,553.0 L1387.3,561.0 L1387.8,566.0 L1388.3,569.9 L1389.3,580.3 L1389.4,581.5 L1390.3,591.2 L1390.7,597.0 L1391.3,607.0 L1391.6,612.4 L1392.3,620.9 L1392.9,627.9 L1393.3,631.0 L1394.3,640.1 L1394.5,643.4 L1394.8,659.4 L1395.3,671.4 L1395.5,674.9 L1396.3,686.9 L1396.6,690.8 L1397.3,700.2 L1397.7,706.3 L1398.3,720.6 L1398.3,721.8 L1399.2,737.2 L1399.3,738.5 L1399.9,753.1 L1400.3,762.9 L1400.6,768.8 L1401.3,781.9 L1401.4,784.8 L1402.1,800.2 L1402.3,804.8 L1402.8,815.7 L1403.3,825.1 L1403.6,831.6 L1404.3,846.8 L1404.3,847.1 L1405.3,861.1 L1405.4,862.8 L1406.3,875.1 L1406.5,878.2 L1407.3,889.5 L1407.6,894.1 L1408.3,903.6 L1408.7,909.6 L1409.3,917.6 L1409.8,925.1 L1410.3,932.0 L1410.9,941.0 L1411.3,945.1 L1412.3,955.0 L1412.5,956.7 L1413.3,963.5 L1414.3,972.2 L1414.3,972.7 L1415.3,987.3 L1415.4,988.1 L1416.3,1001.6 L1416.5,1003.5 L1417.3,1012.7 L1418.0,1019.4 L1418.3,1022.6 L1419.3,1033.1 L1419.8,1034.9 L1420.3,1034.9 L1421.3,1034.6 L1422.3,1034.4 L1422.7,1034.4 L1423.3,1039.1 L1424.2,1050.3 L1424.3,1051.4 L1425.3,1060.3 L1426.0,1065.8 L1426.3,1068.7 L1427.3,1076.4 L1428.0,1081.5 L1428.3,1084.5 L1429.3,1093.2 L1429.7,1096.7 L1430.3,1102.3 L1431.3,1111.5 L1431.5,1112.9 L1432.3,1119.2 L1433.3,1126.7 L1433.5,1127.9 L1434.3,1135.6 L1435.2,1143.8 L1435.3,1144.4 L1436.3,1151.6 L1437.3,1158.4 L1437.5,1159.3 L1438.3,1165.5 L1439.3,1172.6 L1439.7,1174.8 L1440.3,1179.2 L1441.3,1185.7 L1442.3,1190.2 L1442.3,1190.3 L1443.3,1193.1 L1444.3,1195.6 L1445.3,1197.8 L1446.3,1199.6 L1447.3,1200.8 L1448.3,1201.4 L1448.7,1201.5 L1449.3,1201.0 L1450.3,1198.6 L1451.3,1194.4 L1452.3,1189.2 L1452.9,1185.8 L1453.3,1182.5 L1454.3,1171.3 L1454.5,1169.9 L1455.4,1159.6 L1455.8,1154.4 L1456.4,1148.9 L1457.3,1138.7 L1457.4,1138.7 L1458.4,1124.2 L1458.5,1122.8 L1459.4,1110.7 L1459.6,1107.3 L1460.2,1091.4 L1460.4,1088.7 L1461.1,1075.7 L1461.4,1071.9 L1462.2,1059.8 L1462.4,1057.8 L1463.3,1044.4 L1463.4,1043.5 L1464.0,1029.0 L1464.4,1023.3 L1465.1,1013.5 L1465.4,1007.3 L1465.7,998.0 L1466.4,986.5 L1466.6,982.1 L1467.4,972.2 L1467.7,966.4 L1468.4,951.6 L1468.4,950.9 L1469.4,936.9 L1469.5,935.0 L1470.4,922.9 L1470.6,919.6 L1471.4,908.5 L1471.7,904.1 L1472.4,897.0 L1473.3,888.6 L1473.4,887.6 L1474.4,878.6 L1475.0,873.1 L1475.4,870.4 L1476.4,862.9 L1477.2,857.2 L1477.4,856.5 L1478.4,851.3 L1479.4,846.8 L1480.4,842.4 L1480.6,841.5 L1481.4,837.9 L1482.4,833.6 L1483.4,828.9 L1483.9,826.3 L1484.4,823.2 L1485.4,816.2 L1486.1,810.6 L1486.4,807.9 L1487.4,797.7 L1487.6,795.1 L1488.4,786.6 L1489.0,779.7 L1489.4,773.6 L1490.1,763.8 L1490.4,759.0 L1491.2,748.3 L1491.4,745.1 L1492.3,732.8 L1492.4,730.7 L1493.1,716.9 L1493.4,713.2 L1494.3,701.4 L1494.4,699.5 L1495.4,685.7 L1495.4,685.2 L1496.4,671.5 L1496.5,670.3 L1497.1,654.4 L1497.4,645.8 L1498.4,602.2 L1499.4,556.1 L1500.4,529.3 L1500.4,529.0 L1501.4,523.3 L1502.4,520.0 L1503.4,515.9 L1503.8,513.5 L1504.4,504.5 L1504.9,497.6 L1505.4,491.5 L1506.4,482.6 L1506.4,482.5 L1507.4,475.5 L1508.4,469.7 L1509.3,466.6 L1509.4,466.4 L1510.4,464.3 L1511.4,462.6 L1512.4,461.1 L1513.4,459.9 L1514.4,459.0 L1515.4,458.6 L1516.1,458.5 L1516.4,458.7 L1517.4,461.9 L1518.4,467.6 L1519.4,473.5 L1519.7,474.8 L1520.4,478.5 L1521.4,483.5 L1522.4,489.1 L1522.5,489.8 L1523.4,495.9 L1524.4,503.4 L1524.8,505.7 L1525.4,510.5 L1526.4,517.5 L1527.0,521.2 L1527.4,524.4 L1528.4,531.0 L1529.2,536.7 L1529.4,538.9 L1530.4,548.5 L1531.4,559.3 L1532.4,571.1 L1533.4,583.7 L1534.4,596.9 L1535.4,610.5 L1536.4,624.2 L1537.4,637.9 L1538.0,645.5 L1538.4,651.4 L1539.1,661.0 L1539.4,665.7 L1540.2,676.9 L1540.4,679.9 L1541.3,692.4 L1541.4,694.9 L1542.0,708.5 L1542.4,716.5 L1542.9,724.0 L1543.4,737.8 L1543.5,739.9 L1544.2,755.6 L1544.4,760.4 L1545.1,771.0 L1545.5,776.3 L1546.2,787.0 L1546.5,792.6 L1546.9,802.4 L1547.5,816.6 L1547.5,817.9 L1548.4,833.8 L1548.5,835.0 L1549.1,849.3 L1549.5,858.1 L1549.7,865.0 L1550.2,880.4 L1550.5,888.1 L1550.8,896.4 L1551.5,907.1 L1551.7,911.8 L1552.4,927.7 L1552.5,929.6 L1553.0,943.2 L1553.5,958.3 L1553.5,958.9 L1554.1,974.8 L1554.5,986.2 L1554.6,990.3 L1555.2,1005.7 L1555.5,1009.8 L1556.1,1021.7 L1556.5,1029.8 L1556.8,1037.1 L1557.5,1044.1 L1558.3,1052.8 L1558.5,1055.2 L1559.0,1069.1 L1559.5,1073.8 L1560.5,1080.3 L1561.2,1084.1 L1561.5,1085.6 L1562.5,1091.9 L1563.5,1097.0 L1564.3,1098.7 L1564.5,1098.6 L1565.5,1094.8 L1566.5,1087.7 L1567.2,1082.4 L1567.5,1080.2 L1568.5,1071.4 L1569.0,1066.9 L1569.5,1062.0 L1570.5,1051.7 L1570.5,1051.4 L1571.5,1037.6 L1571.6,1035.5 L1572.5,1017.7 L1573.5,994.0 L1574.5,973.7 L1574.5,973.6 L1575.5,959.6 L1575.6,958.2 L1576.5,945.6 L1576.7,942.8 L1577.5,930.9 L1577.8,927.3 L1578.5,922.0 L1579.5,915.8 L1580.0,910.7 L1580.5,899.4 L1580.7,895.2 L1581.5,880.2 L1581.5,879.3 L1582.5,865.9 L1582.7,863.6 L1583.5,851.5 L1583.8,847.7 L1584.5,837.4 L1584.9,832.3 L1585.5,823.0 L1586.0,816.8 L1586.5,811.3 L1587.5,802.7 L1587.7,800.9 L1588.5,795.2 L1589.5,788.5 L1589.9,785.9 L1590.5,782.7 L1591.5,777.2 L1592.5,772.3 L1593.3,769.3 L1593.5,768.4 L1594.5,764.7 L1595.5,761.1 L1596.5,758.1 L1597.5,756.2 L1598.3,755.6 L1598.5,755.6 L1599.5,756.3 L1600.5,757.9 L1601.5,760.1 L1602.5,762.9 L1603.5,765.9 L1604.5,769.0 L1605.0,770.4 L1605.5,772.1 L1606.5,775.5 L1607.5,779.6 L1608.5,784.7 L1608.7,785.9 L1609.5,792.0 L1610.5,801.3 L1610.5,801.6 L1611.5,811.1 L1612.0,816.8 L1612.5,822.9 L1613.1,832.7 L1613.5,841.4 L1613.8,848.2 L1614.5,860.7 L1614.7,863.9 L1615.4,879.3 L1615.5,883.2 L1616.0,895.2 L1616.5,910.7 L1616.5,912.5 L1617.1,926.6 L1617.5,940.9 L1617.6,942.1 L1618.2,957.8 L1618.5,968.8 L1618.7,973.7 L1619.3,989.2 L1619.5,992.9 L1620.2,1005.1 L1620.5,1012.5 L1620.9,1020.6 L1621.5,1028.3 L1622.0,1036.2 L1622.2,1051.7 L1622.5,1067.6 L1622.5,1070.6 L1622.7,1083.0 L1623.1,1099.0 L1623.5,1114.4 L1623.5,1114.5 L1623.8,1130.1 L1624.2,1145.6 L1624.5,1153.8 L1624.9,1161.5 L1625.3,1177.0 L1625.5,1182.8 L1626.0,1192.9 L1626.4,1208.3 L1626.5,1211.8 L1627.1,1224.0 L1627.5,1239.9 L1627.5,1240.7 L1628.2,1255.4 L1628.5,1261.0 L1629.1,1270.9 L1629.3,1286.8 L1629.5,1292.7 L1630.2,1302.3 L1630.5,1307.6 L1631.3,1318.0 L1631.5,1324.4 L1631.9,1333.9 L1632.5,1343.5 L1633.0,1349.3 L1633.5,1355.0 L1634.5,1364.2 L1635.0,1365.7 L1635.6,1365.5 L1636.6,1363.9 L1637.6,1360.9 L1638.6,1356.6 L1639.0,1354.2 L1639.6,1347.5 L1640.1,1338.3 L1640.6,1333.3 L1641.2,1322.8 L1641.5,1307.3 L1641.6,1304.8 L1642.3,1291.4 L1642.6,1276.4 L1642.6,1275.7 L1643.0,1260.3 L1643.6,1246.7 L1643.6,1244.4 L1644.1,1228.9 L1644.6,1217.8 L1644.8,1213.0 L1645.2,1197.5 L1645.6,1189.0 L1645.9,1182.0 L1646.3,1166.4 L1646.6,1157.8 L1646.7,1150.9 L1647.0,1135.0 L1647.4,1119.1 L1647.6,1113.7 L1647.8,1103.6 L1648.1,1087.9 L1648.5,1072.0 L1648.6,1070.0 L1649.0,1056.5 L1649.2,1040.6 L1649.6,1032.8 L1650.3,1022.3 L1650.6,1012.1 L1650.7,1006.9 L1651.4,991.4 L1651.6,985.3 L1651.8,975.9 L1652.3,960.0 L1652.6,952.8 L1652.9,944.5 L1653.4,928.8 L1653.6,916.1 L1653.6,913.4 L1654.0,897.5 L1654.5,882.0 L1654.6,876.1 L1654.7,866.1 L1655.1,850.6 L1655.6,835.5 L1655.6,835.1 L1655.8,819.4 L1656.2,804.0 L1656.6,791.6 L1656.7,788.1 L1657.3,772.6 L1657.6,764.7 L1657.8,757.1 L1658.5,741.2 L1658.6,738.3 L1659.1,725.7 L1659.6,717.6 L1660.0,710.1 L1660.6,696.2 L1660.7,694.6 L1661.6,681.4 L1661.8,679.1 L1662.6,670.5 L1663.3,663.6 L1663.6,661.3 L1664.6,653.2 L1665.1,648.8 L1665.6,644.1 L1666.6,633.8 L1667.6,622.7 L1668.6,611.1 L1669.6,599.1 L1670.6,587.0 L1671.6,575.0 L1672.6,563.4 L1673.6,552.3 L1674.6,542.0 L1675.0,537.8 L1675.6,532.8 L1676.6,524.5 L1676.6,524.3 L1677.6,515.5 L1678.3,508.6 L1678.6,506.1 L1679.6,496.0 L1679.9,493.1 L1680.6,486.2 L1681.6,477.8 L1681.7,477.5 L1682.6,472.1 L1683.6,466.9 L1684.6,463.2 L1685.6,461.8 L1685.6,461.8 L1686.6,461.9 L1687.6,462.2 L1688.6,462.8 L1689.6,463.6 L1690.6,464.6 L1691.6,466.0 L1691.6,466.0 L1692.6,471.3 L1693.6,480.2 L1693.8,481.9 L1694.6,489.0 L1695.4,496.9 L1695.6,500.3 L1696.5,513.0 L1696.6,515.0 L1697.6,526.1 L1697.8,528.3 L1698.6,540.6 L1699.6,557.9 L1700.6,577.1 L1701.6,597.5 L1702.6,618.1 L1703.6,638.2 L1704.4,653.3 L1704.6,657.2 L1705.3,669.2 L1705.6,673.4 L1706.6,684.9 L1706.6,684.9 L1707.6,699.3 L1707.7,700.8 L1708.6,713.3 L1708.8,716.2 L1709.6,727.7 L1709.9,731.7 L1710.6,739.9 L1711.5,747.6 L1711.6,748.5 L1712.6,754.1 L1713.6,758.7 L1714.6,761.8 L1715.5,762.7 L1715.6,762.6 L1716.6,762.3 L1717.6,761.4 L1718.6,760.3 L1719.6,758.9 L1720.6,757.5 L1721.6,756.1 L1722.6,755.0 L1723.6,754.2 L1724.6,753.8 L1724.8,753.8 L1725.7,754.7 L1726.7,757.7 L1727.7,762.0 L1728.7,767.3 L1728.7,767.7 L1729.7,776.3 L1730.3,783.2 L1730.7,786.9 L1731.7,796.8 L1731.8,798.7 L1732.7,810.0 L1732.9,814.6 L1733.6,830.1 L1733.7,831.2 L1734.7,844.9 L1734.7,845.5 L1735.4,861.4 L1735.7,866.9 L1736.2,876.9 L1736.7,886.7 L1736.9,892.6 L1737.6,908.1 L1737.7,909.9 L1738.5,924.0 L1738.7,928.6 L1739.1,939.4 L1739.7,952.3 L1739.8,955.4 L1740.2,970.8 L1740.7,981.1 L1740.9,986.5 L1741.3,1002.4 L1741.7,1014.8 L1741.8,1017.9 L1742.4,1033.4 L1742.7,1035.9 L1743.7,1042.1 L1744.6,1049.4 L1744.7,1049.9 L1745.3,1064.7 L1745.7,1071.7 L1746.2,1080.4 L1746.7,1087.6 L1747.3,1095.9 L1747.7,1100.9 L1748.6,1111.8 L1748.7,1112.2 L1749.7,1120.5 L1750.7,1126.5 L1751.3,1127.7 L1751.7,1127.6 L1752.7,1126.6 L1753.7,1124.9 L1754.7,1122.5 L1755.7,1119.7 L1756.1,1118.4 L1756.7,1116.2 L1757.7,1110.5 L1758.7,1104.5 L1759.0,1102.9 L1759.7,1099.5 L1760.7,1094.2 L1761.7,1089.7 L1762.7,1087.2 L1763.0,1087.0 L1763.7,1087.3 L1764.7,1088.4 L1765.7,1090.4 L1766.7,1093.0 L1767.7,1096.0 L1768.7,1099.2 L1769.0,1100.1 L1769.7,1103.2 L1770.7,1109.0 L1771.6,1115.1 L1771.7,1115.8 L1772.7,1124.6 L1773.4,1131.0 L1773.7,1134.3 L1774.7,1144.4 L1774.9,1146.5 L1775.7,1153.5 L1776.7,1161.9 L1776.7,1162.1 L1777.7,1171.4 L1778.5,1177.4 L1778.7,1179.1 L1779.7,1184.3 L1780.7,1189.2 L1781.3,1193.1 L1781.7,1196.5 L1782.7,1207.1 L1782.9,1208.6 L1783.7,1214.9 L1784.7,1221.5 L1785.1,1224.0 L1785.7,1228.9 L1786.7,1236.4 L1787.3,1239.3 L1787.7,1240.7 L1788.7,1243.9 L1789.7,1246.5 L1790.7,1248.5 L1791.7,1249.7 L1792.4,1249.9 L1792.7,1249.5 L1793.7,1245.4 L1794.7,1238.6 L1795.5,1233.3 L1795.7,1231.5 L1796.7,1223.1 L1797.2,1217.8 L1797.7,1211.4 L1798.3,1202.4 L1798.7,1197.3 L1799.4,1186.9 L1799.7,1180.2 L1800.1,1171.0 L1800.7,1162.9 L1801.2,1155.5 L1801.7,1139.8 L1801.7,1137.7 L1802.3,1124.4 L1802.7,1116.8 L1803.2,1108.5 L1803.7,1096.5 L1803.9,1093.0 L1804.3,1077.1 L1804.7,1066.6 L1805.0,1061.4 L1805.6,1045.9 L1805.7,1042.5 L1806.1,1030.1 L1806.7,1014.6 L1806.7,1014.6 L1807.2,999.1 L1807.6,983.2 L1807.7,980.1 L1808.3,967.7 L1808.7,952.0 L1808.7,951.7 L1809.4,936.1 L1809.7,923.6 L1809.8,920.7 L1810.5,904.8 L1810.7,897.1 L1810.9,889.3 L1811.2,873.6 L1811.6,857.7 L1811.7,852.9 L1812.0,842.2 L1812.3,826.3 L1812.7,810.6 L1812.7,808.5 L1813.0,794.7 L1813.2,779.2 L1813.5,763.3 L1813.7,750.9 L1813.8,747.8 L1814.1,732.2 L1814.3,716.2 L1814.6,700.8 L1814.7,691.8 L1814.9,684.9 L1815.4,669.2 L1815.8,660.0 L1816.0,653.7 L1816.8,632.2 L1817.8,597.7 L1818.8,559.9 L1819.8,521.7 L1820.4,496.7 L1820.8,485.3 L1820.9,481.2 L1821.5,465.7 L1821.8,459.3 L1822.0,450.3 L1822.2,434.8 L1822.7,418.9 L1822.8,415.3 L1823.1,403.4 L1823.3,387.7 L1823.8,371.8 L1823.8,371.7 L1824.2,356.4 L1824.8,342.8 L1824.9,340.4 L1825.5,324.8 L1825.8,316.8 L1826.0,309.3 L1826.4,293.4 L1826.8,284.7 L1827.1,277.9 L1827.7,262.4 L1827.8,261.9 L1828.8,247.7 L1828.8,246.5 L1829.7,231.0 L1829.8,230.4 L1830.8,216.2 L1830.8,215.4 L1831.8,202.1 L1831.9,199.9 L1832.8,189.4 L1833.3,184.4 L1833.8,179.9 L1834.8,171.7 L1835.7,168.5 L1835.8,168.5 L1836.8,169.1 L1837.8,170.7 L1838.8,173.1 L1839.8,176.3 L1839.9,176.7 L1840.8,184.1 L1841.4,192.2 L1841.8,196.7 L1842.5,207.8 L1842.8,211.0 L1843.6,223.3 L1843.8,226.1 L1844.3,239.2 L1844.8,247.5 L1845.2,254.7 L1845.8,268.6 L1845.9,270.6 L1846.3,286.3 L1846.8,297.3 L1847.0,301.8 L1847.4,317.7 L1847.8,326.5 L1848.1,333.1 L1848.5,349.1 L1848.8,355.7 L1849.2,364.5 L1849.6,380.2 L1849.8,391.3 L1849.9,395.7 L1850.3,411.6 L1850.7,427.1 L1850.8,429.0 L1851.4,443.0 L1851.8,457.0 L1851.8,458.5 L1852.1,474.1 L1852.5,490.1 L1852.8,501.4 L1853.8,537.7 L1854.8,573.0 L1855.8,607.8 L1856.8,642.8 L1856.9,646.6 L1857.3,662.1 L1857.6,678.0 L1857.8,686.1 L1858.0,693.5 L1858.5,709.2 L1858.7,724.6 L1858.8,727.3 L1859.6,740.6 L1859.8,755.6 L1859.8,756.0 L1860.2,771.9 L1860.7,787.4 L1860.8,791.0 L1861.3,803.1 L1861.8,818.6 L1861.8,820.3 L1862.0,834.5 L1862.4,849.9 L1862.8,858.6 L1863.1,865.4 L1863.5,881.3 L1863.8,891.3 L1864.0,897.0 L1864.6,912.9 L1864.8,916.6 L1865.3,928.4 L1865.7,944.3 L1865.8,945.5 L1866.8,959.0 L1866.9,959.8 L1867.5,975.5 L1867.8,979.4 L1868.8,988.7 L1869.1,990.9 L1869.8,999.6 L1870.8,1007.1 L1870.8,1007.1 L1871.8,1006.4 L1872.8,1004.4 L1873.8,1001.6 L1874.6,999.1 L1874.8,998.2 L1875.8,991.6 L1876.8,983.6 L1876.8,983.5 L1877.8,975.0 L1878.6,968.2 L1878.8,965.7 L1879.8,955.6 L1880.1,952.3 L1880.8,942.0 L1881.2,936.8 L1881.8,930.7 L1882.8,922.5 L1883.0,921.3 L1883.8,915.5 L1884.8,909.4 L1885.6,905.9 L1885.8,905.2 L1886.8,902.5 L1887.8,900.5 L1888.8,898.8 L1889.8,897.2 L1890.8,895.4 L1891.8,893.1 L1892.3,891.9 L1892.8,890.1 L1893.8,886.1 L1894.8,881.2 L1895.6,876.9 L1895.8,875.1 L1896.8,865.6 L1897.3,861.0 L1897.8,857.5 L1898.8,851.3 L1899.6,845.5 L1899.8,842.3 L1900.7,830.1 L1900.8,827.1 L1901.5,814.1 L1901.8,807.0 L1902.2,798.7 L1902.8,789.2 L1903.3,783.0 L1903.8,775.5 L1904.4,767.5 L1904.8,761.3 L1905.5,751.6 L1905.9,747.0 L1906.6,736.1 L1906.9,733.0 L1907.7,720.2 L1907.9,718.5 L1908.8,704.8 L1908.9,704.6 L1909.9,694.1 L1910.4,689.1 L1910.9,683.9 L1911.9,674.0 L1912.2,673.1 L1912.4,673.3 L1912.9,670.5 L1913.9,658.2 L1914.1,657.2 L1914.9,657.6 L1915.9,659.0 L1916.9,661.3 L1917.9,664.5 L1918.1,665.4 L1918.9,669.9 L1919.9,680.2 L1919.9,681.2 L1920.9,696.2 L1920.9,697.0 L1921.9,708.7 L1922.1,712.3 L1922.8,728.0 L1922.9,730.1 L1923.6,743.9 L1923.9,748.8 L1924.3,759.3 L1924.9,772.5 L1925.0,775.2 L1925.4,790.7 L1925.9,806.9 L1925.9,807.3 L1926.5,822.3 L1926.9,835.4 L1927.0,838.2 L1927.6,853.7 L1927.9,861.9 L1928.1,869.8 L1928.3,885.3 L1928.7,900.8 L1928.9,906.2 L1929.2,916.2 L1929.8,932.2 L1929.9,933.4 L1930.3,947.6 L1930.5,963.3 L1930.9,977.4 L1930.9,979.2 L1931.6,994.7 L1931.9,1005.3 L1932.0,1010.6 L1932.9,1022.7 L1933.1,1026.1 L1933.9,1035.3 L1934.3,1041.0 L1934.9,1056.2 L1934.9,1057.0 L1935.8,1072.4 L1935.9,1074.2 L1936.5,1088.1 L1936.9,1098.5 L1937.1,1103.6 L1937.9,1114.8 L1938.2,1119.5 L1938.9,1129.0 L1939.3,1135.4 L1939.9,1143.1 L1940.4,1150.9 L1940.9,1157.2 L1941.5,1166.6 L1941.9,1171.4 L1942.7,1182.0 L1942.9,1185.5 L1943.8,1198.0 L1943.9,1199.9 L1944.9,1213.4 L1944.9,1213.9 L1945.9,1227.9 L1946.0,1228.9 L1946.9,1241.9 L1947.1,1244.4 L1947.9,1256.3 L1948.2,1260.3 L1948.9,1270.4 L1949.3,1275.7 L1949.9,1284.9 L1950.4,1291.4 L1950.9,1296.8 L1951.9,1306.5 L1951.9,1306.9 L1952.9,1321.1 L1953.0,1322.8 L1953.9,1331.6 L1954.6,1338.3 L1954.9,1342.0 L1955.9,1354.1 L1955.9,1354.2 L1956.9,1364.4 L1957.5,1369.7 L1957.9,1374.0 L1958.9,1383.1 L1959.2,1385.4 L1959.9,1389.9 L1960.9,1396.1 L1961.9,1400.0 L1962.3,1400.4 L1962.9,1400.3 L1963.9,1399.5 L1964.9,1398.0 L1965.9,1395.7 L1966.9,1392.6 L1967.0,1392.4 L1967.9,1379.2 L1968.1,1377.0 L1968.9,1365.2 L1969.2,1361.5 L1969.9,1348.2 L1970.1,1346.0 L1970.9,1333.9 L1971.2,1329.9 L1971.8,1314.0 L1971.9,1311.6 L1972.5,1298.5 L1972.9,1292.0 L1973.4,1283.0 L1973.6,1267.1 L1973.9,1255.0 L1974.0,1251.7 L1974.7,1236.0 L1974.9,1228.0 L1975.1,1220.1 L1975.6,1204.6 L1975.9,1196.3 L1976.2,1188.7 L1976.7,1173.2 L1976.9,1157.8 L1976.9,1157.5 L1977.3,1142.0 L1977.8,1126.1 L1977.9,1117.4 L1978.0,1110.7 L1978.5,1094.8 L1978.9,1079.3 L1978.9,1078.2 L1979.6,1063.6 L1979.9,1055.7 L1980.2,1047.7 L1980.5,1033.4 L1980.7,1017.9 L1980.9,1009.4 L1981.1,1002.4 L1981.4,986.5 L1981.8,970.8 L1981.9,965.3 L1982.2,955.4 L1982.5,939.4 L1982.9,924.0 L1982.9,921.7 L1983.3,908.1 L1983.6,892.6 L1983.9,878.4 L1984.0,876.9 L1984.4,861.0 L1984.7,845.5 L1984.9,834.7 L1985.1,829.6 L1985.5,814.1 L1985.8,798.5 L1985.9,791.4 L1986.2,782.5 L1986.6,767.1 L1986.9,751.2 L1986.9,748.4 L1987.3,735.7 L1987.7,720.0 L1987.9,707.0 L1988.0,704.1 L1988.2,687.2 L1988.6,671.8 L1988.9,665.8 L1989.6,656.2 L1989.9,648.0 L1990.2,640.7 L1990.7,624.9 L1990.9,613.7 L1991.1,609.5 L1991.7,593.7 L1991.9,585.9 L1992.3,577.8 L1992.9,566.4 L1993.2,562.4 L1993.9,553.9 L1994.7,546.6 L1994.9,544.5 L1996.0,536.2 L1997.0,530.9 L1997.3,530.6 L1998.0,530.8 L1999.0,532.1 L2000.0,534.1 L2001.0,536.6 L2001.1,537.1 L2002.0,540.9 L2003.0,548.1 L2003.6,552.9 L2004.0,556.2 L2005.0,565.8 L2005.3,568.7 L2006.0,574.5 L2007.0,582.9 L2007.1,584.2 L2008.0,592.9 L2008.7,599.7 L2009.0,602.0 L2010.0,609.3 L2010.9,615.2 L2011.0,615.8 L2012.0,621.8 L2013.0,627.4 L2013.5,630.7 L2014.0,633.3 L2015.0,639.3 L2016.0,645.3" stroke="#5f1480" stroke-width="5.4" stroke-dasharray="4.8 11"/>
</g>
<g font-size="55">
<text x="237.0" y="1699.5" text-anchor="middle">0</text>
<text x="414.8" y="1699.5" text-anchor="middle">2</text>
<text x="592.7" y="1699.5" text-anchor="middle">4</text>
<text x="770.5" y="1699.5" text-anchor="middle">6</text>
<text x="948.4" y="1699.5" text-anchor="middle">8</text>
<text x="1126.2" y="1699.5" text-anchor="middle">10</text>
<text x="1304.0" y="1699.5" text-anchor="middle">12</text>
<text x="1481.9" y="1699.5" text-anchor="middle">14</text>
<text x="1659.7" y="1699.5" text-anchor="middle">16</text>
<text x="1837.6" y="1699.5" text-anchor="middle">18</text>
<text x="2015.4" y="1699.5" text-anchor="middle">20</text>
<text x="214" y="54.6" text-anchor="end">150</text>
<text x="214" y="321.0" text-anchor="end">100</text>
<text x="214" y="587.4" text-anchor="end">50</text>
<text x="214" y="853.8" text-anchor="end">0</text>
<text x="214" y="1120.2" text-anchor="end">−50</text>
<text x="214" y="1386.6" text-anchor="end">−100</text>
<text x="214" y="1653.0" text-anchor="end">−150</text>
</g>
<text x="1130.5" y="1784" font-size="60" text-anchor="middle">Time(s)</text>
<text transform="translate(62,1465) rotate(-90)" font-size="59.7">Relative <tspan x="214.1">displacement </tspan><tspan x="554.2">between </tspan><tspan x="772.7">RP13 </tspan><tspan x="919.9">and </tspan><tspan x="1022.9">RP14 </tspan><tspan x="1168.8">(mm)</tspan></text>
<rect x="246.4" y="51.7" width="797.2" height="289.6" fill="#fff" stroke="#1f1f1f" stroke-width="5"/>
<g fill="none" stroke-width="4.7">
<path d="M264,93.2 H437" stroke="#006fbe"/>
<path d="M264,162.2 H437" stroke="#dd5012" stroke-dasharray="40 23"/>
<path d="M264,230.6 H438" stroke="#eeb01e" stroke-dasharray="33 11.3 8.5 10.2"/>
<path d="M264,299.6 H437" stroke="#5f1480" stroke-width="5.4" stroke-dasharray="4.8 11"/>
</g>
<g font-size="55.5" class="lg">
<text x="450" y="104.0">underground full tank</text>
<text x="450" y="173.0">underground empty tank</text>
<text x="450" y="242.0">aboveground full tank</text>
<text x="450" y="311.0">aboveground empty tank</text>
</g>
</g>
</svg></body></html>
